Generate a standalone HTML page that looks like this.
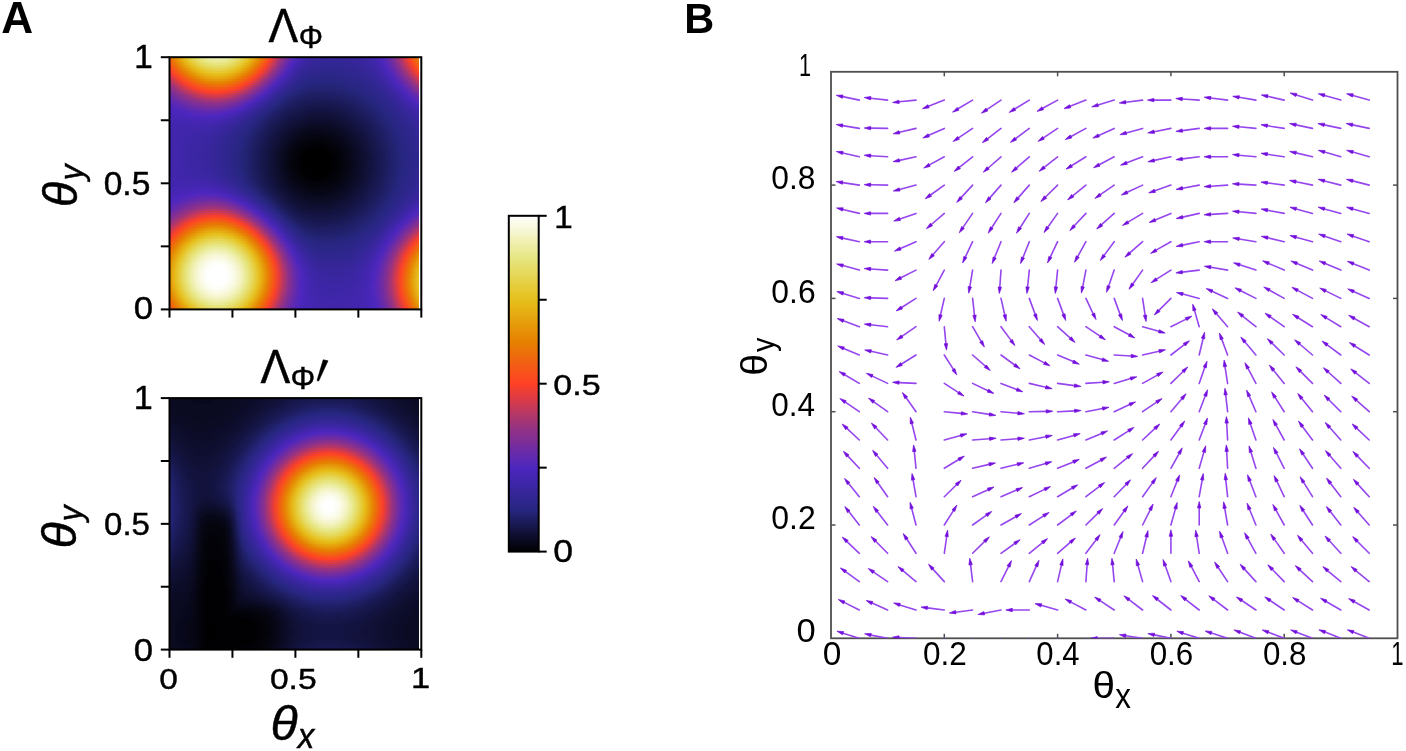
<!DOCTYPE html><html><head><meta charset="utf-8"><style>html,body{margin:0;padding:0;background:#fff}#root{position:relative;width:1406px;height:751px;overflow:hidden;background:#fff;filter:blur(0.4px)}svg text{font-family:"Liberation Sans",sans-serif}</style></head><body><div id="root">
<div style="position:absolute;left:169.5px;top:57.2px;width:249.5px;height:252.2px;overflow:hidden">
<div style="height:2px;background:linear-gradient(90deg,#ed6d0b,#e68904,#e6a30e,#e6bd18,#e6cc3c,#e6d85c,#e6e276,#e9e98f,#ededa3,#efefaf,#f0f0b3,#f0f0b3,#efefaf,#ecec9f,#e8e88b,#e6e172,#e6d759,#e6ca36,#e6bb18,#e69f0c,#e68301,#ef670f,#fb4921,#dd3c44,#b1366b,#8b318b,#712ca1,#5928b5,#4926ba,#4226ae,#3d26a6,#3a26a0,#37269c,#36269a,#352698,#352698,#352698,#352698,#352698,#36269a,#36269a,#37269c,#38269e,#3b26a2,#3d26a6,#4126ac,#4726b6,#4d26bf,#602aaf,#762d9d,#903287,#b43668,#e13c41,#fb4921,#ef670f,#e68502)"></div>
<div style="height:2px;background:linear-gradient(90deg,#f06510,#e68100,#e69b0b,#e6b515,#e6c72f,#e6d24c,#e6dd69,#e6e47c,#e9e98f,#ecec9f,#ededa3,#ededa3,#ebeb9b,#e9e98f,#e6e47c,#e6dc66,#e6d149,#e6c529,#e6b114,#e69709,#e77b03,#f35f14,#ff4126,#d43a4c,#a73573,#87308f,#6c2ca5,#5428b9,#4826b8,#4126ac,#3c26a4,#38269e,#36269a,#352698,#342696,#342696,#342696,#342696,#342696,#352698,#36269a,#37269c,#38269e,#3a26a0,#3d26a6,#4126ac,#4626b4,#4c26be,#5c29b3,#712ca1,#8b318b,#ad366e,#d73b49,#fe4324,#f26112,#e77d02)"></div>
<div style="height:2px;background:linear-gradient(90deg,#f35d15,#e87904,#e69308,#e6ad12,#e6c11f,#e6cd3f,#e6d759,#e6df6f,#e6e57f,#e8e88b,#e9e993,#e9e993,#e8e88b,#e6e47c,#e6de6c,#e6d656,#e6cc3c,#e6bf19,#e6a910,#e68f06,#eb7308,#f65718,#f43e30,#c73957,#9d347c,#802f95,#652aab,#5027bd,#4626b4,#4026aa,#3b26a2,#37269c,#352698,#342696,#322694,#322694,#322694,#322694,#342696,#342696,#352698,#36269a,#37269c,#3a26a0,#3c26a4,#4026aa,#4426b2,#4a26bc,#5928b5,#6f2ca3,#87308f,#a43476,#cd3a52,#fa3f2a,#f55917,#ea7506)"></div>
<div style="height:2px;background:linear-gradient(90deg,#f65718,#eb7109,#e68b05,#e6a30e,#e6b917,#e6c72f,#e6d149,#e6d95f,#e6df6f,#e6e379,#e6e57f,#e6e57f,#e6e379,#e6de6c,#e6d85c,#e6d046,#e6c62c,#e6b515,#e69f0c,#e68502,#ef690e,#fa4d1e,#e73d3b,#bd3860,#953283,#782e9b,#602aaf,#4c26be,#4326b0,#3d26a6,#38269e,#36269a,#342696,#322694,#312692,#312692,#312692,#312692,#322694,#322694,#342696,#352698,#36269a,#38269e,#3b26a2,#3e26a8,#4326b0,#4926ba,#5428b9,#6a2ba7,#822f93,#9d347c,#c4385a,#f13e33,#f8511c,#ed6d0b)"></div>
<div style="height:2px;background:linear-gradient(90deg,#f94f1d,#ef670f,#e68100,#e6990a,#e6af13,#e6c11f,#e6cb39,#e6d34f,#e6d95f,#e6dd69,#e6de6c,#e6de6c,#e6dd69,#e6d85c,#e6d24c,#e6ca36,#e6bf19,#e6ab11,#e69508,#e77b03,#f26112,#fd4523,#da3b46,#b1366b,#8b318b,#712ca1,#5928b5,#4926ba,#4126ac,#3b26a2,#37269c,#342696,#322694,#312692,#302690,#302690,#302690,#312692,#312692,#312692,#322694,#342696,#352698,#37269c,#3a26a0,#3d26a6,#4126ac,#4726b6,#5227bb,#652aab,#7b2e99,#953283,#ba3762,#e43c3e,#fb4921,#f06510)"></div>
<div style="height:2px;background:linear-gradient(90deg,#fd4523,#f35f14,#e97705,#e68f06,#e6a50f,#e6b716,#e6c426,#e6cc3c,#e6d24c,#e6d656,#e6d85c,#e6d85c,#e6d656,#e6d149,#e6cb39,#e6c322,#e6b515,#e69f0c,#e68904,#eb7109,#f65718,#f73f2d,#cd3a52,#a43476,#843091,#6a2ba7,#5428b9,#4726b6,#3e26a8,#3a26a0,#352698,#322694,#312692,#302690,#2f268e,#2f268e,#2f268e,#302690,#302690,#312692,#312692,#322694,#342696,#36269a,#38269e,#3c26a4,#4026aa,#4626b4,#4d26bf,#602aaf,#762d9d,#8e3189,#b1366b,#d73b49,#ff4126,#f35d15)"></div>
<div style="height:2px;background:linear-gradient(90deg,#fa3f2a,#f7551a,#ed6d0b,#e68502,#e6990a,#e6ab11,#e6bb18,#e6c529,#e6cb39,#e6cf42,#e6d149,#e6d149,#e6cf42,#e6ca36,#e6c426,#e6b917,#e6a910,#e69508,#e67f00,#f06510,#fa4d1e,#ea3d38,#c1385d,#973381,#7b2e99,#632aad,#4d26bf,#4326b0,#3c26a4,#37269c,#342696,#312692,#302690,#2f268e,#2e268c,#2e268c,#2e268c,#2f268e,#2f268e,#302690,#302690,#312692,#342696,#352698,#37269c,#3b26a2,#3e26a8,#4326b0,#4a26bc,#5c29b3,#6f2ca3,#87308f,#a73573,#cd3a52,#f43e30,#f7531b)"></div>
<div style="height:2px;background:linear-gradient(90deg,#ed3e36,#fa4d1e,#f16311,#e87904,#e68d05,#e6a10d,#e6af13,#e6bd18,#e6c426,#e6c72f,#e6ca36,#e6c932,#e6c72f,#e6c322,#e6bb18,#e6ad12,#e69b0b,#e68904,#eb7308,#f45b16,#ff4126,#da3b46,#b1366b,#8e3189,#732d9f,#5c29b3,#4926ba,#4126ac,#3a26a0,#352698,#312692,#302690,#2e268c,#2e268c,#2c268a,#2c268a,#2c268a,#2e268c,#2e268c,#2f268e,#302690,#302690,#322694,#342696,#36269a,#38269e,#3d26a6,#4226ae,#4926ba,#5728b7,#6a2ba7,#822f93,#9a337e,#c1385d,#e73d3b,#fb4921)"></div>
<div style="height:2px;background:linear-gradient(90deg,#e13c41,#fe4324,#f55917,#ec6f0a,#e68100,#e69308,#e6a30e,#e6af13,#e6b917,#e6bf19,#e6c11f,#e6c11f,#e6bf19,#e6b716,#e6ad12,#e69f0c,#e68f06,#e77b03,#ef670f,#f94f1d,#f13e33,#ca3954,#a13479,#843091,#6a2ba7,#5428b9,#4626b4,#3e26a8,#37269c,#342696,#302690,#2e268c,#2c268a,#2c268a,#2b2688,#2b2688,#2b2688,#2c268a,#2c268a,#2e268c,#2f268e,#302690,#312692,#322694,#352698,#37269c,#3b26a2,#4126ac,#4726b6,#5027bd,#632aad,#7b2e99,#933285,#b43668,#da3b46,#ff4126)"></div>
<div style="height:2px;background:linear-gradient(90deg,#d13a4f,#f43e30,#f94f1d,#f16311,#e97705,#e68703,#e69709,#e6a30e,#e6ad12,#e6b314,#e6b515,#e6b515,#e6b114,#e6ab11,#e69f0c,#e69308,#e68301,#ec6f0a,#f45b16,#fe4324,#dd3c44,#ba3762,#953283,#7b2e99,#602aaf,#4c26be,#4326b0,#3b26a2,#352698,#312692,#2f268e,#2c268a,#2b2688,#2b2688,#2a2686,#2a2686,#2a2686,#2b2688,#2b2688,#2c268a,#2e268c,#2f268e,#302690,#312692,#342696,#36269a,#3a26a0,#3e26a8,#4426b2,#4c26be,#5e29b1,#732d9f,#89308d,#a73573,#ca3954,#f13e33)"></div>
<div style="height:2px;background:linear-gradient(90deg,#c4385a,#e43c3e,#fe4324,#f65718,#ef690e,#e77b03,#e68904,#e69508,#e69f0c,#e6a50f,#e6a710,#e6a710,#e6a30e,#e69d0c,#e69308,#e68502,#ea7506,#f16311,#fa4d1e,#f13e33,#cd3a52,#a73573,#89308d,#712ca1,#5928b5,#4826b8,#4026aa,#38269e,#342696,#2f268e,#2c268a,#2b2688,#2a2686,#292684,#292684,#292684,#292684,#2a2686,#2a2686,#2b2688,#2c268a,#2e268c,#2f268e,#302690,#322694,#352698,#38269e,#3d26a6,#4226ae,#4926ba,#5728b7,#6c2ca5,#822f93,#9a337e,#bd3860,#e13c41)"></div>
<div style="height:2px;background:linear-gradient(90deg,#b73765,#d43a4c,#f43e30,#fb4b20,#f35d15,#ed6d0b,#e77b03,#e68703,#e69107,#e69709,#e6990a,#e6990a,#e69508,#e68f06,#e68502,#e97705,#ef670f,#f7551a,#ff4126,#dd3c44,#ba3762,#973381,#802f95,#652aab,#5027bd,#4426b2,#3c26a4,#36269a,#312692,#2e268c,#2b2688,#292684,#292684,#282682,#282682,#282682,#282682,#292684,#292684,#2a2686,#2b2688,#2c268a,#2e268c,#2f268e,#312692,#342696,#37269c,#3b26a2,#4126ac,#4726b6,#5227bb,#652aab,#7b2e99,#903287,#b1366b,#d13a4f)"></div>
<div style="height:2px;background:linear-gradient(90deg,#aa3570,#c73957,#e43c3e,#ff4126,#f8511c,#f26112,#ec6f0a,#e87904,#e68301,#e68703,#e68b05,#e68904,#e68703,#e67f00,#ea7506,#ef690e,#f55917,#fb4921,#ed3e36,#cd3a52,#aa3570,#8b318b,#732d9f,#5c29b3,#4926ba,#4126ac,#3a26a0,#342696,#2f268e,#2b2688,#292684,#282682,#282682,#262680,#262680,#262680,#262680,#282682,#282682,#292684,#2a2686,#2b2688,#2c268a,#2e268c,#302690,#322694,#36269a,#3a26a0,#3e26a8,#4426b2,#4d26bf,#5e29b1,#712ca1,#89308d,#a13479,#c1385d)"></div>
<div style="height:2px;background:linear-gradient(90deg,#9d347c,#b73765,#d43a4c,#ed3e36,#fd4523,#f7531b,#f26112,#ee6b0c,#eb7308,#e87904,#e77b03,#e77b03,#e97705,#eb7109,#ef670f,#f45b16,#fb4b20,#f73f2d,#da3b46,#ba3762,#973381,#802f95,#682ba9,#5227bb,#4626b4,#3d26a6,#36269a,#302690,#2c268a,#2a2686,#282682,#262680,#25257c,#25257c,#25257c,#25257c,#25257c,#262680,#262680,#282682,#292684,#2a2686,#2b2688,#2c268a,#2f268e,#312692,#342696,#37269c,#3c26a4,#4226ae,#4926ba,#5728b7,#6a2ba7,#802f95,#953283,#b1366b)"></div>
<div style="height:2px;background:linear-gradient(90deg,#933285,#a73573,#c1385d,#da3b46,#f43e30,#fc4722,#f7531b,#f35d15,#f06510,#ee6b0c,#ed6d0b,#ed6d0b,#ef690e,#f16311,#f55917,#fa4d1e,#fd4028,#e13c41,#c4385a,#a73573,#8b318b,#732d9f,#5e29b1,#4a26bc,#4226ae,#3a26a0,#342696,#2e268c,#2a2686,#282682,#262680,#25257c,#242478,#242478,#242478,#242478,#242478,#25257c,#25257c,#262680,#282682,#292684,#2a2686,#2b2688,#2e268c,#302690,#322694,#36269a,#3b26a2,#4026aa,#4726b6,#5227bb,#632aad,#762d9d,#8b318b,#a43476)"></div>
<div style="height:2px;background:linear-gradient(90deg,#89308d,#9a337e,#b43668,#ca3954,#e13c41,#f73f2d,#fc4722,#f94f1d,#f65718,#f35d15,#f35f14,#f35d15,#f45b16,#f7531b,#fb4b20,#fd4028,#e73d3b,#cd3a52,#b1366b,#953283,#802f95,#682ba9,#5428b9,#4626b4,#3d26a6,#36269a,#302690,#2b2688,#292684,#262680,#242478,#242478,#232374,#232374,#232374,#232374,#232374,#242478,#242478,#25257c,#262680,#282682,#292684,#2a2686,#2c268a,#2f268e,#312692,#352698,#38269e,#3e26a8,#4426b2,#4c26be,#5c29b3,#6c2ca5,#822f93,#953283)"></div>
<div style="height:2px;background:linear-gradient(90deg,#802f95,#903287,#a43476,#ba3762,#cd3a52,#e43c3e,#f43e30,#fe4324,#fb4921,#fa4d1e,#f94f1d,#f94f1d,#fb4b20,#fd4523,#fa3f2a,#e73d3b,#d13a4f,#b73765,#9d347c,#87308f,#712ca1,#5e29b1,#4a26bc,#4226ae,#3a26a0,#342696,#2e268c,#2a2686,#262680,#242478,#232374,#222270,#222270,#222270,#222270,#222270,#222270,#232374,#232374,#242478,#25257c,#262680,#282682,#292684,#2b2688,#2e268c,#302690,#342696,#37269c,#3c26a4,#4226ae,#4826b8,#5428b9,#652aab,#782e9b,#8b318b)"></div>
<div style="height:2px;background:linear-gradient(90deg,#782e9b,#87308f,#953283,#aa3570,#bd3860,#d13a4f,#e13c41,#ed3e36,#f73f2d,#fd4028,#ff4126,#ff4126,#fa3f2a,#f13e33,#e43c3e,#d13a4f,#bd3860,#a43476,#8e3189,#7b2e99,#652aab,#5227bb,#4626b4,#3d26a6,#36269a,#302690,#2b2688,#282682,#25257c,#232374,#222270,#20206c,#20206c,#20206c,#20206c,#20206c,#20206c,#222270,#222270,#232374,#242478,#25257c,#262680,#282682,#2a2686,#2c268a,#2f268e,#312692,#352698,#3a26a0,#4026aa,#4626b4,#4d26bf,#5e29b1,#6f2ca3,#802f95)"></div>
<div style="height:2px;background:linear-gradient(90deg,#712ca1,#7d2e97,#8b318b,#9a337e,#aa3570,#bd3860,#ca3954,#d73b49,#e43c3e,#e73d3b,#ea3d38,#ea3d38,#e43c3e,#da3b46,#cd3a52,#ba3762,#a73573,#933285,#802f95,#6c2ca5,#5c29b3,#4a26bc,#4226ae,#3a26a0,#322694,#2e268c,#292684,#25257c,#232374,#222270,#20206c,#1f1f68,#1f1f68,#1e1e64,#1e1e64,#1f1f68,#1f1f68,#20206c,#20206c,#222270,#232374,#242478,#25257c,#282682,#292684,#2b2688,#2e268c,#302690,#342696,#38269e,#3d26a6,#4326b0,#4926ba,#5728b7,#652aab,#762d9d)"></div>
<div style="height:2px;background:linear-gradient(90deg,#6a2ba7,#732d9f,#822f93,#8e3189,#9a337e,#aa3570,#ba3762,#c4385a,#cd3a52,#d43a4c,#d43a4c,#d43a4c,#cd3a52,#c4385a,#b73765,#a73573,#953283,#843091,#732d9f,#602aaf,#5027bd,#4626b4,#3d26a6,#36269a,#302690,#2a2686,#262680,#242478,#222270,#1f1f68,#1f1f68,#1e1e64,#1e1e64,#1d1d60,#1d1d60,#1e1e64,#1e1e64,#1e1e64,#1f1f68,#20206c,#222270,#232374,#242478,#262680,#282682,#2a2686,#2c268a,#2f268e,#322694,#36269a,#3b26a2,#4126ac,#4726b6,#5027bd,#5e29b1,#6c2ca5)"></div>
<div style="height:2px;background:linear-gradient(90deg,#632aad,#6c2ca5,#782e9b,#843091,#8e3189,#9a337e,#a73573,#b1366b,#ba3762,#bd3860,#c1385d,#bd3860,#ba3762,#b1366b,#a43476,#953283,#87308f,#782e9b,#682ba9,#5728b7,#4826b8,#4126ac,#3a26a0,#322694,#2c268a,#282682,#242478,#222270,#1f1f68,#1e1e64,#1d1d60,#1d1d60,#1c1c5c,#1c1c5c,#1c1c5c,#1d1d60,#1d1d60,#1d1d60,#1e1e64,#1f1f68,#20206c,#222270,#232374,#25257c,#262680,#292684,#2b2688,#2e268c,#312692,#352698,#38269e,#3e26a8,#4326b0,#4a26bc,#5428b9,#632aad)"></div>
<div style="height:2px;background:linear-gradient(90deg,#5c29b3,#652aab,#6f2ca3,#782e9b,#843091,#8e3189,#953283,#9d347c,#a73573,#aa3570,#ad366e,#aa3570,#a43476,#9a337e,#933285,#87308f,#782e9b,#6a2ba7,#5c29b3,#4c26be,#4326b0,#3c26a4,#352698,#2f268e,#2a2686,#262680,#232374,#20206c,#1e1e64,#1d1d60,#1c1c5c,#1c1c5c,#1a1a58,#1a1a58,#1a1a58,#1a1a58,#1c1c5c,#1c1c5c,#1d1d60,#1e1e64,#1f1f68,#20206c,#222270,#242478,#25257c,#282682,#2a2686,#2c268a,#302690,#322694,#37269c,#3c26a4,#4126ac,#4726b6,#4d26bf,#5c29b3)"></div>
<div style="height:2px;background:linear-gradient(90deg,#5728b7,#5e29b1,#682ba9,#712ca1,#782e9b,#822f93,#89308d,#903287,#953283,#973381,#9a337e,#973381,#933285,#8b318b,#843091,#782e9b,#6c2ca5,#5e29b1,#5027bd,#4726b6,#3e26a8,#38269e,#312692,#2c268a,#282682,#242478,#20206c,#1e1e64,#1d1d60,#1c1c5c,#1a1a58,#1a1a58,#191954,#191954,#191954,#191954,#1a1a58,#1a1a58,#1c1c5c,#1d1d60,#1e1e64,#1f1f68,#222270,#232374,#242478,#262680,#292684,#2b2688,#2e268c,#312692,#352698,#3a26a0,#3e26a8,#4426b2,#4a26bc,#5428b9)"></div>
<div style="height:2px;background:linear-gradient(90deg,#5227bb,#5928b5,#602aaf,#682ba9,#712ca1,#782e9b,#802f95,#843091,#89308d,#8b318b,#8b318b,#89308d,#843091,#802f95,#762d9d,#6c2ca5,#602aaf,#5227bb,#4826b8,#4226ae,#3b26a2,#352698,#2f268e,#2a2686,#25257c,#222270,#1f1f68,#1d1d60,#1c1c5c,#1a1a58,#191954,#191954,#181850,#181850,#181850,#181850,#191954,#191954,#1a1a58,#1c1c5c,#1d1d60,#1e1e64,#20206c,#222270,#242478,#25257c,#282682,#2a2686,#2c268a,#302690,#342696,#37269c,#3c26a4,#4126ac,#4726b6,#4d26bf)"></div>
<div style="height:2px;background:linear-gradient(90deg,#4d26bf,#5428b9,#5928b5,#602aaf,#682ba9,#6f2ca3,#732d9f,#782e9b,#7d2e97,#802f95,#802f95,#7d2e97,#782e9b,#712ca1,#6a2ba7,#602aaf,#5428b9,#4a26bc,#4326b0,#3d26a6,#37269c,#312692,#2b2688,#262680,#232374,#20206c,#1e1e64,#1c1c5c,#1a1a58,#191954,#181850,#17174c,#17174c,#17174c,#17174c,#17174c,#181850,#181850,#191954,#1a1a58,#1c1c5c,#1d1d60,#1f1f68,#20206c,#232374,#242478,#262680,#292684,#2c268a,#2f268e,#322694,#36269a,#3b26a2,#3e26a8,#4426b2,#4926ba)"></div>
<div style="height:2px;background:linear-gradient(90deg,#4c26be,#5027bd,#5428b9,#5928b5,#602aaf,#652aab,#6a2ba7,#6f2ca3,#712ca1,#732d9f,#732d9f,#712ca1,#6c2ca5,#652aab,#5e29b1,#5428b9,#4c26be,#4626b4,#4026aa,#38269e,#342696,#2e268c,#292684,#25257c,#222270,#1e1e64,#1c1c5c,#1a1a58,#191954,#181850,#17174c,#161648,#161648,#161648,#161648,#161648,#17174c,#17174c,#181850,#191954,#1a1a58,#1c1c5c,#1e1e64,#1f1f68,#222270,#242478,#25257c,#282682,#2b2688,#2e268c,#312692,#352698,#38269e,#3d26a6,#4126ac,#4626b4)"></div>
<div style="height:2px;background:linear-gradient(90deg,#4926ba,#4c26be,#5027bd,#5428b9,#5928b5,#5e29b1,#602aaf,#652aab,#682ba9,#682ba9,#682ba9,#652aab,#602aaf,#5c29b3,#5428b9,#4c26be,#4626b4,#4126ac,#3b26a2,#352698,#302690,#2b2688,#262680,#232374,#1f1f68,#1d1d60,#1a1a58,#191954,#181850,#17174c,#161648,#141444,#141444,#141444,#141444,#141444,#161648,#161648,#17174c,#181850,#191954,#1c1c5c,#1d1d60,#1f1f68,#20206c,#232374,#25257c,#282682,#2a2686,#2c268a,#302690,#322694,#37269c,#3b26a2,#3e26a8,#4326b0)"></div>
<div style="height:2px;background:linear-gradient(90deg,#4826b8,#4a26bc,#4c26be,#4d26bf,#5227bb,#5728b7,#5928b5,#5c29b3,#5e29b1,#5e29b1,#5e29b1,#5c29b3,#5728b7,#5227bb,#4c26be,#4726b6,#4226ae,#3c26a4,#37269c,#322694,#2c268a,#292684,#242478,#20206c,#1e1e64,#1c1c5c,#191954,#181850,#17174c,#161648,#141444,#131340,#131340,#131340,#131340,#131340,#141444,#141444,#161648,#17174c,#181850,#1a1a58,#1c1c5c,#1e1e64,#1f1f68,#222270,#242478,#262680,#292684,#2b2688,#2f268e,#312692,#352698,#38269e,#3d26a6,#4126ac)"></div>
<div style="height:2px;background:linear-gradient(90deg,#4726b6,#4826b8,#4926ba,#4c26be,#4d26bf,#5027bd,#5227bb,#5428b9,#5728b7,#5728b7,#5428b9,#5227bb,#4d26bf,#4a26bc,#4726b6,#4226ae,#3d26a6,#38269e,#342696,#2f268e,#2a2686,#262680,#232374,#1f1f68,#1d1d60,#1a1a58,#181850,#17174c,#161648,#141444,#131340,#12123c,#12123c,#12123c,#12123c,#12123c,#131340,#131340,#141444,#161648,#181850,#191954,#1a1a58,#1d1d60,#1f1f68,#20206c,#232374,#25257c,#282682,#2a2686,#2e268c,#302690,#342696,#37269c,#3b26a2,#3e26a8)"></div>
<div style="height:2px;background:linear-gradient(90deg,#4626b4,#4726b6,#4826b8,#4926ba,#4a26bc,#4c26be,#4d26bf,#4d26bf,#5027bd,#4d26bf,#4d26bf,#4c26be,#4926ba,#4626b4,#4226ae,#3e26a8,#3a26a0,#36269a,#312692,#2c268a,#282682,#242478,#20206c,#1e1e64,#1c1c5c,#191954,#17174c,#161648,#141444,#131340,#12123c,#111138,#111138,#111138,#111138,#111138,#12123c,#12123c,#131340,#141444,#17174c,#181850,#1a1a58,#1c1c5c,#1e1e64,#20206c,#222270,#242478,#282682,#2a2686,#2c268a,#302690,#322694,#36269a,#3a26a0,#3d26a6)"></div>
<div style="height:2px;background:linear-gradient(90deg,#4626b4,#4626b4,#4726b6,#4726b6,#4826b8,#4926ba,#4926ba,#4a26bc,#4a26bc,#4a26bc,#4926ba,#4726b6,#4626b4,#4226ae,#3e26a8,#3b26a2,#37269c,#322694,#2f268e,#2a2686,#262680,#232374,#1f1f68,#1d1d60,#1a1a58,#181850,#161648,#141444,#131340,#12123c,#111138,#101034,#101034,#101034,#101034,#101034,#111138,#111138,#12123c,#131340,#161648,#17174c,#191954,#1a1a58,#1d1d60,#1f1f68,#222270,#242478,#262680,#292684,#2b2688,#2f268e,#312692,#352698,#38269e,#3b26a2)"></div>
<div style="height:2px;background:linear-gradient(90deg,#4426b2,#4426b2,#4626b4,#4626b4,#4726b6,#4726b6,#4726b6,#4826b8,#4726b6,#4726b6,#4626b4,#4426b2,#4226ae,#4026aa,#3c26a4,#38269e,#342696,#302690,#2c268a,#282682,#242478,#222270,#1e1e64,#1c1c5c,#191954,#17174c,#141444,#131340,#12123c,#111138,#101034,#0e0e30,#0e0e30,#0e0e30,#0e0e30,#0e0e30,#101034,#111138,#111138,#131340,#141444,#161648,#181850,#1a1a58,#1c1c5c,#1e1e64,#20206c,#232374,#25257c,#282682,#2b2688,#2e268c,#302690,#342696,#36269a,#3a26a0)"></div>
<div style="height:2px;background:linear-gradient(90deg,#4426b2,#4426b2,#4426b2,#4426b2,#4426b2,#4626b4,#4626b4,#4626b4,#4426b2,#4426b2,#4326b0,#4126ac,#4026aa,#3c26a4,#3a26a0,#36269a,#312692,#2e268c,#2a2686,#262680,#232374,#1f1f68,#1d1d60,#1a1a58,#181850,#161648,#131340,#12123c,#111138,#101034,#0e0e30,#0d0d2c,#0d0d2c,#0d0d2c,#0d0d2c,#0d0d2c,#0e0e30,#101034,#111138,#12123c,#131340,#161648,#17174c,#191954,#1c1c5c,#1e1e64,#20206c,#232374,#25257c,#282682,#2a2686,#2c268a,#302690,#322694,#36269a,#38269e)"></div>
<div style="height:2px;background:linear-gradient(90deg,#4326b0,#4326b0,#4326b0,#4326b0,#4326b0,#4326b0,#4326b0,#4326b0,#4326b0,#4226ae,#4126ac,#3e26a8,#3c26a4,#3a26a0,#37269c,#342696,#302690,#2c268a,#292684,#25257c,#222270,#1e1e64,#1c1c5c,#191954,#17174c,#141444,#131340,#111138,#101034,#0e0e30,#0d0d2c,#0c0c28,#0c0c28,#0c0c28,#0c0c28,#0c0c28,#0d0d2c,#0e0e30,#101034,#111138,#12123c,#141444,#161648,#181850,#1a1a58,#1d1d60,#1f1f68,#222270,#242478,#262680,#292684,#2c268a,#2f268e,#312692,#352698,#37269c)"></div>
<div style="height:2px;background:linear-gradient(90deg,#4326b0,#4326b0,#4326b0,#4326b0,#4226ae,#4226ae,#4226ae,#4226ae,#4126ac,#4026aa,#3e26a8,#3d26a6,#3b26a2,#37269c,#352698,#312692,#2e268c,#2a2686,#262680,#242478,#20206c,#1e1e64,#1a1a58,#181850,#161648,#131340,#12123c,#101034,#0e0e30,#0d0d2c,#0c0c28,#0b0b24,#0b0b24,#0b0b24,#0b0b24,#0b0b24,#0c0c28,#0d0d2c,#0e0e30,#101034,#111138,#131340,#161648,#17174c,#191954,#1c1c5c,#1e1e64,#20206c,#232374,#262680,#292684,#2b2688,#2e268c,#312692,#342696,#36269a)"></div>
<div style="height:2px;background:linear-gradient(90deg,#4226ae,#4226ae,#4226ae,#4226ae,#4226ae,#4126ac,#4126ac,#4126ac,#4026aa,#3e26a8,#3d26a6,#3b26a2,#38269e,#36269a,#322694,#302690,#2c268a,#292684,#25257c,#232374,#1f1f68,#1d1d60,#191954,#17174c,#141444,#131340,#111138,#0e0e30,#0d0d2c,#0c0c28,#0b0b24,#0a0a20,#0a0a20,#0a0a20,#0a0a20,#0a0a20,#0b0b24,#0c0c28,#0d0d2c,#0e0e30,#111138,#12123c,#141444,#17174c,#191954,#1c1c5c,#1e1e64,#20206c,#232374,#25257c,#282682,#2b2688,#2e268c,#302690,#322694,#36269a)"></div>
<div style="height:2px;background:linear-gradient(90deg,#4226ae,#4226ae,#4226ae,#4126ac,#4126ac,#4126ac,#4026aa,#4026aa,#3e26a8,#3d26a6,#3b26a2,#3a26a0,#37269c,#352698,#312692,#2f268e,#2b2688,#282682,#242478,#222270,#1e1e64,#1c1c5c,#191954,#17174c,#141444,#12123c,#101034,#0d0d2c,#0c0c28,#0b0b24,#0a0a20,#08081c,#08081c,#08081c,#08081c,#0a0a20,#0a0a20,#0b0b24,#0c0c28,#0e0e30,#101034,#12123c,#131340,#161648,#181850,#1a1a58,#1d1d60,#1f1f68,#222270,#25257c,#282682,#2a2686,#2c268a,#302690,#322694,#352698)"></div>
<div style="height:2px;background:linear-gradient(90deg,#4226ae,#4226ae,#4126ac,#4126ac,#4026aa,#4026aa,#3e26a8,#3e26a8,#3d26a6,#3c26a4,#3a26a0,#38269e,#36269a,#342696,#302690,#2e268c,#2a2686,#262680,#242478,#20206c,#1e1e64,#1a1a58,#181850,#161648,#131340,#111138,#0e0e30,#0d0d2c,#0b0b24,#0a0a20,#08081c,#08081c,#070718,#070718,#070718,#08081c,#08081c,#0a0a20,#0b0b24,#0d0d2c,#0e0e30,#111138,#131340,#161648,#181850,#1a1a58,#1d1d60,#1f1f68,#222270,#242478,#262680,#2a2686,#2c268a,#2f268e,#312692,#342696)"></div>
<div style="height:2px;background:linear-gradient(90deg,#4226ae,#4126ac,#4126ac,#4126ac,#4026aa,#3e26a8,#3e26a8,#3d26a6,#3c26a4,#3b26a2,#38269e,#37269c,#352698,#322694,#2f268e,#2c268a,#292684,#262680,#232374,#1f1f68,#1d1d60,#1a1a58,#181850,#141444,#12123c,#101034,#0e0e30,#0c0c28,#0a0a20,#08081c,#070718,#070718,#060614,#060614,#060614,#070718,#08081c,#0a0a20,#0b0b24,#0c0c28,#0e0e30,#101034,#12123c,#141444,#17174c,#191954,#1c1c5c,#1e1e64,#222270,#242478,#262680,#292684,#2b2688,#2f268e,#312692,#342696)"></div>
<div style="height:2px;background:linear-gradient(90deg,#4126ac,#4126ac,#4126ac,#4026aa,#4026aa,#3e26a8,#3d26a6,#3c26a4,#3b26a2,#3a26a0,#38269e,#36269a,#342696,#312692,#2e268c,#2b2688,#282682,#25257c,#222270,#1f1f68,#1c1c5c,#191954,#17174c,#141444,#12123c,#101034,#0d0d2c,#0b0b24,#0a0a20,#070718,#060614,#060614,#060614,#050510,#060614,#060614,#070718,#08081c,#0a0a20,#0b0b24,#0d0d2c,#101034,#111138,#131340,#161648,#191954,#1c1c5c,#1e1e64,#20206c,#232374,#262680,#292684,#2b2688,#2e268c,#302690,#322694)"></div>
<div style="height:2px;background:linear-gradient(90deg,#4126ac,#4126ac,#4026aa,#4026aa,#3e26a8,#3e26a8,#3d26a6,#3c26a4,#3b26a2,#3a26a0,#37269c,#352698,#322694,#302690,#2e268c,#2a2686,#282682,#242478,#222270,#1e1e64,#1c1c5c,#191954,#161648,#131340,#111138,#0e0e30,#0c0c28,#0a0a20,#08081c,#070718,#060614,#050510,#050510,#050510,#050510,#050510,#060614,#070718,#08081c,#0b0b24,#0c0c28,#0e0e30,#111138,#131340,#161648,#181850,#1a1a58,#1e1e64,#20206c,#232374,#25257c,#282682,#2b2688,#2e268c,#302690,#322694)"></div>
<div style="height:2px;background:linear-gradient(90deg,#4126ac,#4126ac,#4026aa,#4026aa,#3e26a8,#3d26a6,#3c26a4,#3c26a4,#3a26a0,#38269e,#37269c,#352698,#322694,#302690,#2c268a,#2a2686,#262680,#242478,#20206c,#1e1e64,#1c1c5c,#181850,#161648,#131340,#111138,#0d0d2c,#0b0b24,#0a0a20,#070718,#060614,#050510,#04040c,#04040c,#04040c,#04040c,#050510,#060614,#070718,#08081c,#0a0a20,#0c0c28,#0e0e30,#101034,#12123c,#161648,#181850,#1a1a58,#1d1d60,#1f1f68,#232374,#25257c,#282682,#2a2686,#2e268c,#302690,#322694)"></div>
<div style="height:2px;background:linear-gradient(90deg,#4126ac,#4126ac,#4026aa,#3e26a8,#3e26a8,#3d26a6,#3c26a4,#3b26a2,#3a26a0,#38269e,#36269a,#342696,#312692,#2f268e,#2c268a,#292684,#262680,#232374,#20206c,#1d1d60,#1a1a58,#181850,#141444,#12123c,#101034,#0d0d2c,#0b0b24,#08081c,#060614,#050510,#04040c,#04040c,#020208,#020208,#04040c,#04040c,#050510,#060614,#070718,#0a0a20,#0b0b24,#0d0d2c,#101034,#12123c,#141444,#17174c,#1a1a58,#1d1d60,#1f1f68,#222270,#25257c,#282682,#2a2686,#2c268a,#2f268e,#312692)"></div>
<div style="height:2px;background:linear-gradient(90deg,#4126ac,#4026aa,#4026aa,#3e26a8,#3e26a8,#3d26a6,#3c26a4,#3b26a2,#3a26a0,#37269c,#36269a,#342696,#312692,#2f268e,#2b2688,#292684,#262680,#232374,#20206c,#1d1d60,#1a1a58,#17174c,#141444,#12123c,#0e0e30,#0c0c28,#0a0a20,#070718,#060614,#04040c,#04040c,#020208,#020208,#020208,#020208,#04040c,#04040c,#050510,#070718,#08081c,#0b0b24,#0d0d2c,#101034,#12123c,#141444,#17174c,#191954,#1c1c5c,#1f1f68,#222270,#242478,#282682,#2a2686,#2c268a,#2f268e,#312692)"></div>
<div style="height:2px;background:linear-gradient(90deg,#4126ac,#4026aa,#4026aa,#3e26a8,#3d26a6,#3d26a6,#3c26a4,#3b26a2,#38269e,#37269c,#352698,#342696,#312692,#2e268c,#2b2688,#292684,#25257c,#232374,#1f1f68,#1d1d60,#191954,#17174c,#141444,#111138,#0e0e30,#0c0c28,#0a0a20,#070718,#050510,#04040c,#020208,#020208,#010104,#010104,#010104,#020208,#04040c,#050510,#060614,#08081c,#0a0a20,#0c0c28,#0e0e30,#111138,#131340,#17174c,#191954,#1c1c5c,#1e1e64,#222270,#242478,#262680,#2a2686,#2c268a,#2f268e,#312692)"></div>
<div style="height:2px;background:linear-gradient(90deg,#4126ac,#4026aa,#4026aa,#3e26a8,#3d26a6,#3d26a6,#3c26a4,#3a26a0,#38269e,#37269c,#352698,#322694,#302690,#2e268c,#2b2688,#282682,#25257c,#222270,#1f1f68,#1d1d60,#191954,#17174c,#131340,#111138,#0e0e30,#0b0b24,#08081c,#060614,#050510,#020208,#020208,#010104,#010104,#010104,#010104,#020208,#020208,#04040c,#060614,#070718,#0a0a20,#0c0c28,#0e0e30,#111138,#131340,#161648,#191954,#1c1c5c,#1e1e64,#222270,#242478,#262680,#292684,#2c268a,#2f268e,#312692)"></div>
<div style="height:2px;background:linear-gradient(90deg,#4126ac,#4026aa,#4026aa,#3e26a8,#3d26a6,#3c26a4,#3b26a2,#3a26a0,#38269e,#37269c,#352698,#322694,#302690,#2e268c,#2b2688,#282682,#25257c,#222270,#1f1f68,#1c1c5c,#191954,#161648,#131340,#111138,#0d0d2c,#0b0b24,#08081c,#060614,#04040c,#020208,#010104,#010104,#000000,#000000,#010104,#010104,#020208,#04040c,#050510,#070718,#0a0a20,#0b0b24,#0d0d2c,#111138,#131340,#161648,#181850,#1c1c5c,#1e1e64,#20206c,#242478,#262680,#292684,#2b2688,#2f268e,#312692)"></div>
<div style="height:2px;background:linear-gradient(90deg,#4126ac,#4026aa,#4026aa,#3e26a8,#3d26a6,#3c26a4,#3b26a2,#3a26a0,#38269e,#37269c,#352698,#322694,#302690,#2e268c,#2a2686,#282682,#242478,#222270,#1f1f68,#1c1c5c,#191954,#161648,#131340,#101034,#0d0d2c,#0b0b24,#070718,#050510,#04040c,#020208,#010104,#000000,#000000,#000000,#000000,#010104,#020208,#04040c,#050510,#070718,#08081c,#0b0b24,#0d0d2c,#101034,#131340,#161648,#181850,#1a1a58,#1e1e64,#20206c,#242478,#262680,#292684,#2b2688,#2e268c,#302690)"></div>
<div style="height:2px;background:linear-gradient(90deg,#4126ac,#4026aa,#4026aa,#3e26a8,#3d26a6,#3c26a4,#3b26a2,#3a26a0,#38269e,#36269a,#352698,#322694,#302690,#2e268c,#2a2686,#282682,#242478,#222270,#1e1e64,#1c1c5c,#181850,#161648,#131340,#101034,#0d0d2c,#0a0a20,#070718,#050510,#020208,#010104,#010104,#000000,#000000,#000000,#000000,#010104,#010104,#020208,#050510,#060614,#08081c,#0b0b24,#0d0d2c,#101034,#12123c,#161648,#181850,#1a1a58,#1e1e64,#20206c,#232374,#262680,#292684,#2b2688,#2e268c,#302690)"></div>
<div style="height:2px;background:linear-gradient(90deg,#4126ac,#4026aa,#4026aa,#3e26a8,#3d26a6,#3c26a4,#3b26a2,#3a26a0,#38269e,#36269a,#352698,#322694,#302690,#2e268c,#2a2686,#282682,#242478,#222270,#1e1e64,#1c1c5c,#181850,#161648,#12123c,#101034,#0c0c28,#0a0a20,#070718,#050510,#020208,#010104,#000000,#000000,#000000,#000000,#000000,#000000,#010104,#020208,#04040c,#060614,#08081c,#0b0b24,#0d0d2c,#101034,#12123c,#141444,#181850,#1a1a58,#1e1e64,#20206c,#232374,#262680,#292684,#2b2688,#2e268c,#302690)"></div>
<div style="height:2px;background:linear-gradient(90deg,#4126ac,#4026aa,#4026aa,#3e26a8,#3d26a6,#3c26a4,#3b26a2,#3a26a0,#38269e,#36269a,#352698,#322694,#302690,#2c268a,#2a2686,#282682,#242478,#222270,#1e1e64,#1c1c5c,#181850,#161648,#12123c,#101034,#0c0c28,#0a0a20,#070718,#050510,#020208,#010104,#000000,#000000,#000000,#000000,#000000,#000000,#010104,#020208,#04040c,#060614,#08081c,#0b0b24,#0d0d2c,#101034,#12123c,#141444,#181850,#1a1a58,#1d1d60,#20206c,#232374,#262680,#292684,#2b2688,#2e268c,#302690)"></div>
<div style="height:2px;background:linear-gradient(90deg,#4126ac,#4026aa,#4026aa,#3e26a8,#3d26a6,#3c26a4,#3b26a2,#3a26a0,#38269e,#36269a,#352698,#322694,#302690,#2e268c,#2a2686,#282682,#242478,#222270,#1e1e64,#1c1c5c,#181850,#161648,#12123c,#101034,#0c0c28,#0a0a20,#060614,#04040c,#020208,#010104,#000000,#000000,#000000,#000000,#000000,#000000,#010104,#020208,#04040c,#060614,#08081c,#0a0a20,#0d0d2c,#101034,#12123c,#141444,#181850,#1a1a58,#1d1d60,#20206c,#232374,#25257c,#292684,#2b2688,#2e268c,#302690)"></div>
<div style="height:2px;background:linear-gradient(90deg,#4126ac,#4026aa,#4026aa,#3e26a8,#3d26a6,#3c26a4,#3b26a2,#3a26a0,#38269e,#37269c,#352698,#322694,#302690,#2e268c,#2a2686,#282682,#242478,#222270,#1e1e64,#1c1c5c,#181850,#161648,#12123c,#101034,#0c0c28,#0a0a20,#060614,#04040c,#020208,#010104,#000000,#000000,#000000,#000000,#000000,#000000,#010104,#020208,#04040c,#060614,#070718,#0a0a20,#0c0c28,#101034,#12123c,#141444,#181850,#1a1a58,#1d1d60,#20206c,#232374,#25257c,#292684,#2b2688,#2e268c,#302690)"></div>
<div style="height:2px;background:linear-gradient(90deg,#4126ac,#4026aa,#4026aa,#3e26a8,#3d26a6,#3c26a4,#3c26a4,#3a26a0,#38269e,#37269c,#352698,#322694,#302690,#2e268c,#2a2686,#282682,#242478,#222270,#1e1e64,#1c1c5c,#181850,#161648,#12123c,#101034,#0c0c28,#0a0a20,#060614,#04040c,#020208,#010104,#000000,#000000,#000000,#000000,#000000,#000000,#010104,#020208,#04040c,#060614,#070718,#0a0a20,#0c0c28,#101034,#12123c,#141444,#181850,#1a1a58,#1d1d60,#20206c,#232374,#25257c,#292684,#2b2688,#2e268c,#302690)"></div>
<div style="height:2px;background:linear-gradient(90deg,#4126ac,#4026aa,#4026aa,#3e26a8,#3d26a6,#3d26a6,#3c26a4,#3b26a2,#38269e,#37269c,#352698,#322694,#302690,#2e268c,#2a2686,#282682,#242478,#222270,#1e1e64,#1c1c5c,#181850,#161648,#12123c,#101034,#0c0c28,#0a0a20,#060614,#04040c,#020208,#010104,#000000,#000000,#000000,#000000,#000000,#000000,#010104,#020208,#04040c,#060614,#08081c,#0a0a20,#0d0d2c,#101034,#12123c,#141444,#181850,#1a1a58,#1d1d60,#20206c,#232374,#25257c,#292684,#2b2688,#2e268c,#302690)"></div>
<div style="height:2px;background:linear-gradient(90deg,#4126ac,#4026aa,#4026aa,#3e26a8,#3e26a8,#3d26a6,#3c26a4,#3b26a2,#3a26a0,#37269c,#36269a,#342696,#312692,#2e268c,#2b2688,#282682,#25257c,#222270,#1e1e64,#1c1c5c,#181850,#161648,#12123c,#101034,#0c0c28,#0a0a20,#070718,#050510,#020208,#010104,#000000,#000000,#000000,#000000,#000000,#000000,#010104,#020208,#04040c,#060614,#08081c,#0b0b24,#0d0d2c,#101034,#12123c,#141444,#181850,#1a1a58,#1d1d60,#20206c,#232374,#262680,#292684,#2b2688,#2e268c,#302690)"></div>
<div style="height:2px;background:linear-gradient(90deg,#4126ac,#4126ac,#4026aa,#3e26a8,#3e26a8,#3d26a6,#3c26a4,#3b26a2,#3a26a0,#38269e,#36269a,#342696,#312692,#2f268e,#2b2688,#282682,#25257c,#222270,#1f1f68,#1c1c5c,#181850,#161648,#12123c,#101034,#0d0d2c,#0a0a20,#070718,#050510,#020208,#010104,#010104,#000000,#000000,#000000,#000000,#000000,#010104,#020208,#050510,#060614,#08081c,#0b0b24,#0d0d2c,#101034,#12123c,#141444,#181850,#1a1a58,#1e1e64,#20206c,#232374,#262680,#292684,#2b2688,#2e268c,#312692)"></div>
<div style="height:2px;background:linear-gradient(90deg,#4126ac,#4126ac,#4026aa,#4026aa,#3e26a8,#3d26a6,#3d26a6,#3c26a4,#3a26a0,#38269e,#36269a,#352698,#312692,#2f268e,#2b2688,#292684,#25257c,#222270,#1f1f68,#1c1c5c,#191954,#161648,#131340,#101034,#0d0d2c,#0a0a20,#070718,#050510,#04040c,#010104,#010104,#000000,#000000,#000000,#000000,#010104,#010104,#020208,#050510,#060614,#08081c,#0b0b24,#0d0d2c,#101034,#12123c,#161648,#181850,#1a1a58,#1e1e64,#20206c,#232374,#262680,#292684,#2b2688,#2f268e,#312692)"></div>
<div style="height:2px;background:linear-gradient(90deg,#4126ac,#4126ac,#4026aa,#4026aa,#3e26a8,#3e26a8,#3d26a6,#3c26a4,#3b26a2,#3a26a0,#37269c,#352698,#322694,#302690,#2c268a,#292684,#262680,#232374,#1f1f68,#1c1c5c,#191954,#161648,#131340,#101034,#0d0d2c,#0b0b24,#08081c,#060614,#04040c,#020208,#010104,#010104,#000000,#000000,#000000,#010104,#020208,#04040c,#050510,#070718,#08081c,#0b0b24,#0d0d2c,#101034,#131340,#161648,#181850,#1a1a58,#1e1e64,#20206c,#242478,#262680,#292684,#2c268a,#2f268e,#312692)"></div>
<div style="height:2px;background:linear-gradient(90deg,#4126ac,#4126ac,#4126ac,#4026aa,#4026aa,#3e26a8,#3e26a8,#3d26a6,#3c26a4,#3a26a0,#38269e,#36269a,#342696,#302690,#2e268c,#2a2686,#262680,#232374,#1f1f68,#1d1d60,#191954,#17174c,#131340,#111138,#0d0d2c,#0b0b24,#08081c,#060614,#04040c,#020208,#010104,#010104,#010104,#010104,#010104,#010104,#020208,#04040c,#050510,#070718,#0a0a20,#0b0b24,#0d0d2c,#111138,#131340,#161648,#181850,#1c1c5c,#1e1e64,#20206c,#242478,#262680,#292684,#2c268a,#2f268e,#312692)"></div>
<div style="height:2px;background:linear-gradient(90deg,#4226ae,#4126ac,#4126ac,#4126ac,#4026aa,#4026aa,#3e26a8,#3d26a6,#3d26a6,#3b26a2,#3a26a0,#37269c,#352698,#312692,#2e268c,#2b2688,#282682,#242478,#20206c,#1d1d60,#1a1a58,#17174c,#141444,#111138,#0e0e30,#0c0c28,#08081c,#060614,#050510,#04040c,#020208,#010104,#010104,#010104,#010104,#020208,#020208,#04040c,#060614,#070718,#0a0a20,#0c0c28,#0e0e30,#111138,#131340,#161648,#191954,#1c1c5c,#1e1e64,#222270,#242478,#262680,#2a2686,#2c268a,#2f268e,#312692)"></div>
<div style="height:2px;background:linear-gradient(90deg,#4226ae,#4226ae,#4126ac,#4126ac,#4126ac,#4126ac,#4026aa,#3e26a8,#3d26a6,#3c26a4,#3b26a2,#38269e,#36269a,#322694,#2f268e,#2c268a,#282682,#242478,#222270,#1e1e64,#1a1a58,#17174c,#141444,#12123c,#0e0e30,#0c0c28,#0a0a20,#070718,#050510,#04040c,#020208,#020208,#010104,#010104,#020208,#020208,#04040c,#050510,#060614,#08081c,#0a0a20,#0c0c28,#0e0e30,#111138,#131340,#17174c,#191954,#1c1c5c,#1f1f68,#222270,#242478,#282682,#2a2686,#2c268a,#302690,#322694)"></div>
<div style="height:2px;background:linear-gradient(90deg,#4226ae,#4226ae,#4226ae,#4226ae,#4226ae,#4126ac,#4126ac,#4026aa,#4026aa,#3e26a8,#3c26a4,#3a26a0,#37269c,#352698,#312692,#2e268c,#292684,#25257c,#222270,#1e1e64,#1c1c5c,#181850,#141444,#12123c,#101034,#0d0d2c,#0a0a20,#08081c,#060614,#050510,#04040c,#020208,#020208,#020208,#020208,#04040c,#04040c,#050510,#070718,#08081c,#0b0b24,#0d0d2c,#101034,#12123c,#141444,#17174c,#191954,#1d1d60,#1f1f68,#222270,#25257c,#282682,#2a2686,#2e268c,#302690,#322694)"></div>
<div style="height:2px;background:linear-gradient(90deg,#4326b0,#4326b0,#4326b0,#4326b0,#4226ae,#4226ae,#4226ae,#4226ae,#4126ac,#4026aa,#3e26a8,#3c26a4,#3a26a0,#36269a,#322694,#2f268e,#2b2688,#262680,#232374,#1f1f68,#1c1c5c,#191954,#161648,#131340,#101034,#0d0d2c,#0b0b24,#08081c,#070718,#050510,#050510,#04040c,#04040c,#04040c,#04040c,#04040c,#050510,#060614,#070718,#0a0a20,#0b0b24,#0d0d2c,#101034,#12123c,#141444,#17174c,#1a1a58,#1d1d60,#1f1f68,#222270,#25257c,#282682,#2b2688,#2e268c,#302690,#342696)"></div>
<div style="height:2px;background:linear-gradient(90deg,#4326b0,#4326b0,#4326b0,#4326b0,#4326b0,#4426b2,#4426b2,#4326b0,#4326b0,#4226ae,#4126ac,#3e26a8,#3c26a4,#38269e,#352698,#312692,#2c268a,#292684,#242478,#20206c,#1d1d60,#191954,#17174c,#131340,#111138,#0e0e30,#0c0c28,#0a0a20,#070718,#060614,#050510,#050510,#04040c,#04040c,#04040c,#050510,#060614,#070718,#08081c,#0a0a20,#0c0c28,#0e0e30,#101034,#12123c,#161648,#181850,#1a1a58,#1d1d60,#20206c,#232374,#25257c,#292684,#2b2688,#2e268c,#312692,#342696)"></div>
<div style="height:2px;background:linear-gradient(90deg,#4426b2,#4426b2,#4426b2,#4426b2,#4626b4,#4626b4,#4626b4,#4626b4,#4626b4,#4426b2,#4326b0,#4126ac,#3e26a8,#3b26a2,#37269c,#322694,#2f268e,#2a2686,#262680,#222270,#1e1e64,#1a1a58,#17174c,#141444,#12123c,#0e0e30,#0c0c28,#0b0b24,#08081c,#070718,#060614,#050510,#050510,#050510,#050510,#060614,#060614,#070718,#08081c,#0b0b24,#0c0c28,#0e0e30,#111138,#131340,#161648,#181850,#1a1a58,#1e1e64,#20206c,#232374,#262680,#292684,#2b2688,#2f268e,#312692,#352698)"></div>
<div style="height:2px;background:linear-gradient(90deg,#4426b2,#4626b4,#4626b4,#4726b6,#4726b6,#4826b8,#4826b8,#4826b8,#4826b8,#4726b6,#4626b4,#4426b2,#4126ac,#3e26a8,#3a26a0,#36269a,#312692,#2c268a,#282682,#242478,#1f1f68,#1c1c5c,#181850,#161648,#12123c,#101034,#0d0d2c,#0b0b24,#0a0a20,#08081c,#070718,#060614,#060614,#060614,#060614,#060614,#070718,#08081c,#0a0a20,#0b0b24,#0d0d2c,#101034,#12123c,#131340,#17174c,#191954,#1c1c5c,#1e1e64,#20206c,#242478,#262680,#292684,#2c268a,#302690,#322694,#36269a)"></div>
<div style="height:2px;background:linear-gradient(90deg,#4626b4,#4626b4,#4726b6,#4826b8,#4926ba,#4a26bc,#4a26bc,#4c26be,#4c26be,#4a26bc,#4926ba,#4826b8,#4426b2,#4126ac,#3d26a6,#38269e,#342696,#2f268e,#2a2686,#25257c,#20206c,#1d1d60,#191954,#161648,#131340,#111138,#0e0e30,#0c0c28,#0b0b24,#0a0a20,#08081c,#070718,#070718,#060614,#070718,#070718,#08081c,#0a0a20,#0b0b24,#0c0c28,#0e0e30,#101034,#12123c,#141444,#17174c,#191954,#1c1c5c,#1e1e64,#222270,#242478,#282682,#2a2686,#2e268c,#302690,#342696,#37269c)"></div>
<div style="height:2px;background:linear-gradient(90deg,#4726b6,#4726b6,#4826b8,#4a26bc,#4c26be,#4d26bf,#5027bd,#5027bd,#5227bb,#5027bd,#5027bd,#4c26be,#4926ba,#4626b4,#4126ac,#3c26a4,#37269c,#322694,#2c268a,#282682,#232374,#1e1e64,#1a1a58,#17174c,#141444,#12123c,#101034,#0d0d2c,#0c0c28,#0a0a20,#08081c,#08081c,#070718,#070718,#070718,#08081c,#0a0a20,#0a0a20,#0c0c28,#0d0d2c,#0e0e30,#111138,#131340,#161648,#181850,#1a1a58,#1d1d60,#1f1f68,#222270,#25257c,#282682,#2b2688,#2e268c,#312692,#352698,#38269e)"></div>
<div style="height:2px;background:linear-gradient(90deg,#4826b8,#4926ba,#4a26bc,#4c26be,#5027bd,#5227bb,#5728b7,#5928b5,#5928b5,#5928b5,#5728b7,#5428b9,#4d26bf,#4926ba,#4626b4,#4126ac,#3b26a2,#352698,#302690,#2a2686,#25257c,#20206c,#1d1d60,#191954,#161648,#131340,#111138,#0e0e30,#0c0c28,#0b0b24,#0a0a20,#0a0a20,#08081c,#08081c,#08081c,#0a0a20,#0a0a20,#0b0b24,#0c0c28,#0e0e30,#101034,#12123c,#131340,#161648,#181850,#1a1a58,#1d1d60,#20206c,#232374,#25257c,#292684,#2b2688,#2f268e,#322694,#36269a,#3a26a0)"></div>
<div style="height:2px;background:linear-gradient(90deg,#4926ba,#4a26bc,#4d26bf,#5227bb,#5728b7,#5928b5,#5e29b1,#602aaf,#632aad,#632aad,#602aaf,#5e29b1,#5928b5,#5227bb,#4a26bc,#4426b2,#4026aa,#3a26a0,#342696,#2e268c,#282682,#232374,#1e1e64,#1a1a58,#17174c,#141444,#111138,#101034,#0d0d2c,#0c0c28,#0b0b24,#0b0b24,#0a0a20,#0a0a20,#0a0a20,#0b0b24,#0b0b24,#0c0c28,#0d0d2c,#0e0e30,#111138,#12123c,#141444,#17174c,#191954,#1c1c5c,#1e1e64,#20206c,#232374,#262680,#292684,#2c268a,#302690,#342696,#37269c,#3b26a2)"></div>
<div style="height:2px;background:linear-gradient(90deg,#4a26bc,#4d26bf,#5227bb,#5728b7,#5c29b3,#632aad,#682ba9,#6a2ba7,#6c2ca5,#6c2ca5,#6c2ca5,#6a2ba7,#632aad,#5c29b3,#5227bb,#4a26bc,#4326b0,#3d26a6,#37269c,#302690,#2a2686,#25257c,#20206c,#1c1c5c,#181850,#161648,#12123c,#111138,#0e0e30,#0d0d2c,#0c0c28,#0b0b24,#0b0b24,#0b0b24,#0b0b24,#0b0b24,#0c0c28,#0d0d2c,#0e0e30,#101034,#12123c,#131340,#161648,#181850,#191954,#1c1c5c,#1f1f68,#222270,#242478,#262680,#2a2686,#2e268c,#312692,#352698,#38269e,#3d26a6)"></div>
<div style="height:2px;background:linear-gradient(90deg,#4d26bf,#5227bb,#5728b7,#5e29b1,#652aab,#6a2ba7,#712ca1,#732d9f,#782e9b,#782e9b,#782e9b,#732d9f,#6f2ca3,#682ba9,#5e29b1,#5227bb,#4926ba,#4226ae,#3b26a2,#352698,#2e268c,#282682,#232374,#1e1e64,#191954,#17174c,#131340,#12123c,#101034,#0e0e30,#0d0d2c,#0c0c28,#0c0c28,#0c0c28,#0c0c28,#0c0c28,#0d0d2c,#0e0e30,#101034,#111138,#12123c,#141444,#161648,#181850,#1a1a58,#1d1d60,#1f1f68,#222270,#25257c,#282682,#2b2688,#2f268e,#322694,#37269c,#3b26a2,#4026aa)"></div>
<div style="height:2px;background:linear-gradient(90deg,#5027bd,#5728b7,#5e29b1,#652aab,#6c2ca5,#732d9f,#7b2e99,#802f95,#843091,#843091,#843091,#822f93,#7d2e97,#732d9f,#6a2ba7,#5e29b1,#5027bd,#4726b6,#4026aa,#38269e,#312692,#2b2688,#25257c,#20206c,#1c1c5c,#181850,#161648,#131340,#111138,#101034,#0e0e30,#0d0d2c,#0d0d2c,#0d0d2c,#0d0d2c,#0d0d2c,#0e0e30,#101034,#111138,#12123c,#131340,#161648,#17174c,#191954,#1c1c5c,#1e1e64,#20206c,#232374,#25257c,#292684,#2c268a,#302690,#342696,#38269e,#3d26a6,#4226ae)"></div>
<div style="height:2px;background:linear-gradient(90deg,#5428b9,#5c29b3,#652aab,#6c2ca5,#762d9d,#802f95,#87308f,#8b318b,#903287,#933285,#933285,#903287,#89308d,#822f93,#782e9b,#6a2ba7,#5c29b3,#4d26bf,#4426b2,#3d26a6,#36269a,#2f268e,#282682,#232374,#1e1e64,#191954,#17174c,#141444,#12123c,#111138,#101034,#0e0e30,#0e0e30,#0e0e30,#0e0e30,#0e0e30,#101034,#111138,#12123c,#131340,#141444,#161648,#181850,#1a1a58,#1d1d60,#1e1e64,#222270,#242478,#262680,#2a2686,#2e268c,#312692,#36269a,#3b26a2,#4026aa,#4426b2)"></div>
<div style="height:2px;background:linear-gradient(90deg,#5c29b3,#632aad,#6c2ca5,#762d9d,#802f95,#89308d,#933285,#9a337e,#a13479,#a43476,#a43476,#a13479,#973381,#903287,#843091,#782e9b,#6a2ba7,#5928b5,#4a26bc,#4226ae,#3a26a0,#322694,#2b2688,#25257c,#1f1f68,#1c1c5c,#181850,#161648,#131340,#12123c,#111138,#101034,#101034,#101034,#101034,#101034,#111138,#12123c,#12123c,#141444,#161648,#17174c,#191954,#1a1a58,#1d1d60,#1f1f68,#222270,#25257c,#282682,#2b2688,#2f268e,#342696,#38269e,#3d26a6,#4226ae,#4826b8)"></div>
<div style="height:2px;background:linear-gradient(90deg,#602aaf,#6a2ba7,#762d9d,#802f95,#8b318b,#953283,#a13479,#aa3570,#b43668,#b73765,#b73765,#b43668,#ad366e,#a13479,#953283,#87308f,#762d9d,#652aab,#5428b9,#4726b6,#3e26a8,#36269a,#2f268e,#282682,#222270,#1e1e64,#191954,#17174c,#141444,#131340,#12123c,#111138,#111138,#111138,#111138,#111138,#12123c,#12123c,#131340,#141444,#17174c,#181850,#1a1a58,#1c1c5c,#1e1e64,#20206c,#232374,#25257c,#292684,#2c268a,#302690,#352698,#3a26a0,#4026aa,#4626b4,#4c26be)"></div>
<div style="height:2px;background:linear-gradient(90deg,#682ba9,#712ca1,#7d2e97,#8b318b,#973381,#a73573,#b43668,#bd3860,#c73957,#ca3954,#cd3a52,#ca3954,#c1385d,#b73765,#a73573,#953283,#843091,#732d9f,#602aaf,#4d26bf,#4326b0,#3b26a2,#322694,#2b2688,#25257c,#1f1f68,#1c1c5c,#181850,#161648,#141444,#131340,#12123c,#12123c,#12123c,#12123c,#12123c,#131340,#131340,#141444,#161648,#181850,#191954,#1a1a58,#1d1d60,#1f1f68,#222270,#242478,#262680,#2a2686,#2e268c,#322694,#37269c,#3d26a6,#4326b0,#4926ba,#5227bb)"></div>
<div style="height:2px;background:linear-gradient(90deg,#6f2ca3,#7b2e99,#89308d,#953283,#a73573,#b73765,#c73957,#d43a4c,#da3b46,#e13c41,#e43c3e,#e13c41,#d73b49,#cd3a52,#bd3860,#aa3570,#933285,#822f93,#6c2ca5,#5928b5,#4926ba,#4026aa,#36269a,#2f268e,#282682,#222270,#1e1e64,#1a1a58,#181850,#161648,#141444,#141444,#131340,#131340,#131340,#131340,#141444,#141444,#161648,#17174c,#191954,#1a1a58,#1c1c5c,#1e1e64,#20206c,#232374,#25257c,#282682,#2b2688,#2f268e,#342696,#3a26a0,#4026aa,#4626b4,#4d26bf,#5c29b3)"></div>
<div style="height:2px;background:linear-gradient(90deg,#762d9d,#843091,#933285,#a43476,#b73765,#ca3954,#da3b46,#e73d3b,#f13e33,#f73f2d,#fa3f2a,#f73f2d,#ed3e36,#e43c3e,#d43a4c,#bd3860,#a73573,#903287,#7b2e99,#652aab,#5227bb,#4426b2,#3b26a2,#322694,#2b2688,#25257c,#1f1f68,#1c1c5c,#191954,#17174c,#161648,#161648,#141444,#141444,#141444,#141444,#161648,#161648,#17174c,#181850,#191954,#1c1c5c,#1d1d60,#1f1f68,#222270,#232374,#262680,#292684,#2c268a,#312692,#36269a,#3c26a4,#4226ae,#4926ba,#5428b9,#632aad)"></div>
<div style="height:2px;background:linear-gradient(90deg,#7d2e97,#8e3189,#9d347c,#b43668,#ca3954,#dd3c44,#ed3e36,#fd4028,#fd4523,#fb4921,#fb4b20,#fb4921,#fd4523,#fa3f2a,#ea3d38,#d43a4c,#bd3860,#a13479,#89308d,#732d9f,#5c29b3,#4926ba,#4026aa,#36269a,#2f268e,#282682,#222270,#1e1e64,#1a1a58,#191954,#17174c,#17174c,#161648,#161648,#161648,#161648,#17174c,#17174c,#181850,#191954,#1a1a58,#1d1d60,#1e1e64,#20206c,#222270,#242478,#282682,#2a2686,#2f268e,#322694,#38269e,#3e26a8,#4626b4,#4d26bf,#5e29b1,#6c2ca5)"></div>
<div style="height:2px;background:linear-gradient(90deg,#87308f,#973381,#ad366e,#c73957,#dd3c44,#f13e33,#fe4324,#fa4d1e,#f7531b,#f65718,#f55917,#f65718,#f7531b,#fb4b20,#ff4126,#ea3d38,#d13a4f,#b73765,#973381,#802f95,#6a2ba7,#5227bb,#4426b2,#3b26a2,#322694,#2a2686,#242478,#20206c,#1d1d60,#1a1a58,#191954,#181850,#17174c,#17174c,#17174c,#17174c,#181850,#181850,#191954,#1a1a58,#1c1c5c,#1e1e64,#1f1f68,#222270,#232374,#25257c,#292684,#2c268a,#302690,#352698,#3b26a2,#4226ae,#4926ba,#5728b7,#682ba9,#782e9b)"></div>
<div style="height:2px;background:linear-gradient(90deg,#903287,#a43476,#bd3860,#d73b49,#f13e33,#fe4324,#f8511c,#f55917,#f26112,#ef670f,#ef670f,#ef670f,#f16311,#f45b16,#f94f1d,#ff4126,#e73d3b,#ca3954,#aa3570,#8e3189,#762d9d,#5e29b1,#4926ba,#4026aa,#36269a,#2e268c,#282682,#222270,#1e1e64,#1c1c5c,#1a1a58,#191954,#181850,#181850,#181850,#181850,#191954,#191954,#1a1a58,#1c1c5c,#1d1d60,#1f1f68,#20206c,#222270,#242478,#262680,#2a2686,#2e268c,#322694,#37269c,#3d26a6,#4426b2,#4d26bf,#5e29b1,#712ca1,#822f93)"></div>
<div style="height:2px;background:linear-gradient(90deg,#9a337e,#b43668,#cd3a52,#ea3d38,#fe4324,#f8511c,#f35d15,#ef670f,#ec6f0a,#ea7506,#e97705,#ea7506,#eb7109,#ef690e,#f35f14,#f8511c,#fd4028,#e13c41,#c1385d,#9d347c,#822f93,#6a2ba7,#5227bb,#4326b0,#3a26a0,#312692,#2a2686,#242478,#20206c,#1e1e64,#1c1c5c,#1a1a58,#1a1a58,#191954,#191954,#1a1a58,#1a1a58,#1c1c5c,#1c1c5c,#1d1d60,#1e1e64,#1f1f68,#222270,#232374,#25257c,#282682,#2b2688,#2f268e,#342696,#3a26a0,#4126ac,#4826b8,#5428b9,#682ba9,#7b2e99,#8e3189)"></div>
<div style="height:2px;background:linear-gradient(90deg,#a73573,#c1385d,#dd3c44,#fa3f2a,#f94f1d,#f35d15,#ee6b0c,#ea7506,#e67f00,#e68301,#e68502,#e68502,#e67f00,#e87904,#ed6d0b,#f35f14,#fa4d1e,#f73f2d,#d43a4c,#b1366b,#903287,#762d9d,#5c29b3,#4826b8,#3d26a6,#352698,#2c268a,#262680,#232374,#1f1f68,#1d1d60,#1c1c5c,#1c1c5c,#1a1a58,#1a1a58,#1c1c5c,#1c1c5c,#1d1d60,#1d1d60,#1e1e64,#1f1f68,#20206c,#232374,#242478,#262680,#292684,#2c268a,#312692,#36269a,#3c26a4,#4326b0,#4c26be,#5e29b1,#712ca1,#843091,#9a337e)"></div>
<div style="height:2px;background:linear-gradient(90deg,#b43668,#d13a4f,#f13e33,#fb4921,#f45b16,#ee6b0c,#e87904,#e68301,#e68d05,#e69308,#e69508,#e69308,#e68f06,#e68703,#e77b03,#ed6d0b,#f45b16,#fb4921,#ea3d38,#c4385a,#a13479,#822f93,#682ba9,#5027bd,#4226ae,#38269e,#302690,#292684,#242478,#222270,#1f1f68,#1e1e64,#1d1d60,#1d1d60,#1d1d60,#1d1d60,#1d1d60,#1e1e64,#1e1e64,#1f1f68,#20206c,#222270,#242478,#25257c,#282682,#2b2688,#2f268e,#322694,#38269e,#3e26a8,#4726b6,#5227bb,#652aab,#7b2e99,#903287,#aa3570)"></div>
<div style="height:2px;background:linear-gradient(90deg,#c1385d,#e13c41,#ff4126,#f7551a,#ef670f,#e97705,#e68502,#e69107,#e69b0b,#e6a10d,#e6a30e,#e6a10d,#e69d0c,#e69508,#e68b05,#e77b03,#ef690e,#f7551a,#fd4028,#da3b46,#b43668,#8e3189,#732d9f,#5928b5,#4726b6,#3c26a4,#342696,#2c268a,#262680,#232374,#20206c,#1f1f68,#1e1e64,#1e1e64,#1e1e64,#1e1e64,#1e1e64,#1f1f68,#1f1f68,#20206c,#222270,#232374,#25257c,#262680,#292684,#2c268a,#302690,#352698,#3b26a2,#4226ae,#4926ba,#5928b5,#6f2ca3,#843091,#9d347c,#ba3762)"></div>
<div style="height:2px;background:linear-gradient(90deg,#cd3a52,#f13e33,#fb4b20,#f26112,#eb7308,#e68502,#e69308,#e69f0c,#e6a910,#e6af13,#e6b114,#e6b114,#e6ab11,#e6a30e,#e6990a,#e68904,#e97705,#f16311,#fa4d1e,#ed3e36,#c4385a,#9d347c,#802f95,#632aad,#4c26be,#4026aa,#36269a,#2f268e,#292684,#25257c,#222270,#20206c,#1f1f68,#1f1f68,#1f1f68,#1f1f68,#1f1f68,#20206c,#20206c,#222270,#232374,#242478,#262680,#282682,#2a2686,#2e268c,#312692,#36269a,#3d26a6,#4426b2,#4d26bf,#632aad,#782e9b,#8e3189,#aa3570,#ca3954)"></div>
<div style="height:2px;background:linear-gradient(90deg,#dd3c44,#ff4126,#f65718,#ee6b0c,#e67f00,#e69107,#e6a10d,#e6ad12,#e6b716,#e6bd18,#e6bf19,#e6bf19,#e6b917,#e6b114,#e6a710,#e69709,#e68502,#eb7109,#f55917,#ff4126,#d73b49,#ad366e,#89308d,#6c2ca5,#5227bb,#4426b2,#3a26a0,#312692,#2b2688,#262680,#242478,#222270,#20206c,#20206c,#20206c,#20206c,#20206c,#222270,#222270,#232374,#242478,#25257c,#282682,#2a2686,#2c268a,#2f268e,#342696,#38269e,#4026aa,#4726b6,#5428b9,#6a2ba7,#822f93,#9a337e,#ba3762,#dd3c44)"></div>
<div style="height:2px;background:linear-gradient(90deg,#ea3d38,#fb4921,#f26112,#e97705,#e68b05,#e69d0c,#e6ad12,#e6b917,#e6c11f,#e6c529,#e6c72f,#e6c62c,#e6c426,#e6bf19,#e6b314,#e6a50f,#e69308,#e77d02,#ef670f,#fa4d1e,#ea3d38,#bd3860,#953283,#782e9b,#5c29b3,#4826b8,#3d26a6,#352698,#2e268c,#292684,#25257c,#242478,#232374,#222270,#222270,#222270,#222270,#232374,#232374,#242478,#25257c,#262680,#292684,#2b2688,#2e268c,#312692,#352698,#3b26a2,#4226ae,#4a26bc,#5c29b3,#712ca1,#8b318b,#a73573,#ca3954,#ed3e36)"></div>
<div style="height:2px;background:linear-gradient(90deg,#f73f2d,#f7531b,#ee6b0c,#e68100,#e69709,#e6a910,#e6b917,#e6c426,#e6c932,#e6cd3f,#e6cf42,#e6cf42,#e6cc3c,#e6c72f,#e6c01c,#e6b114,#e69f0c,#e68b05,#eb7308,#f55917,#fa3f2a,#d13a4f,#a43476,#822f93,#652aab,#4c26be,#4126ac,#37269c,#302690,#2b2688,#282682,#25257c,#242478,#232374,#232374,#232374,#232374,#242478,#25257c,#25257c,#262680,#282682,#2a2686,#2c268a,#2f268e,#322694,#37269c,#3d26a6,#4426b2,#5027bd,#632aad,#7b2e99,#953283,#b73765,#da3b46,#fd4028)"></div>
<div style="height:2px;background:linear-gradient(90deg,#fe4324,#f35d15,#ea7506,#e68d05,#e6a10d,#e6b515,#e6c322,#e6cb39,#e6d046,#e6d552,#e6d656,#e6d656,#e6d34f,#e6cf42,#e6c72f,#e6bf19,#e6ad12,#e69709,#e67f00,#f06510,#fb4921,#e13c41,#b43668,#8e3189,#6f2ca3,#5428b9,#4426b2,#3b26a2,#322694,#2e268c,#2a2686,#282682,#25257c,#25257c,#242478,#242478,#25257c,#25257c,#262680,#262680,#282682,#2a2686,#2b2688,#2e268c,#302690,#342696,#38269e,#4026aa,#4726b6,#5428b9,#6a2ba7,#822f93,#9d347c,#c4385a,#ea3d38,#fb4921)"></div>
<div style="height:2px;background:linear-gradient(90deg,#fa4d1e,#f06510,#e67f00,#e69709,#e6ad12,#e6bf19,#e6ca36,#e6d149,#e6d759,#e6db62,#e6dd69,#e6dd69,#e6db62,#e6d656,#e6cf42,#e6c62c,#e6b917,#e6a30e,#e68b05,#ec6f0a,#f7531b,#f13e33,#c4385a,#973381,#782e9b,#5c29b3,#4826b8,#3d26a6,#36269a,#302690,#2b2688,#292684,#282682,#262680,#25257c,#25257c,#262680,#262680,#282682,#282682,#292684,#2b2688,#2c268a,#2f268e,#312692,#36269a,#3b26a2,#4226ae,#4a26bc,#5c29b3,#712ca1,#8b318b,#aa3570,#d13a4f,#fa3f2a,#f7551a)"></div>
<div style="height:2px;background:linear-gradient(90deg,#f7551a,#ec6f0a,#e68904,#e6a10d,#e6b716,#e6c62c,#e6d046,#e6d85c,#e6de6c,#e6e276,#e6e379,#e6e379,#e6e172,#e6dc66,#e6d656,#e6cc3c,#e6c11f,#e6ad12,#e69508,#e77b03,#f35d15,#ff4126,#d13a4f,#a43476,#822f93,#652aab,#4c26be,#4126ac,#38269e,#322694,#2e268c,#2a2686,#292684,#282682,#282682,#282682,#282682,#282682,#292684,#292684,#2a2686,#2c268a,#2e268c,#302690,#342696,#37269c,#3d26a6,#4426b2,#4d26bf,#602aaf,#782e9b,#933285,#b73765,#e13c41,#fd4523,#f35f14)"></div>
<div style="height:2px;background:linear-gradient(90deg,#f35d15,#e97705,#e69107,#e6ab11,#e6c01c,#e6cc3c,#e6d656,#e6de6c,#e6e47c,#e7e787,#e8e88b,#e8e88b,#e6e683,#e6e379,#e6dc66,#e6d34f,#e6c932,#e6b917,#e69f0c,#e68502,#ef670f,#fb4b20,#e13c41,#b1366b,#89308d,#6c2ca5,#5227bb,#4426b2,#3b26a2,#342696,#2f268e,#2c268a,#2a2686,#292684,#292684,#292684,#292684,#292684,#2a2686,#2a2686,#2b2688,#2e268c,#2f268e,#312692,#352698,#3a26a0,#3e26a8,#4626b4,#5227bb,#682ba9,#802f95,#9d347c,#c4385a,#ed3e36,#f94f1d,#ef690e)"></div>
<div style="height:2px;background:linear-gradient(90deg,#f16311,#e67f00,#e69b0b,#e6b314,#e6c529,#e6d149,#e6dc66,#e6e379,#e8e88b,#ebeb9b,#ecec9f,#ecec9f,#eaea97,#e7e787,#e6e276,#e6d95f,#e6cf42,#e6c11f,#e6a910,#e68f06,#eb7109,#f7531b,#ed3e36,#bd3860,#933285,#732d9f,#5928b5,#4726b6,#3d26a6,#36269a,#312692,#2e268c,#2b2688,#2a2686,#2a2686,#2a2686,#2a2686,#2a2686,#2b2688,#2c268a,#2c268a,#2f268e,#302690,#322694,#36269a,#3b26a2,#4126ac,#4826b8,#5728b7,#6f2ca3,#87308f,#a73573,#d13a4f,#fa3f2a,#f55917,#eb7308)"></div>
<div style="height:2px;background:linear-gradient(90deg,#ee6b0c,#e68703,#e6a30e,#e6bb18,#e6cb39,#e6d759,#e6e172,#e8e88b,#ecec9f,#eeeeab,#efefaf,#efefaf,#ededa7,#ebeb9b,#e6e683,#e6de6c,#e6d34f,#e6c72f,#e6b314,#e69709,#e77b03,#f45b16,#fa3f2a,#ca3954,#9a337e,#7b2e99,#5e29b1,#4926ba,#4026aa,#38269e,#342696,#302690,#2e268c,#2c268a,#2b2688,#2b2688,#2b2688,#2b2688,#2c268a,#2e268c,#2e268c,#302690,#312692,#342696,#37269c,#3c26a4,#4326b0,#4a26bc,#5c29b3,#732d9f,#8e3189,#b43668,#dd3c44,#fd4523,#f26112,#e77b03)"></div>
<div style="height:2px;background:linear-gradient(90deg,#eb7109,#e68f06,#e6a910,#e6c11f,#e6d046,#e6dc66,#e6e57f,#ebeb9b,#efefaf,#f1f1bb,#f2f2bf,#f2f2bf,#f1f1b7,#eeeeab,#eaea97,#e6e47c,#e6d95f,#e6cc3c,#e6bd18,#e6a10d,#e68301,#f16311,#fd4523,#d43a4c,#a73573,#822f93,#652aab,#4d26bf,#4226ae,#3b26a2,#352698,#312692,#2f268e,#2e268c,#2c268a,#2c268a,#2c268a,#2c268a,#2e268c,#2f268e,#2f268e,#312692,#322694,#36269a,#3a26a0,#3e26a8,#4426b2,#4d26bf,#602aaf,#7b2e99,#953283,#bd3860,#e73d3b,#fa4d1e,#ef690e,#e68502)"></div>
<div style="height:2px;background:linear-gradient(90deg,#e97705,#e69508,#e6b114,#e6c62c,#e6d552,#e6e172,#e9e98f,#ededa7,#f1f1bb,#f4f4c7,#f5f5cf,#f5f5cb,#f4f4c7,#f1f1b7,#ededa3,#e7e787,#e6de6c,#e6d149,#e6c322,#e6a910,#e68b05,#ee6b0c,#fb4b20,#e13c41,#b1366b,#89308d,#6c2ca5,#5227bb,#4426b2,#3d26a6,#37269c,#322694,#302690,#2f268e,#2e268c,#2e268c,#2e268c,#2e268c,#2f268e,#302690,#302690,#322694,#342696,#37269c,#3b26a2,#4026aa,#4726b6,#5227bb,#682ba9,#802f95,#9d347c,#c73957,#f43e30,#f7551a,#eb7109,#e68d05)"></div>
<div style="height:2px;background:linear-gradient(90deg,#e77d02,#e69b0b,#e6b716,#e6ca36,#e6d85c,#e6e47c,#ebeb9b,#f1f1b7,#f4f4c7,#f6f6d3,#f8f8db,#f7f7d7,#f6f6d3,#f4f4c7,#f0f0b3,#eaea97,#e6e276,#e6d656,#e6c62c,#e6b114,#e69308,#eb7308,#f7531b,#ea3d38,#ba3762,#903287,#712ca1,#5728b7,#4726b6,#3e26a8,#38269e,#352698,#322694,#302690,#2f268e,#2f268e,#2f268e,#2f268e,#302690,#302690,#312692,#342696,#352698,#38269e,#3c26a4,#4126ac,#4826b8,#5428b9,#6a2ba7,#843091,#a43476,#d13a4f,#fd4028,#f45b16,#e87904,#e69508)"></div>
<div style="height:2px;background:linear-gradient(90deg,#e68301,#e6a10d,#e6bd18,#e6cd3f,#e6dc66,#e7e787,#ededa7,#f2f2bf,#f6f6d3,#f9f9df,#f9f9e3,#f9f9e3,#f9f9df,#f5f5cf,#f2f2bf,#ededa3,#e6e57f,#e6d95f,#e6cb39,#e6b716,#e6990a,#e87904,#f55917,#f43e30,#c1385d,#953283,#762d9d,#5c29b3,#4926ba,#4126ac,#3b26a2,#36269a,#342696,#312692,#302690,#302690,#302690,#302690,#312692,#312692,#322694,#352698,#36269a,#3a26a0,#3d26a6,#4226ae,#4926ba,#5928b5,#6f2ca3,#89308d,#ad366e,#d73b49,#fd4523,#f16311,#e68100,#e69d0c)"></div>
<div style="height:2px;background:linear-gradient(90deg,#e68703,#e6a50f,#e6c11f,#e6d149,#e6df6f,#e9e993,#f0f0b3,#f5f5cb,#f8f8db,#fafae7,#fbfbeb,#fbfbeb,#fafae7,#f8f8db,#f4f4c7,#efefaf,#e8e88b,#e6dd69,#e6cf42,#e6bd18,#e69f0c,#e67f00,#f35f14,#fa3f2a,#ca3954,#9a337e,#7b2e99,#602aaf,#4c26be,#4226ae,#3c26a4,#37269c,#352698,#322694,#322694,#312692,#312692,#312692,#322694,#322694,#342696,#36269a,#37269c,#3b26a2,#3e26a8,#4426b2,#4c26be,#5e29b1,#732d9f,#8e3189,#b43668,#e13c41,#fb4b20,#ef690e,#e68703,#e6a50f)"></div>
<div style="height:2px;background:linear-gradient(90deg,#e68b05,#e6ab11,#e6c426,#e6d34f,#e6e276,#ebeb9b,#f1f1bb,#f6f6d3,#f9f9e3,#fcfcef,#fdfdf3,#fdfdf3,#fcfcef,#f9f9e3,#f5f5cf,#f1f1b7,#eaea97,#e6e172,#e6d149,#e6c11f,#e6a30e,#e68301,#f16311,#fe4324,#d13a4f,#a13479,#802f95,#652aab,#4d26bf,#4426b2,#3d26a6,#38269e,#36269a,#342696,#322694,#322694,#322694,#322694,#342696,#342696,#352698,#36269a,#38269e,#3c26a4,#4026aa,#4626b4,#4d26bf,#602aaf,#782e9b,#933285,#ba3762,#e73d3b,#f94f1d,#ec6f0a,#e68d05,#e6ab11)"></div>
<div style="height:2px;background:linear-gradient(90deg,#e68f06,#e6af13,#e6c62c,#e6d759,#e6e47c,#ededa3,#f3f3c3,#f8f8db,#fbfbeb,#fdfdf7,#fefefb,#fefefb,#fdfdf3,#fbfbeb,#f7f7d7,#f2f2bf,#ecec9f,#e6e379,#e6d552,#e6c426,#e6a910,#e68904,#ef670f,#fc4722,#d73b49,#a73573,#843091,#682ba9,#5227bb,#4626b4,#4026aa,#3b26a2,#37269c,#352698,#342696,#342696,#342696,#342696,#342696,#352698,#36269a,#37269c,#3a26a0,#3c26a4,#4126ac,#4726b6,#5027bd,#632aad,#7b2e99,#973381,#c1385d,#f13e33,#f7551a,#eb7308,#e69308,#e6b114)"></div>
<div style="height:2px;background:linear-gradient(90deg,#e69308,#e6b114,#e6c932,#e6d85c,#e6e683,#eeeeab,#f5f5cb,#f9f9df,#fcfcef,#fefefb,#ffffff,#ffffff,#fefefb,#fcfcef,#f9f9df,#f4f4c7,#ededa7,#e6e57f,#e6d759,#e6c62c,#e6ad12,#e68d05,#ee6b0c,#fb4b20,#dd3c44,#ad366e,#87308f,#6c2ca5,#5428b9,#4726b6,#4126ac,#3c26a4,#38269e,#36269a,#352698,#352698,#352698,#352698,#352698,#36269a,#37269c,#38269e,#3b26a2,#3d26a6,#4226ae,#4826b8,#5227bb,#652aab,#802f95,#9d347c,#c73957,#f73f2d,#f55917,#e87904,#e69709,#e6b515)"></div>
<div style="height:2px;background:linear-gradient(90deg,#e69508,#e6b515,#e6ca36,#e6db62,#e7e787,#efefaf,#f5f5cf,#fafae7,#fdfdf3,#ffffff,#ffffff,#ffffff,#ffffff,#fdfdf3,#f9f9e3,#f5f5cb,#eeeeab,#e6e683,#e6d85c,#e6c72f,#e6af13,#e68f06,#ec6f0a,#fa4d1e,#e13c41,#b1366b,#8b318b,#6f2ca3,#5728b7,#4826b8,#4226ae,#3d26a6,#3a26a0,#37269c,#36269a,#36269a,#36269a,#36269a,#36269a,#37269c,#37269c,#3a26a0,#3c26a4,#3e26a8,#4326b0,#4926ba,#5428b9,#6a2ba7,#822f93,#a13479,#cd3a52,#fa3f2a,#f35d15,#e77d02,#e69d0c,#e6bb18)"></div>
<div style="height:2px;background:linear-gradient(90deg,#e69709,#e6b716,#e6cb39,#e6dc66,#e8e88b,#f0f0b3,#f6f6d3,#fafae7,#fdfdf7,#ffffff,#ffffff,#ffffff,#ffffff,#fdfdf7,#fafae7,#f5f5cf,#efefaf,#e7e787,#e6d95f,#e6ca36,#e6b314,#e69107,#eb7109,#f94f1d,#e43c3e,#b43668,#8e3189,#712ca1,#5928b5,#4926ba,#4326b0,#3d26a6,#3b26a2,#38269e,#37269c,#36269a,#36269a,#36269a,#37269c,#37269c,#38269e,#3a26a0,#3c26a4,#4026aa,#4326b0,#4926ba,#5728b7,#6a2ba7,#843091,#a43476,#d13a4f,#ff4126,#f26112,#e68100,#e6a10d,#e6bf19)"></div>
<div style="height:2px;background:linear-gradient(90deg,#e6990a,#e6b716,#e6cc3c,#e6dc66,#e9e98f,#f1f1b7,#f6f6d3,#fbfbeb,#fefefb,#ffffff,#ffffff,#ffffff,#ffffff,#fdfdf7,#fbfbeb,#f6f6d3,#f0f0b3,#e8e88b,#e6db62,#e6ca36,#e6b314,#e69308,#eb7308,#f8511c,#e73d3b,#b73765,#8e3189,#732d9f,#5c29b3,#4a26bc,#4326b0,#3e26a8,#3c26a4,#3a26a0,#38269e,#37269c,#37269c,#37269c,#37269c,#38269e,#3a26a0,#3b26a2,#3d26a6,#4026aa,#4426b2,#4a26bc,#5928b5,#6c2ca5,#87308f,#a73573,#d43a4c,#fe4324,#f16311,#e68301,#e6a30e,#e6c01c)"></div>
<div style="height:2px;background:linear-gradient(90deg,#e6990a,#e6b917,#e6cc3c,#e6dd69,#e9e98f,#f1f1b7,#f7f7d7,#fbfbeb,#fefefb,#ffffff,#ffffff,#ffffff,#ffffff,#fefefb,#fbfbeb,#f6f6d3,#f0f0b3,#e8e88b,#e6dc66,#e6cb39,#e6b515,#e69508,#eb7308,#f7531b,#ea3d38,#ba3762,#903287,#732d9f,#5e29b1,#4c26be,#4426b2,#4026aa,#3c26a4,#3b26a2,#38269e,#38269e,#38269e,#38269e,#38269e,#3a26a0,#3b26a2,#3c26a4,#3e26a8,#4126ac,#4626b4,#4c26be,#5928b5,#6f2ca3,#89308d,#aa3570,#d73b49,#fd4523,#f06510,#e68703,#e6a710,#e6c322)"></div>
<div style="height:2px;background:linear-gradient(90deg,#e6990a,#e6b917,#e6cd3f,#e6dd69,#e9e98f,#f1f1b7,#f7f7d7,#fbfbeb,#fefefb,#ffffff,#ffffff,#ffffff,#ffffff,#fefefb,#fbfbeb,#f6f6d3,#f0f0b3,#e9e98f,#e6dc66,#e6cb39,#e6b515,#e69508,#ea7506,#f7531b,#ea3d38,#ba3762,#933285,#762d9d,#5e29b1,#4c26be,#4626b4,#4126ac,#3d26a6,#3b26a2,#3a26a0,#3a26a0,#38269e,#38269e,#3a26a0,#3a26a0,#3b26a2,#3c26a4,#3e26a8,#4226ae,#4626b4,#4c26be,#5c29b3,#712ca1,#89308d,#ad366e,#da3b46,#fc4722,#ef670f,#e68904,#e6a910,#e6c426)"></div>
<div style="height:2px;background:linear-gradient(90deg,#e6990a,#e6b716,#e6cc3c,#e6dd69,#e9e98f,#f1f1b7,#f7f7d7,#fbfbeb,#fefefb,#ffffff,#ffffff,#ffffff,#ffffff,#fefefb,#fbfbeb,#f6f6d3,#f0f0b3,#e8e88b,#e6dc66,#e6cb39,#e6b515,#e69508,#eb7308,#f7531b,#ea3d38,#ba3762,#933285,#762d9d,#5e29b1,#4d26bf,#4626b4,#4126ac,#3d26a6,#3c26a4,#3b26a2,#3a26a0,#3a26a0,#3a26a0,#3a26a0,#3b26a2,#3c26a4,#3d26a6,#4026aa,#4226ae,#4726b6,#4d26bf,#5c29b3,#712ca1,#8b318b,#ad366e,#da3b46,#fb4921,#ef690e,#e68904,#e6a910,#e6c529)"></div>
<div style="height:2px;background:linear-gradient(90deg,#e69709,#e6b716,#e6cc3c,#e6dc66,#e9e98f,#f0f0b3,#f6f6d3,#fbfbeb,#fdfdf7,#ffffff,#ffffff,#ffffff,#ffffff,#fdfdf7,#fafae7,#f5f5cf,#f0f0b3,#e8e88b,#e6db62,#e6ca36,#e6b314,#e69508,#eb7308,#f7531b,#ea3d38,#ba3762,#933285,#762d9d,#602aaf,#4d26bf,#4726b6,#4226ae,#3e26a8,#3c26a4,#3b26a2,#3b26a2,#3b26a2,#3b26a2,#3b26a2,#3b26a2,#3c26a4,#3d26a6,#4026aa,#4226ae,#4726b6,#4d26bf,#5e29b1,#712ca1,#8b318b,#b1366b,#dd3c44,#fb4921,#ef690e,#e68b05,#e6ab11,#e6c529)"></div>
<div style="height:2px;background:linear-gradient(90deg,#e69508,#e6b515,#e6cb39,#e6db62,#e8e88b,#efefaf,#f5f5cf,#fafae7,#fdfdf7,#ffffff,#ffffff,#ffffff,#ffffff,#fdfdf3,#fafae7,#f5f5cf,#efefaf,#e7e787,#e6d95f,#e6ca36,#e6b314,#e69308,#eb7109,#f8511c,#e73d3b,#ba3762,#933285,#762d9d,#602aaf,#4d26bf,#4726b6,#4226ae,#3e26a8,#3d26a6,#3c26a4,#3b26a2,#3b26a2,#3b26a2,#3b26a2,#3c26a4,#3d26a6,#3e26a8,#4026aa,#4326b0,#4726b6,#4d26bf,#5e29b1,#732d9f,#8b318b,#b1366b,#dd3c44,#fb4921,#ef690e,#e68b05,#e6ab11,#e6c529)"></div>
<div style="height:2px;background:linear-gradient(90deg,#e69308,#e6b314,#e6c932,#e6d95f,#e6e683,#eeeeab,#f5f5cb,#f9f9e3,#fdfdf3,#fefefb,#ffffff,#ffffff,#fefefb,#fdfdf3,#f9f9df,#f5f5cb,#eeeeab,#e6e683,#e6d85c,#e6c72f,#e6af13,#e69107,#ec6f0a,#f94f1d,#e73d3b,#b73765,#903287,#762d9d,#602aaf,#4d26bf,#4726b6,#4226ae,#4026aa,#3d26a6,#3c26a4,#3c26a4,#3c26a4,#3c26a4,#3c26a4,#3c26a4,#3d26a6,#3e26a8,#4126ac,#4326b0,#4826b8,#4d26bf,#5e29b1,#732d9f,#8b318b,#b1366b,#dd3c44,#fb4921,#ef690e,#e68b05,#e6ab11,#e6c529)"></div>
<div style="height:2px;background:linear-gradient(90deg,#e69107,#e6af13,#e6c72f,#e6d759,#e6e57f,#ededa7,#f4f4c7,#f8f8db,#fcfcef,#fdfdf7,#fefefb,#fefefb,#fdfdf7,#fbfbeb,#f8f8db,#f3f3c3,#ededa3,#e6e47c,#e6d656,#e6c62c,#e6ad12,#e68d05,#ed6d0b,#fa4d1e,#e43c3e,#b43668,#903287,#762d9d,#602aaf,#4d26bf,#4726b6,#4326b0,#4026aa,#3e26a8,#3d26a6,#3c26a4,#3c26a4,#3c26a4,#3c26a4,#3d26a6,#3e26a8,#4026aa,#4126ac,#4326b0,#4826b8,#5027bd,#5e29b1,#732d9f,#8b318b,#ad366e,#da3b46,#fb4921,#ef690e,#e68904,#e6a910,#e6c426)"></div>
<div style="height:2px;background:linear-gradient(90deg,#e68d05,#e6ab11,#e6c529,#e6d552,#e6e379,#ecec9f,#f2f2bf,#f7f7d7,#fafae7,#fdfdf3,#fdfdf7,#fdfdf7,#fcfcef,#fafae7,#f6f6d3,#f1f1bb,#ebeb9b,#e6e276,#e6d34f,#e6c426,#e6a910,#e68b05,#ee6b0c,#fb4b20,#e13c41,#b43668,#8e3189,#732d9f,#5e29b1,#4d26bf,#4726b6,#4326b0,#4126ac,#3e26a8,#3d26a6,#3d26a6,#3d26a6,#3d26a6,#3d26a6,#3d26a6,#3e26a8,#4026aa,#4226ae,#4426b2,#4826b8,#5027bd,#5e29b1,#712ca1,#8b318b,#ad366e,#da3b46,#fc4722,#ef670f,#e68703,#e6a710,#e6c322)"></div>
<div style="height:2px;background:linear-gradient(90deg,#e68904,#e6a710,#e6c322,#e6d24c,#e6e172,#eaea97,#f1f1b7,#f5f5cf,#f9f9df,#fbfbeb,#fcfcef,#fcfcef,#fbfbeb,#f9f9df,#f5f5cb,#f0f0b3,#e9e993,#e6df6f,#e6d149,#e6c11f,#e6a50f,#e68703,#ef670f,#fc4722,#da3b46,#ad366e,#8b318b,#712ca1,#5e29b1,#4d26bf,#4726b6,#4326b0,#4126ac,#4026aa,#3e26a8,#3d26a6,#3d26a6,#3d26a6,#3d26a6,#3e26a8,#3e26a8,#4026aa,#4226ae,#4426b2,#4826b8,#5027bd,#5e29b1,#712ca1,#89308d,#aa3570,#d73b49,#fd4523,#f06510,#e68502,#e6a50f,#e6c11f)"></div>
<div style="height:2px;background:linear-gradient(90deg,#e68502,#e6a30e,#e6bf19,#e6cf42,#e6dd69,#e8e88b,#eeeeab,#f3f3c3,#f7f7d7,#f9f9e3,#fafae7,#fafae7,#f9f9e3,#f7f7d7,#f3f3c3,#eeeeab,#e7e787,#e6dc66,#e6cd3f,#e6bd18,#e6a10d,#e68100,#f16311,#fe4324,#d73b49,#aa3570,#89308d,#712ca1,#5c29b3,#4d26bf,#4726b6,#4326b0,#4126ac,#4026aa,#3e26a8,#3e26a8,#3d26a6,#3d26a6,#3e26a8,#3e26a8,#4026aa,#4126ac,#4226ae,#4426b2,#4826b8,#5027bd,#5e29b1,#712ca1,#89308d,#aa3570,#d43a4c,#fe4324,#f16311,#e68301,#e6a30e,#e6c01c)"></div>
<div style="height:2px;background:linear-gradient(90deg,#e67f00,#e69d0c,#e6b917,#e6cb39,#e6d95f,#e6e57f,#ecec9f,#f1f1bb,#f5f5cb,#f7f7d7,#f9f9df,#f9f9df,#f7f7d7,#f5f5cb,#f1f1b7,#ecec9f,#e6e47c,#e6d85c,#e6cb39,#e6b716,#e69b0b,#e77d02,#f35d15,#fd4028,#d13a4f,#a73573,#87308f,#6f2ca3,#5c29b3,#4d26bf,#4726b6,#4326b0,#4126ac,#4026aa,#3e26a8,#3e26a8,#3e26a8,#3e26a8,#3e26a8,#3e26a8,#4026aa,#4126ac,#4226ae,#4426b2,#4826b8,#4d26bf,#5c29b3,#6f2ca3,#87308f,#a73573,#d13a4f,#ff4126,#f35f14,#e67f00,#e69f0c,#e6bd18)"></div>
<div style="height:2px;background:linear-gradient(90deg,#e87904,#e69709,#e6b314,#e6c72f,#e6d656,#e6e276,#e9e993,#efefaf,#f2f2bf,#f5f5cb,#f6f6d3,#f6f6d3,#f5f5cb,#f2f2bf,#eeeeab,#e9e993,#e6e172,#e6d552,#e6c62c,#e6b114,#e69508,#e97705,#f55917,#f73f2d,#ca3954,#a13479,#843091,#6c2ca5,#5928b5,#4d26bf,#4726b6,#4326b0,#4226ae,#4026aa,#4026aa,#3e26a8,#3e26a8,#3e26a8,#3e26a8,#4026aa,#4026aa,#4126ac,#4226ae,#4426b2,#4826b8,#4d26bf,#5c29b3,#6f2ca3,#843091,#a43476,#cd3a52,#fa3f2a,#f45b16,#e77b03,#e69b0b,#e6b917)"></div>
<div style="height:2px;background:linear-gradient(90deg,#eb7308,#e69107,#e6ad12,#e6c426,#e6d149,#e6dd69,#e7e787,#ecec9f,#f0f0b3,#f2f2bf,#f3f3c3,#f3f3c3,#f2f2bf,#f0f0b3,#ecec9f,#e6e683,#e6dd69,#e6d046,#e6c322,#e6ab11,#e68f06,#eb7109,#f7531b,#f13e33,#c4385a,#9a337e,#802f95,#6a2ba7,#5928b5,#4c26be,#4726b6,#4426b2,#4226ae,#4126ac,#4026aa,#4026aa,#3e26a8,#3e26a8,#4026aa,#4026aa,#4126ac,#4126ac,#4326b0,#4426b2,#4826b8,#4d26bf,#5c29b3,#6c2ca5,#822f93,#9d347c,#c73957,#f43e30,#f65718,#e97705,#e69508,#e6b314)"></div>
<div style="height:2px;background:linear-gradient(90deg,#ed6d0b,#e68904,#e6a50f,#e6bf19,#e6cc3c,#e6d85c,#e6e379,#e9e98f,#ededa3,#efefaf,#f1f1b7,#f1f1b7,#efefaf,#ededa3,#e9e98f,#e6e276,#e6d85c,#e6cc3c,#e6bd18,#e6a30e,#e68703,#ee6b0c,#fa4d1e,#e73d3b,#bd3860,#973381,#7d2e97,#682ba9,#5728b7,#4c26be,#4726b6,#4426b2,#4226ae,#4126ac,#4026aa,#4026aa,#4026aa,#4026aa,#4026aa,#4026aa,#4126ac,#4226ae,#4326b0,#4426b2,#4826b8,#4d26bf,#5928b5,#6a2ba7,#802f95,#9a337e,#c4385a,#ed3e36,#f7531b,#eb7109,#e69107,#e6ad12)"></div>
<div style="height:2px;background:linear-gradient(90deg,#f06510,#e68100,#e69d0c,#e6b716,#e6c72f,#e6d34f,#e6dd69,#e6e57f,#e9e993,#ecec9f,#ededa7,#ededa7,#ecec9f,#e9e993,#e6e57f,#e6dd69,#e6d24c,#e6c62c,#e6b515,#e69b0b,#e67f00,#f16311,#fc4722,#dd3c44,#b43668,#933285,#782e9b,#652aab,#5428b9,#4a26bc,#4726b6,#4426b2,#4226ae,#4126ac,#4026aa,#4026aa,#4026aa,#4026aa,#4026aa,#4126ac,#4126ac,#4226ae,#4326b0,#4426b2,#4826b8,#4c26be,#5728b7,#682ba9,#7d2e97,#953283,#bd3860,#e73d3b,#f94f1d,#ed6d0b,#e68b05,#e6a710)"></div>
<div style="height:2px;background:linear-gradient(90deg,#f35f14,#e87904,#e69508,#e6ad12,#e6c11f,#e6cd3f,#e6d85c,#e6df6f,#e6e57f,#e9e98f,#e9e993,#e9e993,#e8e88b,#e6e57f,#e6df6f,#e6d759,#e6cd3f,#e6c11f,#e6ab11,#e69308,#e97705,#f35d15,#ff4126,#d43a4c,#ad366e,#8e3189,#762d9d,#632aad,#5428b9,#4a26bc,#4726b6,#4426b2,#4226ae,#4126ac,#4126ac,#4026aa,#4026aa,#4026aa,#4026aa,#4126ac,#4126ac,#4226ae,#4326b0,#4626b4,#4826b8,#4c26be,#5728b7,#652aab,#7b2e99,#933285,#b73765,#e13c41,#fb4921,#ef670f,#e68301,#e6a10d)"></div>
<div style="height:2px;background:linear-gradient(90deg,#f65718,#eb7109,#e68b05,#e6a30e,#e6bb18,#e6c72f,#e6d24c,#e6d95f,#e6df6f,#e6e47c,#e6e57f,#e6e57f,#e6e47c,#e6df6f,#e6d95f,#e6d149,#e6c72f,#e6b917,#e6a30e,#e68904,#ec6f0a,#f7551a,#f43e30,#cd3a52,#a43476,#89308d,#712ca1,#602aaf,#5227bb,#4a26bc,#4726b6,#4426b2,#4226ae,#4126ac,#4126ac,#4126ac,#4126ac,#4126ac,#4126ac,#4126ac,#4126ac,#4226ae,#4326b0,#4426b2,#4826b8,#4c26be,#5428b9,#632aad,#762d9d,#8e3189,#b1366b,#d73b49,#fe4324,#f26112,#e77d02,#e6990a)"></div>
<div style="height:2px;background:linear-gradient(90deg,#f94f1d,#ef690e,#e68301,#e69b0b,#e6b114,#e6c11f,#e6cb39,#e6d34f,#e6d95f,#e6dd69,#e6df6f,#e6df6f,#e6dd69,#e6d95f,#e6d34f,#e6cb39,#e6c11f,#e6af13,#e6990a,#e68100,#ef670f,#fa4d1e,#ea3d38,#c1385d,#9d347c,#843091,#6f2ca3,#5e29b1,#5027bd,#4926ba,#4626b4,#4426b2,#4226ae,#4226ae,#4126ac,#4126ac,#4126ac,#4126ac,#4126ac,#4126ac,#4226ae,#4226ae,#4326b0,#4426b2,#4726b6,#4a26bc,#5428b9,#602aaf,#732d9f,#89308d,#a73573,#d13a4f,#fa3f2a,#f55917,#ea7506,#e69107)"></div>
<div style="height:2px;background:linear-gradient(90deg,#fc4722,#f35f14,#e87904,#e68f06,#e6a50f,#e6b917,#e6c529,#e6cd3f,#e6d34f,#e6d759,#e6d85c,#e6d85c,#e6d759,#e6d24c,#e6cc3c,#e6c426,#e6b716,#e6a50f,#e68f06,#e97705,#f35d15,#fd4523,#dd3c44,#b73765,#953283,#7d2e97,#6a2ba7,#5c29b3,#4d26bf,#4926ba,#4626b4,#4426b2,#4226ae,#4226ae,#4126ac,#4126ac,#4126ac,#4126ac,#4126ac,#4126ac,#4226ae,#4226ae,#4326b0,#4426b2,#4726b6,#4a26bc,#5227bb,#5e29b1,#712ca1,#87308f,#a13479,#c73957,#f13e33,#f7531b,#ec6f0a,#e68904)"></div>
</div>
<div style="position:absolute;left:169.5px;top:398.1px;width:249.5px;height:251.5px;overflow:hidden">
<div style="height:2px;background:linear-gradient(90deg,#0a0a20,#0a0a20,#0a0a20,#0a0a20,#08081c,#08081c,#08081c,#08081c,#08081c,#08081c,#08081c,#0a0a20,#0a0a20,#0a0a20,#0a0a20,#0b0b24,#0b0b24,#0c0c28,#0c0c28,#0d0d2c,#0d0d2c,#0e0e30,#101034,#111138,#12123c,#131340,#131340,#141444,#161648,#17174c,#17174c,#181850,#181850,#191954,#191954,#191954,#191954,#191954,#191954,#181850,#181850,#17174c,#161648,#141444,#141444,#131340,#12123c,#111138,#101034,#0e0e30,#0e0e30,#0d0d2c,#0c0c28,#0c0c28,#0b0b24,#0b0b24)"></div>
<div style="height:2px;background:linear-gradient(90deg,#0a0a20,#0a0a20,#0a0a20,#0a0a20,#0a0a20,#08081c,#08081c,#08081c,#08081c,#08081c,#0a0a20,#0a0a20,#0a0a20,#0a0a20,#0a0a20,#0b0b24,#0b0b24,#0c0c28,#0c0c28,#0d0d2c,#0e0e30,#101034,#101034,#111138,#12123c,#131340,#141444,#161648,#17174c,#181850,#181850,#191954,#191954,#1a1a58,#1a1a58,#1a1a58,#1a1a58,#1a1a58,#1a1a58,#191954,#191954,#181850,#17174c,#161648,#141444,#131340,#12123c,#111138,#111138,#101034,#0e0e30,#0d0d2c,#0c0c28,#0c0c28,#0b0b24,#0b0b24)"></div>
<div style="height:2px;background:linear-gradient(90deg,#0b0b24,#0a0a20,#0a0a20,#0a0a20,#0a0a20,#0a0a20,#08081c,#08081c,#08081c,#0a0a20,#0a0a20,#0a0a20,#0a0a20,#0a0a20,#0a0a20,#0b0b24,#0b0b24,#0c0c28,#0d0d2c,#0d0d2c,#0e0e30,#101034,#111138,#12123c,#131340,#141444,#161648,#17174c,#181850,#191954,#191954,#1a1a58,#1c1c5c,#1c1c5c,#1c1c5c,#1c1c5c,#1c1c5c,#1c1c5c,#1c1c5c,#1a1a58,#1a1a58,#191954,#181850,#17174c,#161648,#141444,#131340,#12123c,#111138,#101034,#0e0e30,#0d0d2c,#0d0d2c,#0c0c28,#0b0b24,#0b0b24)"></div>
<div style="height:2px;background:linear-gradient(90deg,#0b0b24,#0a0a20,#0a0a20,#0a0a20,#0a0a20,#0a0a20,#0a0a20,#0a0a20,#0a0a20,#0a0a20,#0a0a20,#0a0a20,#0a0a20,#0a0a20,#0b0b24,#0b0b24,#0c0c28,#0c0c28,#0d0d2c,#0e0e30,#0e0e30,#101034,#111138,#12123c,#131340,#161648,#17174c,#181850,#191954,#1a1a58,#1c1c5c,#1c1c5c,#1d1d60,#1d1d60,#1e1e64,#1e1e64,#1e1e64,#1d1d60,#1d1d60,#1c1c5c,#1c1c5c,#1a1a58,#191954,#181850,#17174c,#161648,#141444,#131340,#12123c,#111138,#101034,#0e0e30,#0d0d2c,#0c0c28,#0c0c28,#0b0b24)"></div>
<div style="height:2px;background:linear-gradient(90deg,#0b0b24,#0b0b24,#0a0a20,#0a0a20,#0a0a20,#0a0a20,#0a0a20,#0a0a20,#0a0a20,#0a0a20,#0a0a20,#0a0a20,#0a0a20,#0a0a20,#0b0b24,#0b0b24,#0c0c28,#0c0c28,#0d0d2c,#0e0e30,#101034,#111138,#12123c,#131340,#141444,#161648,#181850,#191954,#1a1a58,#1c1c5c,#1d1d60,#1e1e64,#1e1e64,#1f1f68,#1f1f68,#1f1f68,#1f1f68,#1f1f68,#1f1f68,#1e1e64,#1d1d60,#1c1c5c,#1a1a58,#191954,#181850,#17174c,#141444,#131340,#12123c,#111138,#101034,#0e0e30,#0d0d2c,#0d0d2c,#0c0c28,#0b0b24)"></div>
<div style="height:2px;background:linear-gradient(90deg,#0b0b24,#0b0b24,#0a0a20,#0a0a20,#0a0a20,#0a0a20,#0a0a20,#0a0a20,#0a0a20,#0a0a20,#0a0a20,#0a0a20,#0a0a20,#0b0b24,#0b0b24,#0b0b24,#0c0c28,#0d0d2c,#0e0e30,#0e0e30,#101034,#111138,#131340,#141444,#161648,#17174c,#191954,#1a1a58,#1c1c5c,#1d1d60,#1e1e64,#1f1f68,#20206c,#222270,#222270,#222270,#222270,#222270,#20206c,#1f1f68,#1f1f68,#1e1e64,#1c1c5c,#1a1a58,#191954,#181850,#161648,#141444,#131340,#12123c,#111138,#101034,#0e0e30,#0d0d2c,#0c0c28,#0c0c28)"></div>
<div style="height:2px;background:linear-gradient(90deg,#0b0b24,#0b0b24,#0a0a20,#0a0a20,#0a0a20,#0a0a20,#0a0a20,#0a0a20,#0a0a20,#0a0a20,#0a0a20,#0a0a20,#0a0a20,#0b0b24,#0b0b24,#0c0c28,#0c0c28,#0d0d2c,#0e0e30,#101034,#111138,#12123c,#131340,#161648,#17174c,#181850,#1a1a58,#1c1c5c,#1e1e64,#1f1f68,#20206c,#222270,#232374,#232374,#242478,#242478,#242478,#242478,#232374,#222270,#20206c,#1f1f68,#1e1e64,#1d1d60,#1a1a58,#191954,#17174c,#161648,#141444,#12123c,#111138,#101034,#0e0e30,#0d0d2c,#0c0c28,#0c0c28)"></div>
<div style="height:2px;background:linear-gradient(90deg,#0c0c28,#0b0b24,#0b0b24,#0a0a20,#0a0a20,#0a0a20,#0a0a20,#0a0a20,#0a0a20,#0a0a20,#0a0a20,#0a0a20,#0b0b24,#0b0b24,#0b0b24,#0c0c28,#0d0d2c,#0d0d2c,#0e0e30,#101034,#12123c,#131340,#141444,#17174c,#181850,#1a1a58,#1c1c5c,#1e1e64,#1f1f68,#222270,#232374,#242478,#25257c,#25257c,#262680,#262680,#262680,#262680,#25257c,#242478,#232374,#222270,#1f1f68,#1e1e64,#1c1c5c,#1a1a58,#181850,#17174c,#141444,#131340,#12123c,#111138,#101034,#0e0e30,#0d0d2c,#0c0c28)"></div>
<div style="height:2px;background:linear-gradient(90deg,#0c0c28,#0b0b24,#0b0b24,#0b0b24,#0a0a20,#0a0a20,#0a0a20,#0a0a20,#0a0a20,#0a0a20,#0a0a20,#0a0a20,#0b0b24,#0b0b24,#0c0c28,#0c0c28,#0d0d2c,#0e0e30,#101034,#111138,#12123c,#141444,#161648,#181850,#191954,#1c1c5c,#1e1e64,#1f1f68,#222270,#232374,#25257c,#262680,#282682,#292684,#292684,#292684,#292684,#292684,#282682,#262680,#25257c,#242478,#222270,#20206c,#1e1e64,#1c1c5c,#1a1a58,#181850,#161648,#141444,#12123c,#111138,#101034,#0e0e30,#0d0d2c,#0c0c28)"></div>
<div style="height:2px;background:linear-gradient(90deg,#0c0c28,#0b0b24,#0b0b24,#0b0b24,#0a0a20,#0a0a20,#0a0a20,#0a0a20,#0a0a20,#0a0a20,#0a0a20,#0b0b24,#0b0b24,#0b0b24,#0c0c28,#0d0d2c,#0d0d2c,#0e0e30,#101034,#12123c,#131340,#141444,#17174c,#191954,#1a1a58,#1d1d60,#1f1f68,#222270,#242478,#25257c,#282682,#292684,#2a2686,#2b2688,#2c268a,#2c268a,#2c268a,#2b2688,#2b2688,#2a2686,#282682,#262680,#242478,#222270,#20206c,#1e1e64,#1c1c5c,#191954,#17174c,#161648,#131340,#12123c,#111138,#101034,#0e0e30,#0d0d2c)"></div>
<div style="height:2px;background:linear-gradient(90deg,#0c0c28,#0c0c28,#0b0b24,#0b0b24,#0b0b24,#0a0a20,#0a0a20,#0a0a20,#0a0a20,#0a0a20,#0b0b24,#0b0b24,#0b0b24,#0c0c28,#0c0c28,#0d0d2c,#0e0e30,#101034,#111138,#12123c,#141444,#161648,#181850,#1a1a58,#1d1d60,#1f1f68,#222270,#242478,#262680,#292684,#2a2686,#2c268a,#2e268c,#2f268e,#2f268e,#302690,#2f268e,#2f268e,#2e268c,#2c268a,#2b2688,#292684,#262680,#242478,#222270,#1f1f68,#1d1d60,#1a1a58,#181850,#17174c,#141444,#12123c,#111138,#101034,#0e0e30,#0d0d2c)"></div>
<div style="height:2px;background:linear-gradient(90deg,#0d0d2c,#0c0c28,#0b0b24,#0b0b24,#0b0b24,#0b0b24,#0a0a20,#0a0a20,#0a0a20,#0b0b24,#0b0b24,#0b0b24,#0b0b24,#0c0c28,#0c0c28,#0d0d2c,#0e0e30,#101034,#111138,#131340,#141444,#17174c,#191954,#1c1c5c,#1e1e64,#20206c,#242478,#262680,#292684,#2b2688,#2e268c,#2f268e,#312692,#322694,#322694,#342696,#322694,#322694,#312692,#302690,#2e268c,#2b2688,#292684,#262680,#242478,#222270,#1f1f68,#1d1d60,#1a1a58,#181850,#161648,#131340,#12123c,#111138,#0e0e30,#0d0d2c)"></div>
<div style="height:2px;background:linear-gradient(90deg,#0d0d2c,#0c0c28,#0c0c28,#0b0b24,#0b0b24,#0b0b24,#0b0b24,#0b0b24,#0b0b24,#0b0b24,#0b0b24,#0b0b24,#0c0c28,#0c0c28,#0d0d2c,#0e0e30,#101034,#111138,#12123c,#141444,#161648,#181850,#1a1a58,#1d1d60,#20206c,#232374,#262680,#292684,#2b2688,#2f268e,#312692,#322694,#352698,#36269a,#37269c,#37269c,#37269c,#36269a,#352698,#342696,#312692,#2f268e,#2c268a,#2a2686,#262680,#242478,#20206c,#1e1e64,#1c1c5c,#191954,#17174c,#141444,#12123c,#111138,#101034,#0e0e30)"></div>
<div style="height:2px;background:linear-gradient(90deg,#0d0d2c,#0d0d2c,#0c0c28,#0c0c28,#0b0b24,#0b0b24,#0b0b24,#0b0b24,#0b0b24,#0b0b24,#0b0b24,#0b0b24,#0c0c28,#0c0c28,#0d0d2c,#0e0e30,#101034,#111138,#131340,#141444,#17174c,#191954,#1d1d60,#1f1f68,#222270,#25257c,#292684,#2b2688,#2f268e,#312692,#352698,#37269c,#38269e,#3a26a0,#3b26a2,#3b26a2,#3b26a2,#3b26a2,#38269e,#37269c,#352698,#322694,#302690,#2c268a,#292684,#262680,#232374,#20206c,#1d1d60,#1a1a58,#181850,#161648,#131340,#12123c,#101034,#0e0e30)"></div>
<div style="height:2px;background:linear-gradient(90deg,#0e0e30,#0d0d2c,#0c0c28,#0c0c28,#0b0b24,#0b0b24,#0b0b24,#0b0b24,#0b0b24,#0b0b24,#0b0b24,#0c0c28,#0c0c28,#0d0d2c,#0e0e30,#0e0e30,#111138,#12123c,#141444,#161648,#181850,#1c1c5c,#1e1e64,#222270,#242478,#282682,#2b2688,#2f268e,#322694,#352698,#38269e,#3b26a2,#3d26a6,#3e26a8,#4026aa,#4026aa,#4026aa,#3e26a8,#3d26a6,#3b26a2,#38269e,#36269a,#322694,#302690,#2c268a,#292684,#25257c,#222270,#1f1f68,#1c1c5c,#191954,#17174c,#141444,#12123c,#111138,#101034)"></div>
<div style="height:2px;background:linear-gradient(90deg,#0e0e30,#0d0d2c,#0d0d2c,#0c0c28,#0c0c28,#0b0b24,#0b0b24,#0b0b24,#0b0b24,#0b0b24,#0c0c28,#0c0c28,#0c0c28,#0d0d2c,#0e0e30,#101034,#111138,#131340,#141444,#17174c,#191954,#1d1d60,#1f1f68,#232374,#262680,#2a2686,#2f268e,#322694,#36269a,#3a26a0,#3c26a4,#4026aa,#4226ae,#4326b0,#4426b2,#4426b2,#4426b2,#4326b0,#4226ae,#4026aa,#3d26a6,#3a26a0,#37269c,#322694,#2f268e,#2b2688,#282682,#242478,#20206c,#1d1d60,#1a1a58,#181850,#161648,#131340,#12123c,#101034)"></div>
<div style="height:2px;background:linear-gradient(90deg,#101034,#0e0e30,#0d0d2c,#0c0c28,#0c0c28,#0c0c28,#0b0b24,#0b0b24,#0b0b24,#0c0c28,#0c0c28,#0c0c28,#0d0d2c,#0d0d2c,#0e0e30,#101034,#12123c,#131340,#161648,#181850,#1c1c5c,#1e1e64,#222270,#25257c,#292684,#2e268c,#312692,#36269a,#3a26a0,#3d26a6,#4126ac,#4426b2,#4726b6,#4826b8,#4926ba,#4a26bc,#4926ba,#4826b8,#4726b6,#4426b2,#4226ae,#3e26a8,#3b26a2,#36269a,#322694,#2f268e,#2a2686,#262680,#232374,#1f1f68,#1c1c5c,#191954,#17174c,#141444,#12123c,#111138)"></div>
<div style="height:2px;background:linear-gradient(90deg,#101034,#0e0e30,#0d0d2c,#0d0d2c,#0c0c28,#0c0c28,#0c0c28,#0c0c28,#0c0c28,#0c0c28,#0c0c28,#0c0c28,#0d0d2c,#0e0e30,#101034,#111138,#12123c,#141444,#17174c,#191954,#1d1d60,#20206c,#242478,#282682,#2c268a,#302690,#352698,#3a26a0,#3d26a6,#4226ae,#4626b4,#4926ba,#4c26be,#5027bd,#5227bb,#5227bb,#5227bb,#5027bd,#4c26be,#4926ba,#4726b6,#4326b0,#3e26a8,#3b26a2,#36269a,#312692,#2c268a,#292684,#25257c,#20206c,#1d1d60,#1a1a58,#181850,#141444,#131340,#111138)"></div>
<div style="height:2px;background:linear-gradient(90deg,#111138,#0e0e30,#0e0e30,#0d0d2c,#0c0c28,#0c0c28,#0c0c28,#0c0c28,#0c0c28,#0c0c28,#0c0c28,#0d0d2c,#0d0d2c,#0e0e30,#101034,#12123c,#131340,#161648,#181850,#1a1a58,#1e1e64,#222270,#262680,#2a2686,#2f268e,#342696,#38269e,#3d26a6,#4226ae,#4726b6,#4a26bc,#5027bd,#5728b7,#5928b5,#5e29b1,#5e29b1,#5e29b1,#5c29b3,#5728b7,#5227bb,#4c26be,#4826b8,#4326b0,#3e26a8,#3a26a0,#352698,#302690,#2b2688,#262680,#232374,#1f1f68,#1c1c5c,#181850,#161648,#131340,#12123c)"></div>
<div style="height:2px;background:linear-gradient(90deg,#111138,#101034,#0e0e30,#0d0d2c,#0d0d2c,#0c0c28,#0c0c28,#0c0c28,#0c0c28,#0c0c28,#0d0d2c,#0d0d2c,#0e0e30,#101034,#111138,#12123c,#141444,#17174c,#191954,#1d1d60,#20206c,#242478,#282682,#2c268a,#322694,#37269c,#3c26a4,#4226ae,#4726b6,#4c26be,#5428b9,#5c29b3,#632aad,#682ba9,#6a2ba7,#6a2ba7,#6a2ba7,#682ba9,#632aad,#5e29b1,#5428b9,#4d26bf,#4826b8,#4326b0,#3d26a6,#38269e,#342696,#2e268c,#292684,#25257c,#20206c,#1d1d60,#1a1a58,#17174c,#141444,#12123c)"></div>
<div style="height:2px;background:linear-gradient(90deg,#12123c,#101034,#0e0e30,#0e0e30,#0d0d2c,#0d0d2c,#0c0c28,#0c0c28,#0c0c28,#0c0c28,#0d0d2c,#0d0d2c,#0e0e30,#101034,#111138,#131340,#141444,#181850,#1a1a58,#1e1e64,#222270,#262680,#2a2686,#302690,#352698,#3b26a2,#4126ac,#4626b4,#4c26be,#5428b9,#5e29b1,#682ba9,#6f2ca3,#732d9f,#762d9d,#782e9b,#762d9d,#732d9f,#6f2ca3,#6a2ba7,#602aaf,#5728b7,#4d26bf,#4826b8,#4226ae,#3c26a4,#36269a,#312692,#2b2688,#262680,#232374,#1e1e64,#1c1c5c,#181850,#161648,#131340)"></div>
<div style="height:2px;background:linear-gradient(90deg,#12123c,#111138,#101034,#0e0e30,#0d0d2c,#0d0d2c,#0d0d2c,#0c0c28,#0d0d2c,#0d0d2c,#0d0d2c,#0e0e30,#0e0e30,#101034,#12123c,#131340,#161648,#181850,#1c1c5c,#1f1f68,#242478,#282682,#2e268c,#322694,#38269e,#3e26a8,#4426b2,#4a26bc,#5428b9,#602aaf,#6a2ba7,#732d9f,#7b2e99,#802f95,#843091,#843091,#843091,#822f93,#7d2e97,#762d9d,#6c2ca5,#632aad,#5728b7,#4c26be,#4626b4,#4026aa,#3a26a0,#342696,#2f268e,#292684,#242478,#20206c,#1d1d60,#191954,#17174c,#141444)"></div>
<div style="height:2px;background:linear-gradient(90deg,#131340,#111138,#101034,#0e0e30,#0e0e30,#0d0d2c,#0d0d2c,#0d0d2c,#0d0d2c,#0d0d2c,#0d0d2c,#0e0e30,#101034,#111138,#12123c,#141444,#17174c,#191954,#1d1d60,#20206c,#25257c,#2a2686,#302690,#36269a,#3c26a4,#4226ae,#4926ba,#5227bb,#602aaf,#6c2ca5,#762d9d,#802f95,#89308d,#8e3189,#933285,#933285,#933285,#903287,#89308d,#822f93,#782e9b,#6f2ca3,#632aad,#5728b7,#4a26bc,#4426b2,#3d26a6,#37269c,#312692,#2b2688,#262680,#222270,#1e1e64,#1a1a58,#17174c,#141444)"></div>
<div style="height:2px;background:linear-gradient(90deg,#131340,#12123c,#101034,#101034,#0e0e30,#0d0d2c,#0d0d2c,#0d0d2c,#0d0d2c,#0d0d2c,#0e0e30,#0e0e30,#101034,#111138,#131340,#161648,#181850,#1a1a58,#1e1e64,#232374,#282682,#2c268a,#322694,#38269e,#4026aa,#4726b6,#5027bd,#5e29b1,#6a2ba7,#782e9b,#843091,#8e3189,#973381,#9d347c,#a43476,#a73573,#a43476,#a13479,#973381,#903287,#87308f,#7b2e99,#6f2ca3,#602aaf,#5227bb,#4826b8,#4126ac,#3b26a2,#342696,#2e268c,#292684,#242478,#1f1f68,#1c1c5c,#181850,#161648)"></div>
<div style="height:2px;background:linear-gradient(90deg,#141444,#12123c,#111138,#101034,#0e0e30,#0e0e30,#0d0d2c,#0d0d2c,#0d0d2c,#0e0e30,#0e0e30,#101034,#111138,#12123c,#131340,#161648,#191954,#1c1c5c,#20206c,#242478,#2a2686,#2f268e,#36269a,#3c26a4,#4326b0,#4a26bc,#5928b5,#682ba9,#762d9d,#843091,#903287,#9d347c,#aa3570,#b1366b,#b73765,#ba3762,#ba3762,#b43668,#aa3570,#a13479,#933285,#87308f,#7b2e99,#6c2ca5,#5c29b3,#4d26bf,#4626b4,#3e26a8,#37269c,#302690,#2b2688,#25257c,#20206c,#1d1d60,#191954,#17174c)"></div>
<div style="height:2px;background:linear-gradient(90deg,#141444,#131340,#111138,#101034,#0e0e30,#0e0e30,#0e0e30,#0d0d2c,#0e0e30,#0e0e30,#0e0e30,#101034,#111138,#12123c,#141444,#17174c,#191954,#1d1d60,#222270,#262680,#2b2688,#312692,#38269e,#4026aa,#4726b6,#5227bb,#632aad,#732d9f,#822f93,#903287,#a13479,#b1366b,#bd3860,#c73957,#cd3a52,#d13a4f,#cd3a52,#c73957,#c1385d,#b43668,#a43476,#953283,#87308f,#762d9d,#682ba9,#5728b7,#4926ba,#4126ac,#3a26a0,#342696,#2c268a,#282682,#232374,#1e1e64,#1a1a58,#181850)"></div>
<div style="height:2px;background:linear-gradient(90deg,#161648,#131340,#12123c,#111138,#101034,#0e0e30,#0e0e30,#0e0e30,#0e0e30,#0e0e30,#101034,#101034,#111138,#131340,#161648,#181850,#1a1a58,#1e1e64,#232374,#282682,#2e268c,#352698,#3c26a4,#4326b0,#4c26be,#5c29b3,#6c2ca5,#7d2e97,#8e3189,#a13479,#b43668,#c4385a,#d13a4f,#dd3c44,#e43c3e,#e43c3e,#e43c3e,#dd3c44,#d43a4c,#c73957,#b73765,#a43476,#933285,#822f93,#712ca1,#602aaf,#4d26bf,#4626b4,#3d26a6,#36269a,#2f268e,#292684,#242478,#1f1f68,#1c1c5c,#181850)"></div>
<div style="height:2px;background:linear-gradient(90deg,#17174c,#141444,#12123c,#111138,#101034,#101034,#0e0e30,#0e0e30,#0e0e30,#0e0e30,#101034,#111138,#12123c,#131340,#161648,#181850,#1c1c5c,#20206c,#242478,#2a2686,#302690,#37269c,#3e26a8,#4726b6,#5227bb,#652aab,#782e9b,#89308d,#9d347c,#b43668,#c73957,#da3b46,#e73d3b,#f13e33,#fa3f2a,#fa3f2a,#fa3f2a,#f43e30,#ea3d38,#dd3c44,#ca3954,#b73765,#a13479,#8e3189,#7b2e99,#6a2ba7,#5728b7,#4926ba,#4126ac,#38269e,#312692,#2b2688,#25257c,#20206c,#1d1d60,#191954)"></div>
<div style="height:2px;background:linear-gradient(90deg,#17174c,#141444,#131340,#111138,#101034,#101034,#0e0e30,#0e0e30,#0e0e30,#101034,#101034,#111138,#12123c,#141444,#17174c,#191954,#1d1d60,#222270,#262680,#2c268a,#322694,#3a26a0,#4226ae,#4a26bc,#5c29b3,#6f2ca3,#822f93,#953283,#ad366e,#c4385a,#da3b46,#ed3e36,#fd4028,#fd4523,#fb4b20,#fb4b20,#fb4b20,#fc4722,#ff4126,#f13e33,#e13c41,#ca3954,#b43668,#9a337e,#87308f,#732d9f,#602aaf,#4d26bf,#4426b2,#3c26a4,#342696,#2e268c,#282682,#232374,#1e1e64,#1a1a58)"></div>
<div style="height:2px;background:linear-gradient(90deg,#181850,#161648,#131340,#12123c,#111138,#101034,#101034,#101034,#101034,#101034,#111138,#12123c,#131340,#141444,#17174c,#1a1a58,#1e1e64,#232374,#282682,#2e268c,#352698,#3d26a6,#4626b4,#5027bd,#652aab,#782e9b,#8e3189,#a43476,#c1385d,#d73b49,#ed3e36,#fe4324,#fa4d1e,#f7531b,#f55917,#f45b16,#f55917,#f7551a,#f94f1d,#fd4523,#f43e30,#dd3c44,#c4385a,#aa3570,#933285,#7d2e97,#6a2ba7,#5428b9,#4726b6,#3e26a8,#37269c,#302690,#292684,#242478,#1f1f68,#1c1c5c)"></div>
<div style="height:2px;background:linear-gradient(90deg,#191954,#161648,#141444,#12123c,#111138,#101034,#101034,#101034,#101034,#101034,#111138,#12123c,#131340,#161648,#181850,#1c1c5c,#1f1f68,#242478,#2a2686,#302690,#37269c,#4026aa,#4926ba,#5928b5,#6c2ca5,#822f93,#973381,#b43668,#d13a4f,#ea3d38,#fe4324,#f94f1d,#f45b16,#f26112,#ef670f,#ef690e,#ef670f,#f16311,#f35d15,#f7531b,#fd4523,#f13e33,#d73b49,#ba3762,#a13479,#87308f,#712ca1,#5e29b1,#4a26bc,#4226ae,#3a26a0,#312692,#2b2688,#25257c,#20206c,#1c1c5c)"></div>
<div style="height:2px;background:linear-gradient(90deg,#191954,#17174c,#141444,#131340,#111138,#111138,#101034,#101034,#101034,#111138,#111138,#12123c,#141444,#161648,#191954,#1d1d60,#20206c,#25257c,#2b2688,#322694,#3a26a0,#4226ae,#4c26be,#602aaf,#762d9d,#8e3189,#a73573,#c73957,#e43c3e,#fd4028,#f94f1d,#f35d15,#ef670f,#eb7109,#ea7506,#e97705,#e97705,#eb7109,#ee6b0c,#f35f14,#f7531b,#fe4324,#ea3d38,#cd3a52,#ad366e,#933285,#7b2e99,#652aab,#5027bd,#4426b2,#3c26a4,#342696,#2c268a,#262680,#222270,#1d1d60)"></div>
<div style="height:2px;background:linear-gradient(90deg,#1a1a58,#17174c,#141444,#131340,#12123c,#111138,#111138,#101034,#101034,#111138,#12123c,#131340,#141444,#17174c,#191954,#1d1d60,#222270,#262680,#2c268a,#342696,#3c26a4,#4626b4,#5227bb,#682ba9,#802f95,#973381,#b73765,#d73b49,#f43e30,#fb4b20,#f35d15,#ee6b0c,#ea7506,#e67f00,#e68301,#e68502,#e68502,#e68100,#e87904,#ed6d0b,#f35f14,#f94f1d,#fd4028,#dd3c44,#bd3860,#9d347c,#843091,#6c2ca5,#5728b7,#4826b8,#3e26a8,#36269a,#2f268e,#282682,#232374,#1e1e64)"></div>
<div style="height:2px;background:linear-gradient(90deg,#1c1c5c,#181850,#161648,#131340,#12123c,#111138,#111138,#111138,#111138,#111138,#12123c,#131340,#141444,#17174c,#1a1a58,#1e1e64,#232374,#292684,#2f268e,#36269a,#3e26a8,#4826b8,#5928b5,#712ca1,#89308d,#a43476,#c73957,#e73d3b,#fd4523,#f55917,#ef690e,#e97705,#e68301,#e68d05,#e69308,#e69508,#e69308,#e68f06,#e68703,#e77b03,#ed6d0b,#f35d15,#fb4921,#ed3e36,#cd3a52,#aa3570,#8e3189,#762d9d,#5e29b1,#4a26bc,#4126ac,#38269e,#302690,#2a2686,#242478,#1f1f68)"></div>
<div style="height:2px;background:linear-gradient(90deg,#1c1c5c,#191954,#161648,#141444,#12123c,#12123c,#111138,#111138,#111138,#111138,#12123c,#131340,#161648,#181850,#1c1c5c,#1f1f68,#242478,#2a2686,#302690,#38269e,#4126ac,#4c26be,#602aaf,#782e9b,#903287,#b1366b,#d43a4c,#f73f2d,#f8511c,#f06510,#ea7506,#e68502,#e69107,#e69b0b,#e6a10d,#e6a30e,#e6a10d,#e69d0c,#e69308,#e68904,#e87904,#ef690e,#f7551a,#ff4126,#dd3c44,#ba3762,#973381,#7d2e97,#652aab,#5027bd,#4326b0,#3b26a2,#322694,#2b2688,#25257c,#20206c)"></div>
<div style="height:2px;background:linear-gradient(90deg,#1d1d60,#191954,#17174c,#141444,#131340,#12123c,#111138,#111138,#111138,#12123c,#12123c,#141444,#161648,#181850,#1c1c5c,#20206c,#25257c,#2b2688,#322694,#3b26a2,#4426b2,#5027bd,#682ba9,#802f95,#9a337e,#c1385d,#e43c3e,#fd4523,#f45b16,#ec6f0a,#e68301,#e69308,#e69f0c,#e6a910,#e6af13,#e6b114,#e6af13,#e6ab11,#e6a10d,#e69508,#e68703,#ea7506,#f26112,#fb4b20,#ed3e36,#c73957,#a43476,#87308f,#6c2ca5,#5428b9,#4626b4,#3c26a4,#342696,#2c268a,#262680,#222270)"></div>
<div style="height:2px;background:linear-gradient(90deg,#1e1e64,#1a1a58,#17174c,#141444,#131340,#12123c,#12123c,#111138,#111138,#12123c,#131340,#141444,#17174c,#191954,#1d1d60,#20206c,#262680,#2c268a,#342696,#3c26a4,#4726b6,#5728b7,#6f2ca3,#89308d,#a73573,#cd3a52,#f43e30,#f94f1d,#ef670f,#e77b03,#e68f06,#e69f0c,#e6ad12,#e6b716,#e6bd18,#e6bf19,#e6bd18,#e6b716,#e6af13,#e6a30e,#e69308,#e68100,#ee6b0c,#f7551a,#fa3f2a,#d43a4c,#b1366b,#8e3189,#732d9f,#5c29b3,#4926ba,#3e26a8,#36269a,#2e268c,#282682,#222270)"></div>
<div style="height:2px;background:linear-gradient(90deg,#1e1e64,#1a1a58,#181850,#161648,#131340,#12123c,#12123c,#12123c,#12123c,#12123c,#131340,#141444,#17174c,#191954,#1d1d60,#222270,#282682,#2e268c,#36269a,#3e26a8,#4926ba,#5c29b3,#732d9f,#903287,#b43668,#da3b46,#ff4126,#f55917,#eb7109,#e68703,#e69b0b,#e6ab11,#e6b917,#e6c11f,#e6c529,#e6c72f,#e6c62c,#e6c322,#e6bb18,#e6af13,#e69f0c,#e68b05,#e97705,#f35f14,#fc4722,#e43c3e,#ba3762,#953283,#7b2e99,#602aaf,#4c26be,#4126ac,#37269c,#302690,#292684,#232374)"></div>
<div style="height:2px;background:linear-gradient(90deg,#1f1f68,#1c1c5c,#181850,#161648,#141444,#131340,#12123c,#12123c,#12123c,#12123c,#131340,#161648,#17174c,#1a1a58,#1e1e64,#232374,#292684,#2f268e,#37269c,#4126ac,#4c26be,#602aaf,#7b2e99,#973381,#bd3860,#e73d3b,#fb4b20,#f16311,#e77b03,#e69308,#e6a710,#e6b716,#e6c322,#e6ca36,#e6cd3f,#e6cf42,#e6cd3f,#e6cb39,#e6c529,#e6bb18,#e6ab11,#e69709,#e68100,#ef690e,#f8511c,#f13e33,#c73957,#a13479,#822f93,#682ba9,#5027bd,#4326b0,#3a26a0,#312692,#2a2686,#242478)"></div>
<div style="height:2px;background:linear-gradient(90deg,#20206c,#1c1c5c,#191954,#161648,#141444,#131340,#12123c,#12123c,#12123c,#131340,#131340,#161648,#181850,#1a1a58,#1f1f68,#242478,#2a2686,#302690,#38269e,#4226ae,#5027bd,#682ba9,#822f93,#a13479,#ca3954,#f43e30,#f7531b,#ed6d0b,#e68502,#e69d0c,#e6b114,#e6c11f,#e6ca36,#e6d149,#e6d552,#e6d656,#e6d656,#e6d24c,#e6cc3c,#e6c426,#e6b515,#e6a10d,#e68b05,#eb7308,#f55917,#fd4028,#d43a4c,#aa3570,#89308d,#6c2ca5,#5428b9,#4426b2,#3b26a2,#322694,#2b2688,#25257c)"></div>
<div style="height:2px;background:linear-gradient(90deg,#20206c,#1d1d60,#191954,#17174c,#141444,#131340,#12123c,#12123c,#12123c,#131340,#141444,#161648,#181850,#1c1c5c,#1f1f68,#242478,#2a2686,#322694,#3b26a2,#4426b2,#5227bb,#6c2ca5,#87308f,#aa3570,#d43a4c,#fd4028,#f45b16,#ea7506,#e68f06,#e6a710,#e6bd18,#e6c932,#e6d149,#e6d85c,#e6dc66,#e6dd69,#e6dc66,#e6d95f,#e6d34f,#e6cb39,#e6c01c,#e6ad12,#e69508,#e77b03,#f26112,#fc4722,#dd3c44,#b43668,#8e3189,#712ca1,#5928b5,#4726b6,#3c26a4,#342696,#2c268a,#262680)"></div>
<div style="height:2px;background:linear-gradient(90deg,#222270,#1d1d60,#191954,#17174c,#161648,#131340,#131340,#12123c,#12123c,#131340,#141444,#161648,#181850,#1c1c5c,#20206c,#25257c,#2b2688,#342696,#3c26a4,#4626b4,#5728b7,#712ca1,#8e3189,#b43668,#dd3c44,#fc4722,#f16311,#e67f00,#e6990a,#e6b114,#e6c426,#e6cf42,#e6d85c,#e6de6c,#e6e379,#e6e47c,#e6e379,#e6df6f,#e6d95f,#e6d149,#e6c62c,#e6b716,#e69f0c,#e68502,#ef690e,#fa4d1e,#e73d3b,#bd3860,#953283,#782e9b,#5e29b1,#4926ba,#3e26a8,#352698,#2e268c,#262680)"></div>
<div style="height:2px;background:linear-gradient(90deg,#222270,#1e1e64,#1a1a58,#17174c,#161648,#141444,#131340,#12123c,#12123c,#131340,#141444,#161648,#191954,#1c1c5c,#20206c,#262680,#2c268a,#352698,#3d26a6,#4826b8,#5c29b3,#762d9d,#933285,#ba3762,#e73d3b,#fa4d1e,#ee6b0c,#e68703,#e6a10d,#e6bb18,#e6ca36,#e6d552,#e6de6c,#e6e47c,#e8e88b,#e9e98f,#e8e88b,#e6e57f,#e6df6f,#e6d759,#e6cc3c,#e6bf19,#e6a710,#e68d05,#eb7109,#f7551a,#f13e33,#c73957,#9a337e,#7d2e97,#602aaf,#4a26bc,#4026aa,#36269a,#2e268c,#282682)"></div>
<div style="height:2px;background:linear-gradient(90deg,#232374,#1e1e64,#1a1a58,#181850,#161648,#141444,#131340,#12123c,#131340,#131340,#141444,#17174c,#191954,#1c1c5c,#20206c,#262680,#2e268c,#352698,#3e26a8,#4926ba,#5e29b1,#7b2e99,#973381,#c4385a,#f13e33,#f7551a,#eb7109,#e68f06,#e6a910,#e6c11f,#e6cf42,#e6db62,#e6e379,#e9e98f,#ecec9f,#ededa3,#ecec9f,#e9e993,#e6e57f,#e6dd69,#e6d24c,#e6c529,#e6af13,#e69508,#e87904,#f45b16,#fa3f2a,#cd3a52,#a13479,#822f93,#652aab,#4c26be,#4126ac,#37269c,#2f268e,#292684)"></div>
<div style="height:2px;background:linear-gradient(90deg,#232374,#1e1e64,#1a1a58,#181850,#161648,#141444,#131340,#12123c,#131340,#131340,#141444,#17174c,#191954,#1d1d60,#222270,#282682,#2e268c,#36269a,#4026aa,#4a26bc,#632aad,#802f95,#9d347c,#ca3954,#fa3f2a,#f45b16,#e97705,#e69508,#e6b114,#e6c62c,#e6d34f,#e6df6f,#e8e88b,#ecec9f,#efefaf,#f0f0b3,#efefaf,#ededa3,#e9e98f,#e6e276,#e6d759,#e6ca36,#e6b716,#e69b0b,#e67f00,#f26112,#fe4324,#d73b49,#aa3570,#87308f,#6a2ba7,#5027bd,#4226ae,#38269e,#302690,#292684)"></div>
<div style="height:2px;background:linear-gradient(90deg,#242478,#1f1f68,#1c1c5c,#181850,#161648,#141444,#131340,#12123c,#12123c,#131340,#141444,#17174c,#191954,#1d1d60,#222270,#282682,#2f268e,#37269c,#4126ac,#4d26bf,#652aab,#822f93,#a43476,#d13a4f,#ff4126,#f35f14,#e77d02,#e69b0b,#e6b917,#e6cb39,#e6d85c,#e6e47c,#ebeb9b,#efefaf,#f2f2bf,#f3f3c3,#f2f2bf,#f0f0b3,#ecec9f,#e6e683,#e6dc66,#e6cd3f,#e6bf19,#e6a30e,#e68502,#ef670f,#fb4921,#dd3c44,#b1366b,#89308d,#6c2ca5,#5227bb,#4326b0,#3a26a0,#312692,#2a2686)"></div>
<div style="height:2px;background:linear-gradient(90deg,#242478,#1f1f68,#1c1c5c,#181850,#17174c,#141444,#131340,#12123c,#12123c,#131340,#141444,#161648,#191954,#1d1d60,#222270,#282682,#302690,#38269e,#4226ae,#5027bd,#6a2ba7,#87308f,#aa3570,#d73b49,#fd4523,#f06510,#e68301,#e6a10d,#e6bf19,#e6cf42,#e6dd69,#e7e787,#ededa7,#f2f2bf,#f5f5cf,#f6f6d3,#f5f5cf,#f3f3c3,#efefaf,#e9e98f,#e6df6f,#e6d24c,#e6c322,#e6a910,#e68b05,#ee6b0c,#fa4d1e,#e43c3e,#b43668,#8e3189,#6f2ca3,#5428b9,#4426b2,#3b26a2,#312692,#2a2686)"></div>
<div style="height:2px;background:linear-gradient(90deg,#242478,#1f1f68,#1c1c5c,#191954,#17174c,#141444,#131340,#12123c,#12123c,#131340,#141444,#161648,#181850,#1c1c5c,#222270,#282682,#302690,#38269e,#4326b0,#5227bb,#6c2ca5,#89308d,#b1366b,#dd3c44,#fb4921,#ef690e,#e68904,#e6a710,#e6c11f,#e6d24c,#e6e172,#eaea97,#f0f0b3,#f5f5cb,#f8f8db,#f9f9df,#f8f8db,#f5f5cf,#f1f1bb,#ecec9f,#e6e379,#e6d656,#e6c62c,#e6ad12,#e68f06,#eb7109,#f8511c,#ea3d38,#ba3762,#903287,#712ca1,#5728b7,#4626b4,#3b26a2,#322694,#2b2688)"></div>
<div style="height:2px;background:linear-gradient(90deg,#25257c,#20206c,#1c1c5c,#191954,#17174c,#141444,#131340,#12123c,#12123c,#12123c,#131340,#161648,#181850,#1c1c5c,#222270,#292684,#302690,#3a26a0,#4426b2,#5227bb,#6f2ca3,#8b318b,#b43668,#e43c3e,#fa4d1e,#ed6d0b,#e68d05,#e6ab11,#e6c529,#e6d552,#e6e379,#ecec9f,#f2f2bf,#f7f7d7,#f9f9e3,#fbfbeb,#fafae7,#f8f8db,#f4f4c7,#ededa7,#e6e683,#e6d85c,#e6c932,#e6b314,#e69308,#ea7506,#f7551a,#ed3e36,#bd3860,#933285,#732d9f,#5928b5,#4726b6,#3c26a4,#322694,#2b2688)"></div>
<div style="height:2px;background:linear-gradient(90deg,#25257c,#20206c,#1c1c5c,#191954,#17174c,#141444,#131340,#12123c,#111138,#12123c,#131340,#141444,#17174c,#1c1c5c,#20206c,#292684,#312692,#3a26a0,#4426b2,#5428b9,#712ca1,#8e3189,#b73765,#e73d3b,#f8511c,#eb7109,#e69107,#e6af13,#e6c72f,#e6d759,#e6e57f,#ededa7,#f4f4c7,#f9f9df,#fbfbeb,#fdfdf3,#fcfcef,#f9f9e3,#f5f5cf,#efefaf,#e8e88b,#e6db62,#e6cb39,#e6b716,#e69709,#e97705,#f65718,#f43e30,#c1385d,#953283,#762d9d,#5c29b3,#4726b6,#3c26a4,#342696,#2b2688)"></div>
<div style="height:2px;background:linear-gradient(90deg,#25257c,#20206c,#1d1d60,#191954,#17174c,#141444,#12123c,#111138,#111138,#111138,#12123c,#141444,#17174c,#1a1a58,#20206c,#292684,#312692,#3b26a2,#4626b4,#5728b7,#712ca1,#903287,#ba3762,#ea3d38,#f7531b,#eb7308,#e69308,#e6b314,#e6ca36,#e6d95f,#e7e787,#efefaf,#f5f5cf,#fafae7,#fdfdf3,#fdfdf7,#fdfdf7,#fbfbeb,#f7f7d7,#f1f1b7,#e9e993,#e6dd69,#e6cd3f,#e6b917,#e69b0b,#e77b03,#f55917,#f73f2d,#c4385a,#973381,#782e9b,#5c29b3,#4826b8,#3d26a6,#342696,#2c268a)"></div>
<div style="height:2px;background:linear-gradient(90deg,#25257c,#20206c,#1d1d60,#191954,#17174c,#141444,#12123c,#111138,#101034,#111138,#111138,#131340,#161648,#191954,#1f1f68,#282682,#312692,#3b26a2,#4626b4,#5728b7,#732d9f,#933285,#bd3860,#ed3e36,#f7551a,#ea7506,#e69508,#e6b515,#e6cb39,#e6dc66,#e9e98f,#f1f1b7,#f7f7d7,#fbfbeb,#fdfdf7,#ffffff,#fefefb,#fcfcef,#f8f8db,#f2f2bf,#eaea97,#e6df6f,#e6cf42,#e6bb18,#e69d0c,#e77d02,#f45b16,#f73f2d,#c73957,#9a337e,#7b2e99,#5e29b1,#4826b8,#3d26a6,#342696,#2c268a)"></div>
<div style="height:2px;background:linear-gradient(90deg,#262680,#20206c,#1d1d60,#191954,#17174c,#141444,#12123c,#101034,#0e0e30,#101034,#111138,#12123c,#141444,#181850,#1f1f68,#282682,#312692,#3b26a2,#4626b4,#5728b7,#732d9f,#933285,#bd3860,#ed3e36,#f7551a,#e97705,#e69709,#e6b716,#e6cc3c,#e6dc66,#e9e993,#f1f1bb,#f7f7d7,#fcfcef,#fefefb,#ffffff,#ffffff,#fdfdf3,#f9f9df,#f3f3c3,#ebeb9b,#e6df6f,#e6d046,#e6bd18,#e69f0c,#e77d02,#f35d15,#fa3f2a,#ca3954,#9a337e,#7b2e99,#5e29b1,#4826b8,#3d26a6,#342696,#2c268a)"></div>
<div style="height:2px;background:linear-gradient(90deg,#262680,#20206c,#1d1d60,#191954,#17174c,#141444,#111138,#0e0e30,#0e0e30,#0e0e30,#101034,#111138,#131340,#17174c,#1e1e64,#282682,#312692,#3b26a2,#4626b4,#5928b5,#732d9f,#933285,#bd3860,#f13e33,#f65718,#e97705,#e69709,#e6b716,#e6cc3c,#e6dd69,#e9e993,#f1f1bb,#f8f8db,#fcfcef,#ffffff,#ffffff,#ffffff,#fdfdf3,#f9f9df,#f3f3c3,#ecec9f,#e6e172,#e6d149,#e6bf19,#e69f0c,#e67f00,#f35d15,#fa3f2a,#ca3954,#9a337e,#7b2e99,#5e29b1,#4926ba,#3d26a6,#352698,#2c268a)"></div>
<div style="height:2px;background:linear-gradient(90deg,#262680,#20206c,#1d1d60,#191954,#17174c,#141444,#111138,#0e0e30,#0d0d2c,#0d0d2c,#0e0e30,#101034,#111138,#161648,#1d1d60,#262680,#312692,#3b26a2,#4626b4,#5928b5,#732d9f,#933285,#c1385d,#f13e33,#f65718,#e97705,#e69709,#e6b716,#e6cc3c,#e6dd69,#e9e993,#f1f1bb,#f8f8db,#fdfdf3,#ffffff,#ffffff,#ffffff,#fdfdf3,#f9f9e3,#f3f3c3,#ecec9f,#e6e172,#e6d149,#e6bf19,#e69f0c,#e67f00,#f35d15,#fa3f2a,#ca3954,#9d347c,#7b2e99,#5e29b1,#4926ba,#3d26a6,#352698,#2c268a)"></div>
<div style="height:2px;background:linear-gradient(90deg,#262680,#20206c,#1d1d60,#191954,#17174c,#141444,#101034,#0d0d2c,#0c0c28,#0c0c28,#0c0c28,#0d0d2c,#101034,#131340,#1c1c5c,#262680,#312692,#3b26a2,#4626b4,#5928b5,#732d9f,#933285,#bd3860,#f13e33,#f7551a,#e97705,#e69709,#e6b716,#e6cc3c,#e6dd69,#e9e993,#f1f1bb,#f8f8db,#fcfcef,#fefefb,#ffffff,#ffffff,#fdfdf3,#f9f9df,#f3f3c3,#ebeb9b,#e6e172,#e6d046,#e6bf19,#e69f0c,#e67f00,#f35d15,#fa3f2a,#ca3954,#9a337e,#7b2e99,#5e29b1,#4926ba,#3d26a6,#352698,#2c268a)"></div>
<div style="height:2px;background:linear-gradient(90deg,#25257c,#20206c,#1d1d60,#191954,#17174c,#131340,#101034,#0c0c28,#0b0b24,#0b0b24,#0b0b24,#0c0c28,#0e0e30,#12123c,#1a1a58,#25257c,#312692,#3b26a2,#4626b4,#5728b7,#732d9f,#933285,#bd3860,#ed3e36,#f7551a,#ea7506,#e69508,#e6b515,#e6cb39,#e6dc66,#e9e98f,#f1f1b7,#f7f7d7,#fbfbeb,#fefefb,#ffffff,#fefefb,#fcfcef,#f8f8db,#f2f2bf,#ebeb9b,#e6df6f,#e6d046,#e6bd18,#e69d0c,#e77d02,#f35d15,#fa3f2a,#c73957,#9a337e,#7b2e99,#5e29b1,#4826b8,#3d26a6,#342696,#2c268a)"></div>
<div style="height:2px;background:linear-gradient(90deg,#25257c,#20206c,#1d1d60,#191954,#17174c,#131340,#0e0e30,#0b0b24,#0a0a20,#0a0a20,#0a0a20,#0b0b24,#0d0d2c,#111138,#191954,#242478,#302690,#3b26a2,#4626b4,#5728b7,#712ca1,#903287,#ba3762,#ea3d38,#f7531b,#eb7308,#e69308,#e6b314,#e6ca36,#e6db62,#e8e88b,#f0f0b3,#f6f6d3,#fafae7,#fdfdf7,#fefefb,#fdfdf7,#fbfbeb,#f7f7d7,#f1f1bb,#e9e993,#e6de6c,#e6cd3f,#e6bb18,#e69b0b,#e77b03,#f45b16,#f73f2d,#c73957,#973381,#782e9b,#5c29b3,#4826b8,#3d26a6,#342696,#2c268a)"></div>
<div style="height:2px;background:linear-gradient(90deg,#25257c,#20206c,#1d1d60,#191954,#17174c,#131340,#0e0e30,#0b0b24,#08081c,#08081c,#08081c,#0a0a20,#0b0b24,#101034,#181850,#242478,#302690,#3a26a0,#4426b2,#5428b9,#712ca1,#903287,#b73765,#e73d3b,#f8511c,#eb7109,#e69107,#e6b114,#e6c932,#e6d85c,#e6e683,#eeeeab,#f5f5cb,#f9f9e3,#fcfcef,#fdfdf3,#fdfdf3,#fafae7,#f6f6d3,#f0f0b3,#e9e98f,#e6dc66,#e6cc3c,#e6b716,#e6990a,#e87904,#f55917,#f43e30,#c4385a,#973381,#782e9b,#5c29b3,#4826b8,#3d26a6,#342696,#2b2688)"></div>
<div style="height:2px;background:linear-gradient(90deg,#25257c,#20206c,#1c1c5c,#191954,#17174c,#131340,#0e0e30,#0a0a20,#070718,#070718,#070718,#08081c,#0a0a20,#0e0e30,#17174c,#232374,#2f268e,#3a26a0,#4426b2,#5428b9,#6f2ca3,#8e3189,#b43668,#e43c3e,#f94f1d,#ec6f0a,#e68f06,#e6ad12,#e6c62c,#e6d656,#e6e47c,#ededa3,#f3f3c3,#f8f8db,#fafae7,#fbfbeb,#fbfbeb,#f9f9df,#f5f5cb,#eeeeab,#e7e787,#e6d95f,#e6ca36,#e6b515,#e69508,#ea7506,#f7551a,#f13e33,#c1385d,#953283,#762d9d,#5928b5,#4726b6,#3c26a4,#322694,#2b2688)"></div>
<div style="height:2px;background:linear-gradient(90deg,#25257c,#1f1f68,#1c1c5c,#191954,#161648,#12123c,#0d0d2c,#08081c,#070718,#060614,#070718,#070718,#08081c,#0d0d2c,#161648,#232374,#2f268e,#3a26a0,#4326b0,#5227bb,#6c2ca5,#8b318b,#b1366b,#e13c41,#fb4b20,#ee6b0c,#e68b05,#e6a910,#e6c322,#e6d34f,#e6e276,#ebeb9b,#f1f1bb,#f5f5cf,#f9f9df,#f9f9e3,#f9f9df,#f6f6d3,#f2f2bf,#ededa3,#e6e47c,#e6d759,#e6c72f,#e6af13,#e69107,#eb7109,#f7531b,#ea3d38,#ba3762,#933285,#732d9f,#5728b7,#4626b4,#3c26a4,#322694,#2b2688)"></div>
<div style="height:2px;background:linear-gradient(90deg,#242478,#1f1f68,#1c1c5c,#181850,#161648,#12123c,#0d0d2c,#08081c,#060614,#060614,#060614,#060614,#08081c,#0c0c28,#141444,#222270,#2e268c,#38269e,#4226ae,#5027bd,#6a2ba7,#87308f,#ad366e,#da3b46,#fc4722,#ef670f,#e68502,#e6a30e,#e6c01c,#e6d046,#e6de6c,#e9e98f,#efefaf,#f3f3c3,#f6f6d3,#f7f7d7,#f6f6d3,#f4f4c7,#f0f0b3,#eaea97,#e6e172,#e6d34f,#e6c426,#e6ab11,#e68d05,#ed6d0b,#f94f1d,#e73d3b,#b73765,#8e3189,#712ca1,#5428b9,#4626b4,#3b26a2,#312692,#2a2686)"></div>
<div style="height:2px;background:linear-gradient(90deg,#242478,#1f1f68,#1c1c5c,#181850,#161648,#12123c,#0c0c28,#08081c,#060614,#050510,#050510,#060614,#070718,#0b0b24,#131340,#20206c,#2e268c,#37269c,#4226ae,#4d26bf,#682ba9,#843091,#a73573,#d43a4c,#fe4324,#f26112,#e68100,#e69f0c,#e6bb18,#e6cc3c,#e6db62,#e6e57f,#ecec9f,#f1f1b7,#f3f3c3,#f5f5cb,#f4f4c7,#f1f1bb,#ededa7,#e7e787,#e6dd69,#e6d046,#e6c01c,#e6a50f,#e68703,#ef690e,#fb4b20,#e13c41,#b1366b,#8b318b,#6f2ca3,#5227bb,#4426b2,#3a26a0,#312692,#2a2686)"></div>
<div style="height:2px;background:linear-gradient(90deg,#232374,#1f1f68,#1a1a58,#181850,#161648,#12123c,#0c0c28,#070718,#050510,#050510,#050510,#050510,#060614,#0a0a20,#131340,#20206c,#2c268a,#36269a,#4126ac,#4c26be,#652aab,#802f95,#a13479,#cd3a52,#fd4028,#f35d15,#e77b03,#e69709,#e6b314,#e6c72f,#e6d656,#e6e276,#e9e98f,#ededa7,#f1f1b7,#f1f1bb,#f1f1b7,#eeeeab,#eaea97,#e6e47c,#e6d85c,#e6cb39,#e6bb18,#e69f0c,#e68100,#f16311,#fd4523,#d73b49,#aa3570,#87308f,#6a2ba7,#5027bd,#4326b0,#38269e,#302690,#292684)"></div>
<div style="height:2px;background:linear-gradient(90deg,#232374,#1e1e64,#1a1a58,#181850,#161648,#12123c,#0c0c28,#070718,#050510,#04040c,#04040c,#050510,#060614,#0a0a20,#12123c,#1f1f68,#2c268a,#36269a,#4026aa,#4a26bc,#602aaf,#7d2e97,#9a337e,#c73957,#f43e30,#f65718,#ea7506,#e69107,#e6ad12,#e6c322,#e6d149,#e6dc66,#e6e57f,#eaea97,#ededa3,#eeeeab,#ededa7,#ebeb9b,#e7e787,#e6de6c,#e6d34f,#e6c62c,#e6b314,#e69709,#e77b03,#f35d15,#fd4028,#d13a4f,#a43476,#822f93,#682ba9,#4d26bf,#4226ae,#37269c,#302690,#292684)"></div>
<div style="height:2px;background:linear-gradient(90deg,#232374,#1e1e64,#1a1a58,#181850,#141444,#111138,#0c0c28,#070718,#050510,#04040c,#04040c,#050510,#050510,#08081c,#12123c,#1f1f68,#2b2688,#352698,#3e26a8,#4826b8,#5e29b1,#782e9b,#953283,#bd3860,#ea3d38,#f8511c,#ed6d0b,#e68904,#e6a50f,#e6bd18,#e6cb39,#e6d759,#e6e172,#e6e683,#e9e993,#eaea97,#e9e993,#e7e787,#e6e276,#e6d95f,#e6cf42,#e6c11f,#e6ab11,#e69107,#eb7308,#f65718,#f73f2d,#ca3954,#9d347c,#802f95,#632aad,#4c26be,#4026aa,#37269c,#2f268e,#282682)"></div>
<div style="height:2px;background:linear-gradient(90deg,#222270,#1d1d60,#191954,#17174c,#141444,#111138,#0b0b24,#060614,#04040c,#04040c,#04040c,#04040c,#050510,#08081c,#111138,#1e1e64,#2a2686,#342696,#3c26a4,#4726b6,#5928b5,#732d9f,#903287,#b73765,#e13c41,#fb4921,#f06510,#e68100,#e69d0c,#e6b515,#e6c62c,#e6d149,#e6db62,#e6e172,#e6e57f,#e6e683,#e6e57f,#e6e276,#e6dc66,#e6d34f,#e6c932,#e6b917,#e6a10d,#e68703,#ed6d0b,#f8511c,#ed3e36,#c1385d,#973381,#7b2e99,#5e29b1,#4926ba,#3e26a8,#36269a,#2e268c,#262680)"></div>
<div style="height:2px;background:linear-gradient(90deg,#20206c,#1d1d60,#191954,#17174c,#141444,#111138,#0b0b24,#060614,#04040c,#04040c,#04040c,#04040c,#050510,#08081c,#111138,#1d1d60,#292684,#322694,#3b26a2,#4626b4,#5428b9,#6f2ca3,#89308d,#ad366e,#d73b49,#fe4324,#f35f14,#e87904,#e69308,#e6ab11,#e6c01c,#e6cb39,#e6d34f,#e6db62,#e6de6c,#e6e172,#e6df6f,#e6dc66,#e6d656,#e6cd3f,#e6c322,#e6b114,#e6990a,#e67f00,#f06510,#fb4921,#e13c41,#b73765,#903287,#732d9f,#5928b5,#4826b8,#3d26a6,#352698,#2c268a,#262680)"></div>
<div style="height:2px;background:linear-gradient(90deg,#20206c,#1c1c5c,#191954,#17174c,#141444,#111138,#0b0b24,#060614,#04040c,#020208,#04040c,#04040c,#050510,#070718,#101034,#1d1d60,#282682,#312692,#3a26a0,#4326b0,#5027bd,#6a2ba7,#843091,#a43476,#cd3a52,#f73f2d,#f65718,#eb7109,#e68904,#e6a10d,#e6b515,#e6c426,#e6cd3f,#e6d34f,#e6d759,#e6d95f,#e6d85c,#e6d552,#e6cf42,#e6c62c,#e6bb18,#e6a710,#e68f06,#e97705,#f35d15,#ff4126,#d73b49,#ad366e,#8b318b,#6f2ca3,#5728b7,#4626b4,#3c26a4,#322694,#2b2688,#25257c)"></div>
<div style="height:2px;background:linear-gradient(90deg,#1f1f68,#1c1c5c,#181850,#161648,#131340,#101034,#0b0b24,#060614,#04040c,#020208,#020208,#04040c,#04040c,#070718,#101034,#1c1c5c,#282682,#302690,#38269e,#4126ac,#4c26be,#632aad,#7d2e97,#9a337e,#c4385a,#ea3d38,#fa4d1e,#ef670f,#e67f00,#e69709,#e6ab11,#e6bd18,#e6c62c,#e6cc3c,#e6d046,#e6d24c,#e6d149,#e6cd3f,#e6c72f,#e6bf19,#e6af13,#e69b0b,#e68502,#ed6d0b,#f7531b,#f43e30,#ca3954,#a43476,#843091,#6a2ba7,#5227bb,#4326b0,#3a26a0,#312692,#2a2686,#242478)"></div>
<div style="height:2px;background:linear-gradient(90deg,#1f1f68,#1a1a58,#181850,#161648,#131340,#101034,#0b0b24,#060614,#04040c,#020208,#020208,#020208,#04040c,#070718,#101034,#1a1a58,#262680,#2f268e,#36269a,#4026aa,#4926ba,#5e29b1,#782e9b,#933285,#b73765,#dd3c44,#fd4523,#f35d15,#ea7506,#e68b05,#e69f0c,#e6b114,#e6bf19,#e6c529,#e6c932,#e6ca36,#e6c932,#e6c62c,#e6c01c,#e6b314,#e6a30e,#e69107,#e77b03,#f16311,#fb4b20,#e73d3b,#c1385d,#9a337e,#7d2e97,#632aad,#4d26bf,#4226ae,#38269e,#302690,#292684,#242478)"></div>
<div style="height:2px;background:linear-gradient(90deg,#1e1e64,#1a1a58,#17174c,#161648,#131340,#101034,#0b0b24,#060614,#04040c,#020208,#020208,#020208,#04040c,#070718,#0e0e30,#1a1a58,#25257c,#2c268a,#352698,#3d26a6,#4726b6,#5928b5,#712ca1,#8b318b,#aa3570,#d13a4f,#f73f2d,#f7531b,#ee6b0c,#e68100,#e69308,#e6a50f,#e6b114,#e6bb18,#e6c01c,#e6c322,#e6c11f,#e6bd18,#e6b515,#e6a710,#e69709,#e68502,#ec6f0a,#f55917,#ff4126,#da3b46,#b43668,#903287,#762d9d,#5e29b1,#4926ba,#4026aa,#36269a,#2f268e,#282682,#232374)"></div>
<div style="height:2px;background:linear-gradient(90deg,#1d1d60,#191954,#17174c,#141444,#12123c,#101034,#0a0a20,#050510,#020208,#020208,#020208,#020208,#04040c,#070718,#0e0e30,#191954,#242478,#2b2688,#322694,#3b26a2,#4426b2,#5227bb,#6a2ba7,#843091,#a13479,#c4385a,#ea3d38,#fb4921,#f35f14,#ea7506,#e68703,#e69709,#e6a50f,#e6af13,#e6b515,#e6b716,#e6b515,#e6af13,#e6a710,#e69b0b,#e68b05,#e87904,#f06510,#f94f1d,#f43e30,#cd3a52,#a73573,#89308d,#6f2ca3,#5728b7,#4726b6,#3d26a6,#352698,#2e268c,#262680,#222270)"></div>
<div style="height:2px;background:linear-gradient(90deg,#1d1d60,#191954,#17174c,#141444,#12123c,#0e0e30,#0a0a20,#050510,#020208,#020208,#020208,#020208,#04040c,#060614,#0e0e30,#191954,#232374,#2a2686,#312692,#3a26a0,#4226ae,#4d26bf,#632aad,#7b2e99,#953283,#b73765,#da3b46,#fd4028,#f7551a,#ef690e,#e77b03,#e68b05,#e69709,#e6a10d,#e6a710,#e6a910,#e6a710,#e6a10d,#e6990a,#e68d05,#e67f00,#ed6d0b,#f55917,#fd4523,#e43c3e,#c1385d,#9a337e,#822f93,#682ba9,#5227bb,#4426b2,#3b26a2,#322694,#2b2688,#25257c,#20206c)"></div>
<div style="height:2px;background:linear-gradient(90deg,#1c1c5c,#181850,#161648,#131340,#12123c,#0e0e30,#0a0a20,#050510,#020208,#020208,#020208,#020208,#04040c,#060614,#0d0d2c,#181850,#222270,#292684,#302690,#37269c,#4026aa,#4926ba,#5c29b3,#732d9f,#8b318b,#aa3570,#ca3954,#ed3e36,#fb4921,#f35d15,#ec6f0a,#e77d02,#e68904,#e69308,#e6990a,#e69b0b,#e6990a,#e69308,#e68b05,#e68100,#eb7109,#f26112,#f94f1d,#f73f2d,#d43a4c,#b1366b,#933285,#782e9b,#602aaf,#4c26be,#4226ae,#3a26a0,#312692,#2a2686,#242478,#1f1f68)"></div>
<div style="height:2px;background:linear-gradient(90deg,#1a1a58,#181850,#161648,#131340,#12123c,#0e0e30,#0a0a20,#050510,#020208,#020208,#020208,#020208,#04040c,#060614,#0d0d2c,#17174c,#20206c,#282682,#2e268c,#352698,#3d26a6,#4726b6,#5428b9,#6c2ca5,#822f93,#9a337e,#bd3860,#dd3c44,#fd4028,#f8511c,#f26112,#ec6f0a,#e77b03,#e68502,#e68904,#e68b05,#e68b05,#e68502,#e77d02,#eb7308,#f06510,#f7551a,#fe4324,#e43c3e,#c4385a,#a43476,#89308d,#712ca1,#5928b5,#4926ba,#4026aa,#37269c,#2f268e,#292684,#232374,#1e1e64)"></div>
<div style="height:2px;background:linear-gradient(90deg,#1a1a58,#17174c,#141444,#131340,#111138,#0e0e30,#0a0a20,#050510,#020208,#020208,#020208,#020208,#04040c,#060614,#0c0c28,#17174c,#1f1f68,#262680,#2c268a,#322694,#3b26a2,#4326b0,#4d26bf,#632aad,#7b2e99,#903287,#ad366e,#cd3a52,#ea3d38,#fd4523,#f7551a,#f16311,#ed6d0b,#ea7506,#e77b03,#e77d02,#e77b03,#e97705,#ec6f0a,#f06510,#f65718,#fb4921,#f13e33,#d43a4c,#b43668,#953283,#802f95,#682ba9,#5227bb,#4626b4,#3d26a6,#352698,#2e268c,#282682,#222270,#1e1e64)"></div>
<div style="height:2px;background:linear-gradient(90deg,#191954,#17174c,#141444,#12123c,#111138,#0d0d2c,#0a0a20,#050510,#020208,#020208,#020208,#020208,#020208,#060614,#0c0c28,#161648,#1e1e64,#242478,#2a2686,#312692,#38269e,#4126ac,#4a26bc,#5c29b3,#712ca1,#87308f,#9d347c,#ba3762,#d73b49,#f43e30,#fc4722,#f7551a,#f35f14,#ef670f,#ed6d0b,#ec6f0a,#ed6d0b,#ef690e,#f26112,#f65718,#fb4b20,#fa3f2a,#dd3c44,#c4385a,#a43476,#8b318b,#762d9d,#602aaf,#4d26bf,#4326b0,#3a26a0,#322694,#2b2688,#25257c,#20206c,#1d1d60)"></div>
<div style="height:2px;background:linear-gradient(90deg,#181850,#161648,#131340,#12123c,#111138,#0d0d2c,#08081c,#050510,#020208,#020208,#020208,#020208,#020208,#060614,#0c0c28,#141444,#1d1d60,#232374,#292684,#2f268e,#36269a,#3e26a8,#4726b6,#5428b9,#682ba9,#7d2e97,#933285,#aa3570,#c73957,#e13c41,#f73f2d,#fc4722,#f8511c,#f55917,#f35f14,#f35f14,#f35f14,#f45b16,#f7531b,#fb4b20,#fd4028,#e73d3b,#cd3a52,#b1366b,#973381,#822f93,#6c2ca5,#5928b5,#4926ba,#4026aa,#37269c,#302690,#2a2686,#242478,#1f1f68,#1c1c5c)"></div>
<div style="height:2px;background:linear-gradient(90deg,#181850,#141444,#131340,#12123c,#101034,#0d0d2c,#08081c,#050510,#020208,#020208,#020208,#020208,#020208,#050510,#0b0b24,#141444,#1c1c5c,#222270,#262680,#2c268a,#342696,#3b26a2,#4326b0,#4c26be,#5e29b1,#732d9f,#87308f,#9a337e,#b43668,#cd3a52,#e43c3e,#f73f2d,#fe4324,#fb4b20,#f94f1d,#f8511c,#f8511c,#fa4d1e,#fd4523,#fa3f2a,#e73d3b,#d13a4f,#ba3762,#a13479,#8b318b,#782e9b,#632aad,#5027bd,#4626b4,#3d26a6,#352698,#2f268e,#282682,#232374,#1e1e64,#1a1a58)"></div>
<div style="height:2px;background:linear-gradient(90deg,#17174c,#141444,#12123c,#111138,#101034,#0d0d2c,#08081c,#050510,#020208,#020208,#020208,#020208,#020208,#050510,#0b0b24,#131340,#1c1c5c,#20206c,#25257c,#2b2688,#312692,#38269e,#4026aa,#4826b8,#5728b7,#6a2ba7,#7b2e99,#8e3189,#a43476,#ba3762,#cd3a52,#e13c41,#f13e33,#fa3f2a,#ff4126,#fe4324,#fe4324,#fd4028,#f43e30,#e43c3e,#d43a4c,#c1385d,#aa3570,#933285,#802f95,#6c2ca5,#5c29b3,#4a26bc,#4226ae,#3a26a0,#322694,#2c268a,#262680,#222270,#1d1d60,#191954)"></div>
<div style="height:2px;background:linear-gradient(90deg,#161648,#131340,#12123c,#111138,#101034,#0c0c28,#08081c,#050510,#020208,#010104,#010104,#020208,#020208,#050510,#0b0b24,#131340,#1a1a58,#1f1f68,#242478,#292684,#2f268e,#352698,#3d26a6,#4426b2,#4d26bf,#602aaf,#712ca1,#822f93,#933285,#a73573,#ba3762,#cd3a52,#da3b46,#e43c3e,#ea3d38,#ed3e36,#ed3e36,#e73d3b,#dd3c44,#d13a4f,#c1385d,#ad366e,#973381,#87308f,#762d9d,#632aad,#5227bb,#4726b6,#3e26a8,#37269c,#302690,#2a2686,#25257c,#20206c,#1c1c5c,#191954)"></div>
<div style="height:2px;background:linear-gradient(90deg,#161648,#131340,#111138,#101034,#0e0e30,#0c0c28,#08081c,#04040c,#020208,#010104,#010104,#020208,#020208,#050510,#0b0b24,#12123c,#191954,#1e1e64,#222270,#262680,#2c268a,#322694,#3a26a0,#4126ac,#4926ba,#5728b7,#682ba9,#782e9b,#87308f,#973381,#a73573,#b73765,#c4385a,#d13a4f,#d43a4c,#d73b49,#d73b49,#d13a4f,#c73957,#ba3762,#ad366e,#9a337e,#8b318b,#7b2e99,#6a2ba7,#5928b5,#4a26bc,#4326b0,#3b26a2,#352698,#2e268c,#282682,#232374,#1f1f68,#1a1a58,#181850)"></div>
<div style="height:2px;background:linear-gradient(90deg,#141444,#12123c,#111138,#101034,#0e0e30,#0c0c28,#08081c,#04040c,#020208,#010104,#010104,#020208,#020208,#050510,#0a0a20,#12123c,#181850,#1d1d60,#20206c,#25257c,#2a2686,#302690,#36269a,#3d26a6,#4426b2,#4d26bf,#5c29b3,#6c2ca5,#7b2e99,#89308d,#973381,#a43476,#b1366b,#ba3762,#c1385d,#c4385a,#c1385d,#bd3860,#b43668,#a73573,#9a337e,#8b318b,#802f95,#6f2ca3,#602aaf,#5027bd,#4726b6,#4026aa,#38269e,#312692,#2b2688,#262680,#222270,#1d1d60,#1a1a58,#17174c)"></div>
<div style="height:2px;background:linear-gradient(90deg,#131340,#12123c,#111138,#101034,#0e0e30,#0c0c28,#070718,#04040c,#020208,#010104,#010104,#010104,#020208,#050510,#0a0a20,#111138,#17174c,#1c1c5c,#1f1f68,#232374,#282682,#2e268c,#342696,#3a26a0,#4126ac,#4826b8,#5227bb,#602aaf,#6f2ca3,#7d2e97,#89308d,#933285,#9d347c,#a73573,#aa3570,#ad366e,#ad366e,#a73573,#a13479,#953283,#8b318b,#802f95,#732d9f,#652aab,#5728b7,#4a26bc,#4326b0,#3c26a4,#352698,#2f268e,#292684,#242478,#20206c,#1c1c5c,#191954,#161648)"></div>
<div style="height:2px;background:linear-gradient(90deg,#131340,#111138,#101034,#0e0e30,#0d0d2c,#0b0b24,#070718,#04040c,#020208,#010104,#010104,#010104,#020208,#050510,#0a0a20,#101034,#161648,#1a1a58,#1e1e64,#222270,#262680,#2b2688,#312692,#37269c,#3d26a6,#4426b2,#4a26bc,#5728b7,#652aab,#712ca1,#7d2e97,#87308f,#8e3189,#953283,#973381,#9a337e,#973381,#953283,#903287,#87308f,#802f95,#732d9f,#682ba9,#5928b5,#4d26bf,#4626b4,#3e26a8,#38269e,#322694,#2c268a,#282682,#232374,#1e1e64,#1a1a58,#181850,#161648)"></div>
<div style="height:2px;background:linear-gradient(90deg,#12123c,#111138,#101034,#0e0e30,#0d0d2c,#0b0b24,#070718,#04040c,#020208,#010104,#010104,#010104,#020208,#04040c,#08081c,#101034,#161648,#191954,#1c1c5c,#20206c,#242478,#292684,#2e268c,#342696,#3a26a0,#4026aa,#4726b6,#4d26bf,#5928b5,#652aab,#6f2ca3,#782e9b,#802f95,#87308f,#89308d,#8b318b,#89308d,#87308f,#822f93,#7b2e99,#712ca1,#682ba9,#5c29b3,#5027bd,#4826b8,#4226ae,#3b26a2,#352698,#302690,#2a2686,#25257c,#20206c,#1d1d60,#191954,#17174c,#141444)"></div>
<div style="height:2px;background:linear-gradient(90deg,#12123c,#101034,#0e0e30,#0e0e30,#0d0d2c,#0b0b24,#070718,#04040c,#020208,#010104,#010104,#010104,#020208,#04040c,#08081c,#0e0e30,#141444,#181850,#1a1a58,#1e1e64,#232374,#262680,#2b2688,#312692,#36269a,#3c26a4,#4226ae,#4826b8,#5027bd,#5928b5,#632aad,#6c2ca5,#732d9f,#782e9b,#7b2e99,#7d2e97,#7d2e97,#782e9b,#732d9f,#6f2ca3,#652aab,#5c29b3,#5227bb,#4926ba,#4326b0,#3d26a6,#37269c,#322694,#2c268a,#282682,#232374,#1f1f68,#1c1c5c,#181850,#161648,#131340)"></div>
<div style="height:2px;background:linear-gradient(90deg,#111138,#101034,#0e0e30,#0d0d2c,#0c0c28,#0b0b24,#070718,#04040c,#020208,#010104,#010104,#010104,#020208,#04040c,#08081c,#0e0e30,#131340,#17174c,#191954,#1d1d60,#20206c,#242478,#292684,#2e268c,#342696,#38269e,#3e26a8,#4326b0,#4926ba,#5027bd,#5928b5,#602aaf,#682ba9,#6c2ca5,#6f2ca3,#6f2ca3,#6f2ca3,#6c2ca5,#682ba9,#632aad,#5928b5,#5227bb,#4a26bc,#4426b2,#4026aa,#3a26a0,#352698,#2f268e,#2a2686,#25257c,#222270,#1e1e64,#1a1a58,#181850,#141444,#131340)"></div>
<div style="height:2px;background:linear-gradient(90deg,#111138,#101034,#0e0e30,#0d0d2c,#0c0c28,#0b0b24,#070718,#04040c,#010104,#010104,#010104,#010104,#020208,#04040c,#08081c,#0d0d2c,#131340,#161648,#181850,#1c1c5c,#1f1f68,#232374,#262680,#2b2688,#302690,#352698,#3a26a0,#4026aa,#4426b2,#4826b8,#4d26bf,#5428b9,#5c29b3,#5e29b1,#632aad,#632aad,#632aad,#602aaf,#5c29b3,#5728b7,#5027bd,#4926ba,#4626b4,#4126ac,#3b26a2,#36269a,#312692,#2c268a,#282682,#242478,#1f1f68,#1c1c5c,#191954,#17174c,#141444,#12123c)"></div>
<div style="height:2px;background:linear-gradient(90deg,#101034,#0e0e30,#0d0d2c,#0d0d2c,#0c0c28,#0a0a20,#060614,#04040c,#010104,#010104,#010104,#010104,#020208,#04040c,#070718,#0d0d2c,#12123c,#141444,#17174c,#1a1a58,#1d1d60,#20206c,#242478,#292684,#2e268c,#312692,#36269a,#3b26a2,#4026aa,#4326b0,#4826b8,#4c26be,#5027bd,#5428b9,#5728b7,#5728b7,#5728b7,#5428b9,#5027bd,#4c26be,#4826b8,#4426b2,#4126ac,#3c26a4,#37269c,#322694,#2e268c,#2a2686,#25257c,#222270,#1e1e64,#1a1a58,#181850,#161648,#131340,#111138)"></div>
<div style="height:2px;background:linear-gradient(90deg,#101034,#0e0e30,#0d0d2c,#0c0c28,#0c0c28,#0a0a20,#060614,#04040c,#010104,#010104,#010104,#010104,#010104,#04040c,#070718,#0d0d2c,#111138,#141444,#161648,#191954,#1c1c5c,#1f1f68,#232374,#262680,#2a2686,#2f268e,#322694,#37269c,#3b26a2,#4026aa,#4326b0,#4626b4,#4826b8,#4a26bc,#4c26be,#4c26be,#4c26be,#4a26bc,#4926ba,#4726b6,#4326b0,#4026aa,#3c26a4,#38269e,#342696,#302690,#2b2688,#282682,#232374,#1f1f68,#1d1d60,#191954,#17174c,#141444,#12123c,#111138)"></div>
<div style="height:2px;background:linear-gradient(90deg,#0e0e30,#0d0d2c,#0d0d2c,#0c0c28,#0b0b24,#0a0a20,#060614,#04040c,#010104,#010104,#010104,#010104,#010104,#04040c,#070718,#0c0c28,#111138,#131340,#161648,#181850,#1a1a58,#1d1d60,#20206c,#242478,#282682,#2b2688,#302690,#342696,#37269c,#3b26a2,#3e26a8,#4126ac,#4326b0,#4626b4,#4726b6,#4726b6,#4726b6,#4626b4,#4426b2,#4226ae,#3e26a8,#3c26a4,#38269e,#352698,#302690,#2c268a,#292684,#25257c,#222270,#1e1e64,#1a1a58,#181850,#161648,#131340,#12123c,#101034)"></div>
<div style="height:2px;background:linear-gradient(90deg,#0e0e30,#0d0d2c,#0c0c28,#0c0c28,#0b0b24,#0a0a20,#060614,#04040c,#010104,#010104,#010104,#010104,#010104,#04040c,#070718,#0c0c28,#101034,#12123c,#141444,#17174c,#191954,#1c1c5c,#1f1f68,#222270,#25257c,#292684,#2c268a,#302690,#342696,#37269c,#3a26a0,#3c26a4,#3e26a8,#4126ac,#4126ac,#4226ae,#4226ae,#4126ac,#4026aa,#3d26a6,#3b26a2,#37269c,#352698,#312692,#2e268c,#2a2686,#262680,#232374,#1f1f68,#1d1d60,#191954,#17174c,#141444,#131340,#111138,#101034)"></div>
<div style="height:2px;background:linear-gradient(90deg,#0e0e30,#0d0d2c,#0c0c28,#0c0c28,#0b0b24,#0a0a20,#060614,#020208,#010104,#010104,#010104,#010104,#010104,#04040c,#060614,#0c0c28,#101034,#12123c,#131340,#161648,#181850,#1a1a58,#1d1d60,#20206c,#232374,#262680,#2a2686,#2c268a,#302690,#342696,#36269a,#38269e,#3b26a2,#3c26a4,#3d26a6,#3d26a6,#3d26a6,#3c26a4,#3b26a2,#38269e,#36269a,#342696,#312692,#2e268c,#2a2686,#282682,#242478,#20206c,#1e1e64,#1a1a58,#181850,#161648,#131340,#12123c,#111138,#0e0e30)"></div>
<div style="height:2px;background:linear-gradient(90deg,#0d0d2c,#0c0c28,#0c0c28,#0b0b24,#0b0b24,#08081c,#060614,#020208,#010104,#010104,#010104,#010104,#010104,#020208,#060614,#0b0b24,#0e0e30,#111138,#12123c,#141444,#17174c,#191954,#1c1c5c,#1e1e64,#20206c,#242478,#262680,#2a2686,#2c268a,#302690,#322694,#352698,#36269a,#37269c,#38269e,#38269e,#38269e,#37269c,#36269a,#352698,#322694,#302690,#2e268c,#2b2688,#282682,#25257c,#222270,#1f1f68,#1c1c5c,#191954,#17174c,#141444,#131340,#111138,#101034,#0e0e30)"></div>
<div style="height:2px;background:linear-gradient(90deg,#0d0d2c,#0c0c28,#0c0c28,#0b0b24,#0b0b24,#08081c,#060614,#020208,#010104,#010104,#010104,#010104,#010104,#020208,#060614,#0b0b24,#0e0e30,#101034,#12123c,#131340,#161648,#17174c,#191954,#1c1c5c,#1f1f68,#222270,#242478,#282682,#2a2686,#2c268a,#2f268e,#312692,#322694,#342696,#352698,#352698,#352698,#342696,#322694,#312692,#2f268e,#2c268a,#2a2686,#282682,#25257c,#232374,#1f1f68,#1d1d60,#1a1a58,#181850,#161648,#141444,#12123c,#111138,#101034,#0e0e30)"></div>
<div style="height:2px;background:linear-gradient(90deg,#0c0c28,#0c0c28,#0b0b24,#0b0b24,#0a0a20,#08081c,#060614,#020208,#010104,#010104,#010104,#010104,#010104,#020208,#060614,#0b0b24,#0d0d2c,#101034,#111138,#12123c,#141444,#161648,#181850,#1a1a58,#1d1d60,#1f1f68,#222270,#25257c,#282682,#2a2686,#2b2688,#2e268c,#2f268e,#302690,#312692,#312692,#312692,#302690,#2f268e,#2e268c,#2c268a,#2a2686,#282682,#25257c,#232374,#20206c,#1e1e64,#1c1c5c,#191954,#17174c,#141444,#131340,#111138,#101034,#0e0e30,#0d0d2c)"></div>
<div style="height:2px;background:linear-gradient(90deg,#0c0c28,#0c0c28,#0b0b24,#0b0b24,#0a0a20,#08081c,#050510,#020208,#010104,#010104,#010104,#010104,#010104,#020208,#060614,#0a0a20,#0d0d2c,#0e0e30,#101034,#111138,#131340,#141444,#17174c,#191954,#1a1a58,#1d1d60,#1f1f68,#222270,#242478,#262680,#292684,#2a2686,#2b2688,#2c268a,#2e268c,#2e268c,#2e268c,#2c268a,#2c268a,#2b2688,#292684,#282682,#25257c,#232374,#20206c,#1e1e64,#1c1c5c,#191954,#181850,#161648,#131340,#12123c,#111138,#101034,#0e0e30,#0d0d2c)"></div>
<div style="height:2px;background:linear-gradient(90deg,#0c0c28,#0b0b24,#0b0b24,#0b0b24,#0a0a20,#08081c,#050510,#020208,#010104,#010104,#010104,#010104,#010104,#020208,#060614,#0a0a20,#0c0c28,#0d0d2c,#0e0e30,#101034,#111138,#131340,#141444,#17174c,#191954,#1c1c5c,#1e1e64,#20206c,#222270,#242478,#262680,#282682,#292684,#2a2686,#2a2686,#2a2686,#2a2686,#2a2686,#292684,#282682,#262680,#242478,#232374,#20206c,#1f1f68,#1d1d60,#1a1a58,#181850,#17174c,#141444,#131340,#111138,#101034,#0e0e30,#0d0d2c,#0d0d2c)"></div>
<div style="height:2px;background:linear-gradient(90deg,#0c0c28,#0b0b24,#0b0b24,#0a0a20,#0a0a20,#08081c,#050510,#020208,#010104,#010104,#010104,#010104,#010104,#020208,#060614,#0a0a20,#0b0b24,#0c0c28,#0d0d2c,#0e0e30,#101034,#111138,#131340,#141444,#17174c,#191954,#1c1c5c,#1e1e64,#1f1f68,#222270,#232374,#25257c,#262680,#262680,#282682,#282682,#282682,#262680,#262680,#25257c,#242478,#232374,#20206c,#1f1f68,#1d1d60,#1a1a58,#191954,#17174c,#161648,#131340,#12123c,#111138,#101034,#0e0e30,#0d0d2c,#0c0c28)"></div>
<div style="height:2px;background:linear-gradient(90deg,#0b0b24,#0b0b24,#0b0b24,#0a0a20,#0a0a20,#08081c,#050510,#020208,#010104,#010104,#010104,#010104,#010104,#020208,#050510,#0a0a20,#0a0a20,#0b0b24,#0c0c28,#0d0d2c,#0e0e30,#101034,#111138,#131340,#161648,#17174c,#191954,#1c1c5c,#1e1e64,#1f1f68,#222270,#232374,#242478,#242478,#25257c,#25257c,#25257c,#242478,#242478,#232374,#222270,#20206c,#1e1e64,#1d1d60,#1c1c5c,#191954,#181850,#161648,#141444,#131340,#111138,#101034,#0e0e30,#0d0d2c,#0d0d2c,#0c0c28)"></div>
<div style="height:2px;background:linear-gradient(90deg,#0b0b24,#0b0b24,#0a0a20,#0a0a20,#0a0a20,#070718,#050510,#020208,#010104,#010104,#010104,#010104,#010104,#020208,#050510,#08081c,#08081c,#0a0a20,#0b0b24,#0b0b24,#0c0c28,#0d0d2c,#101034,#111138,#131340,#161648,#181850,#1a1a58,#1c1c5c,#1e1e64,#1f1f68,#20206c,#222270,#222270,#232374,#232374,#232374,#222270,#222270,#20206c,#1f1f68,#1e1e64,#1d1d60,#1c1c5c,#191954,#181850,#17174c,#141444,#131340,#12123c,#111138,#101034,#0e0e30,#0d0d2c,#0c0c28,#0c0c28)"></div>
<div style="height:2px;background:linear-gradient(90deg,#0b0b24,#0b0b24,#0a0a20,#0a0a20,#08081c,#070718,#050510,#020208,#010104,#010104,#010104,#010104,#010104,#020208,#050510,#070718,#070718,#08081c,#08081c,#0a0a20,#0b0b24,#0c0c28,#0d0d2c,#0e0e30,#111138,#131340,#161648,#181850,#1a1a58,#1c1c5c,#1d1d60,#1e1e64,#1f1f68,#1f1f68,#20206c,#20206c,#20206c,#20206c,#1f1f68,#1e1e64,#1e1e64,#1d1d60,#1c1c5c,#191954,#181850,#17174c,#161648,#141444,#12123c,#111138,#101034,#0e0e30,#0d0d2c,#0d0d2c,#0c0c28,#0b0b24)"></div>
<div style="height:2px;background:linear-gradient(90deg,#0b0b24,#0a0a20,#0a0a20,#0a0a20,#08081c,#070718,#050510,#020208,#010104,#010104,#010104,#010104,#010104,#020208,#050510,#060614,#060614,#070718,#070718,#08081c,#08081c,#0a0a20,#0b0b24,#0d0d2c,#101034,#12123c,#141444,#17174c,#181850,#1a1a58,#1c1c5c,#1d1d60,#1d1d60,#1e1e64,#1e1e64,#1e1e64,#1e1e64,#1e1e64,#1e1e64,#1d1d60,#1c1c5c,#1a1a58,#191954,#181850,#17174c,#161648,#141444,#131340,#12123c,#111138,#101034,#0e0e30,#0d0d2c,#0c0c28,#0c0c28,#0b0b24)"></div>
<div style="height:2px;background:linear-gradient(90deg,#0b0b24,#0a0a20,#0a0a20,#0a0a20,#08081c,#070718,#050510,#020208,#010104,#010104,#010104,#010104,#010104,#020208,#050510,#050510,#050510,#050510,#060614,#060614,#070718,#08081c,#0a0a20,#0c0c28,#0d0d2c,#111138,#131340,#161648,#17174c,#181850,#191954,#1a1a58,#1c1c5c,#1d1d60,#1d1d60,#1d1d60,#1d1d60,#1d1d60,#1c1c5c,#1c1c5c,#1a1a58,#191954,#181850,#17174c,#161648,#141444,#131340,#12123c,#111138,#101034,#0e0e30,#0e0e30,#0d0d2c,#0c0c28,#0c0c28,#0b0b24)"></div>
<div style="height:2px;background:linear-gradient(90deg,#0a0a20,#0a0a20,#0a0a20,#08081c,#08081c,#070718,#050510,#020208,#010104,#010104,#010104,#010104,#010104,#020208,#04040c,#04040c,#04040c,#04040c,#050510,#050510,#060614,#070718,#08081c,#0a0a20,#0c0c28,#0e0e30,#12123c,#131340,#161648,#17174c,#181850,#191954,#1a1a58,#1a1a58,#1c1c5c,#1c1c5c,#1c1c5c,#1a1a58,#1a1a58,#1a1a58,#191954,#181850,#17174c,#161648,#161648,#141444,#131340,#12123c,#111138,#101034,#0e0e30,#0d0d2c,#0d0d2c,#0c0c28,#0b0b24,#0b0b24)"></div>
<div style="height:2px;background:linear-gradient(90deg,#0a0a20,#0a0a20,#0a0a20,#08081c,#08081c,#070718,#050510,#020208,#010104,#010104,#010104,#010104,#010104,#020208,#020208,#020208,#020208,#04040c,#04040c,#04040c,#050510,#060614,#070718,#08081c,#0b0b24,#0e0e30,#111138,#131340,#141444,#161648,#17174c,#181850,#191954,#191954,#191954,#1a1a58,#191954,#191954,#191954,#191954,#181850,#17174c,#161648,#161648,#141444,#131340,#12123c,#111138,#101034,#0e0e30,#0e0e30,#0d0d2c,#0c0c28,#0c0c28,#0b0b24,#0b0b24)"></div>
<div style="height:2px;background:linear-gradient(90deg,#0a0a20,#0a0a20,#0a0a20,#08081c,#08081c,#070718,#050510,#020208,#010104,#010104,#010104,#010104,#010104,#020208,#020208,#020208,#020208,#020208,#020208,#04040c,#04040c,#050510,#060614,#08081c,#0b0b24,#0d0d2c,#101034,#12123c,#131340,#161648,#17174c,#17174c,#181850,#181850,#181850,#191954,#191954,#181850,#181850,#181850,#17174c,#161648,#161648,#141444,#131340,#12123c,#12123c,#111138,#101034,#0e0e30,#0d0d2c,#0d0d2c,#0c0c28,#0c0c28,#0b0b24,#0b0b24)"></div>
<div style="height:2px;background:linear-gradient(90deg,#0a0a20,#0a0a20,#0a0a20,#08081c,#08081c,#070718,#050510,#020208,#010104,#010104,#010104,#010104,#010104,#010104,#010104,#010104,#020208,#020208,#020208,#020208,#04040c,#04040c,#050510,#070718,#0a0a20,#0c0c28,#0e0e30,#111138,#131340,#141444,#161648,#161648,#17174c,#17174c,#181850,#181850,#181850,#17174c,#17174c,#17174c,#161648,#161648,#141444,#131340,#131340,#12123c,#111138,#101034,#101034,#0e0e30,#0d0d2c,#0c0c28,#0c0c28,#0b0b24,#0b0b24,#0a0a20)"></div>
<div style="height:2px;background:linear-gradient(90deg,#0a0a20,#0a0a20,#08081c,#08081c,#08081c,#070718,#050510,#020208,#010104,#010104,#010104,#010104,#010104,#010104,#010104,#010104,#010104,#010104,#020208,#020208,#020208,#04040c,#050510,#070718,#0a0a20,#0c0c28,#0e0e30,#111138,#12123c,#131340,#141444,#161648,#161648,#17174c,#17174c,#17174c,#17174c,#17174c,#17174c,#161648,#161648,#141444,#141444,#131340,#12123c,#111138,#111138,#101034,#0e0e30,#0e0e30,#0d0d2c,#0c0c28,#0c0c28,#0b0b24,#0b0b24,#0a0a20)"></div>
<div style="height:2px;background:linear-gradient(90deg,#0a0a20,#0a0a20,#08081c,#08081c,#070718,#060614,#050510,#020208,#010104,#010104,#010104,#010104,#010104,#010104,#010104,#010104,#010104,#010104,#010104,#020208,#020208,#04040c,#050510,#060614,#08081c,#0b0b24,#0e0e30,#101034,#12123c,#131340,#141444,#141444,#161648,#161648,#161648,#161648,#161648,#161648,#161648,#161648,#141444,#141444,#131340,#12123c,#12123c,#111138,#101034,#101034,#0e0e30,#0d0d2c,#0d0d2c,#0c0c28,#0c0c28,#0b0b24,#0b0b24,#0a0a20)"></div>
<div style="height:2px;background:linear-gradient(90deg,#0a0a20,#0a0a20,#08081c,#08081c,#070718,#060614,#050510,#020208,#010104,#010104,#000000,#010104,#010104,#010104,#010104,#010104,#010104,#010104,#010104,#020208,#020208,#04040c,#050510,#060614,#08081c,#0b0b24,#0d0d2c,#101034,#111138,#12123c,#131340,#141444,#141444,#161648,#161648,#161648,#161648,#161648,#141444,#141444,#141444,#131340,#131340,#12123c,#111138,#111138,#101034,#0e0e30,#0e0e30,#0d0d2c,#0d0d2c,#0c0c28,#0b0b24,#0b0b24,#0b0b24,#0a0a20)"></div>
<div style="height:2px;background:linear-gradient(90deg,#0a0a20,#0a0a20,#08081c,#08081c,#070718,#060614,#050510,#020208,#010104,#000000,#000000,#010104,#010104,#010104,#010104,#010104,#010104,#010104,#010104,#010104,#020208,#04040c,#050510,#060614,#08081c,#0b0b24,#0d0d2c,#101034,#111138,#12123c,#131340,#131340,#141444,#141444,#141444,#141444,#141444,#141444,#141444,#141444,#131340,#131340,#12123c,#12123c,#111138,#111138,#101034,#0e0e30,#0e0e30,#0d0d2c,#0c0c28,#0c0c28,#0b0b24,#0b0b24,#0b0b24,#0a0a20)"></div>
<div style="height:2px;background:linear-gradient(90deg,#0a0a20,#0a0a20,#08081c,#08081c,#070718,#060614,#050510,#020208,#010104,#000000,#000000,#010104,#010104,#010104,#010104,#010104,#010104,#010104,#010104,#010104,#020208,#020208,#04040c,#060614,#08081c,#0b0b24,#0d0d2c,#101034,#111138,#12123c,#131340,#131340,#141444,#141444,#141444,#141444,#141444,#141444,#141444,#131340,#131340,#131340,#12123c,#12123c,#111138,#101034,#101034,#0e0e30,#0e0e30,#0d0d2c,#0c0c28,#0c0c28,#0b0b24,#0b0b24,#0a0a20,#0a0a20)"></div>
<div style="height:2px;background:linear-gradient(90deg,#0a0a20,#0a0a20,#08081c,#08081c,#070718,#060614,#050510,#020208,#010104,#000000,#000000,#010104,#010104,#010104,#010104,#010104,#010104,#010104,#010104,#010104,#020208,#020208,#04040c,#060614,#08081c,#0b0b24,#0d0d2c,#0e0e30,#111138,#12123c,#12123c,#131340,#131340,#141444,#141444,#141444,#141444,#141444,#141444,#131340,#131340,#131340,#12123c,#111138,#111138,#101034,#101034,#0e0e30,#0d0d2c,#0d0d2c,#0c0c28,#0c0c28,#0b0b24,#0b0b24,#0a0a20,#0a0a20)"></div>
<div style="height:2px;background:linear-gradient(90deg,#0a0a20,#0a0a20,#08081c,#08081c,#070718,#060614,#050510,#020208,#010104,#000000,#000000,#010104,#010104,#010104,#010104,#010104,#010104,#010104,#010104,#010104,#020208,#020208,#04040c,#060614,#08081c,#0b0b24,#0d0d2c,#0e0e30,#111138,#12123c,#12123c,#131340,#131340,#141444,#141444,#141444,#141444,#141444,#141444,#131340,#131340,#12123c,#12123c,#111138,#111138,#101034,#101034,#0e0e30,#0d0d2c,#0d0d2c,#0c0c28,#0c0c28,#0b0b24,#0b0b24,#0a0a20,#0a0a20)"></div>
<div style="height:2px;background:linear-gradient(90deg,#0a0a20,#0a0a20,#08081c,#08081c,#070718,#060614,#050510,#020208,#010104,#000000,#000000,#010104,#010104,#010104,#010104,#010104,#010104,#010104,#010104,#010104,#020208,#020208,#04040c,#060614,#08081c,#0b0b24,#0d0d2c,#0e0e30,#111138,#12123c,#12123c,#131340,#131340,#141444,#141444,#141444,#141444,#141444,#141444,#131340,#131340,#12123c,#12123c,#111138,#111138,#101034,#101034,#0e0e30,#0d0d2c,#0d0d2c,#0c0c28,#0c0c28,#0b0b24,#0b0b24,#0a0a20,#0a0a20)"></div>
<div style="height:2px;background:linear-gradient(90deg,#0a0a20,#0a0a20,#08081c,#08081c,#070718,#060614,#050510,#020208,#010104,#000000,#000000,#010104,#010104,#010104,#010104,#010104,#010104,#010104,#010104,#010104,#020208,#020208,#04040c,#060614,#08081c,#0b0b24,#0d0d2c,#0e0e30,#111138,#12123c,#12123c,#131340,#131340,#141444,#141444,#141444,#141444,#141444,#141444,#131340,#131340,#12123c,#12123c,#111138,#111138,#101034,#101034,#0e0e30,#0d0d2c,#0d0d2c,#0c0c28,#0c0c28,#0b0b24,#0b0b24,#0a0a20,#0a0a20)"></div>
<div style="height:2px;background:linear-gradient(90deg,#0a0a20,#0a0a20,#08081c,#08081c,#070718,#060614,#050510,#020208,#010104,#000000,#000000,#010104,#010104,#010104,#010104,#010104,#010104,#010104,#010104,#010104,#020208,#020208,#04040c,#060614,#08081c,#0b0b24,#0d0d2c,#0e0e30,#111138,#12123c,#131340,#131340,#141444,#141444,#141444,#141444,#141444,#141444,#141444,#131340,#131340,#131340,#12123c,#12123c,#111138,#101034,#101034,#0e0e30,#0e0e30,#0d0d2c,#0c0c28,#0c0c28,#0b0b24,#0b0b24,#0a0a20,#0a0a20)"></div>
<div style="height:2px;background:linear-gradient(90deg,#0a0a20,#0a0a20,#08081c,#08081c,#070718,#060614,#050510,#020208,#010104,#000000,#000000,#010104,#010104,#010104,#010104,#010104,#010104,#010104,#010104,#010104,#020208,#04040c,#050510,#060614,#08081c,#0b0b24,#0d0d2c,#101034,#111138,#12123c,#131340,#131340,#141444,#141444,#141444,#141444,#141444,#141444,#141444,#141444,#131340,#131340,#12123c,#12123c,#111138,#111138,#101034,#0e0e30,#0e0e30,#0d0d2c,#0c0c28,#0c0c28,#0b0b24,#0b0b24,#0b0b24,#0a0a20)"></div>
<div style="height:2px;background:linear-gradient(90deg,#0a0a20,#0a0a20,#08081c,#08081c,#070718,#060614,#050510,#020208,#010104,#010104,#000000,#010104,#010104,#010104,#010104,#010104,#010104,#010104,#010104,#020208,#020208,#04040c,#050510,#060614,#08081c,#0b0b24,#0d0d2c,#101034,#111138,#12123c,#131340,#141444,#141444,#161648,#161648,#161648,#161648,#161648,#141444,#141444,#141444,#131340,#131340,#12123c,#111138,#111138,#101034,#0e0e30,#0e0e30,#0d0d2c,#0d0d2c,#0c0c28,#0b0b24,#0b0b24,#0b0b24,#0a0a20)"></div>
<div style="height:2px;background:linear-gradient(90deg,#0a0a20,#0a0a20,#08081c,#08081c,#070718,#060614,#050510,#020208,#010104,#010104,#010104,#010104,#010104,#010104,#010104,#010104,#010104,#010104,#010104,#020208,#020208,#04040c,#050510,#060614,#08081c,#0b0b24,#0d0d2c,#101034,#12123c,#131340,#141444,#141444,#161648,#161648,#161648,#161648,#161648,#161648,#161648,#161648,#141444,#141444,#131340,#12123c,#12123c,#111138,#101034,#101034,#0e0e30,#0d0d2c,#0d0d2c,#0c0c28,#0c0c28,#0b0b24,#0b0b24,#0a0a20)"></div>
<div style="height:2px;background:linear-gradient(90deg,#0a0a20,#0a0a20,#08081c,#08081c,#08081c,#070718,#050510,#020208,#010104,#010104,#010104,#010104,#010104,#010104,#010104,#010104,#010104,#010104,#020208,#020208,#020208,#04040c,#050510,#070718,#0a0a20,#0c0c28,#0e0e30,#111138,#12123c,#131340,#141444,#161648,#161648,#17174c,#17174c,#17174c,#17174c,#17174c,#161648,#161648,#161648,#141444,#131340,#131340,#12123c,#111138,#111138,#101034,#0e0e30,#0e0e30,#0d0d2c,#0c0c28,#0c0c28,#0b0b24,#0b0b24,#0a0a20)"></div>
<div style="height:2px;background:linear-gradient(90deg,#0a0a20,#0a0a20,#0a0a20,#08081c,#08081c,#070718,#050510,#020208,#010104,#010104,#010104,#010104,#010104,#010104,#010104,#010104,#020208,#020208,#020208,#020208,#04040c,#04040c,#060614,#070718,#0a0a20,#0c0c28,#0e0e30,#111138,#131340,#141444,#161648,#161648,#17174c,#17174c,#17174c,#181850,#181850,#17174c,#17174c,#17174c,#161648,#161648,#141444,#131340,#131340,#12123c,#111138,#101034,#101034,#0e0e30,#0d0d2c,#0c0c28,#0c0c28,#0b0b24,#0b0b24,#0a0a20)"></div>
<div style="height:2px;background:linear-gradient(90deg,#0a0a20,#0a0a20,#0a0a20,#08081c,#08081c,#070718,#050510,#020208,#010104,#010104,#010104,#010104,#010104,#020208,#020208,#020208,#020208,#020208,#020208,#04040c,#04040c,#050510,#060614,#08081c,#0b0b24,#0d0d2c,#101034,#12123c,#131340,#141444,#161648,#17174c,#181850,#181850,#181850,#181850,#181850,#181850,#181850,#17174c,#17174c,#161648,#161648,#141444,#131340,#12123c,#111138,#111138,#101034,#0e0e30,#0d0d2c,#0d0d2c,#0c0c28,#0c0c28,#0b0b24,#0b0b24)"></div>
</div>
<div style="position:absolute;left:508.8px;top:215.8px;width:29.9px;height:335.8px;background:linear-gradient(180deg,#ffffff,#fafae7,#f5f5cf,#f0f0b3,#ebeb9b,#e6e683,#e6de6c,#e6d759,#e6cf42,#e6c72f,#e6c01c,#e6b314,#e6a710,#e6990a,#e68d05,#e68100,#eb7308,#ef670f,#f55917,#fa4d1e,#ff4126,#ea3d38,#d73b49,#c1385d,#ad366e,#9a337e,#89308d,#7b2e99,#6a2ba7,#5c29b3,#4d26bf,#4426b2,#3d26a6,#352698,#2e268c,#262680,#1e1e64,#17174c,#0e0e30,#070718,#000000)"></div>
<svg width="1406" height="751" viewBox="0 0 1406 751" style="position:absolute;left:0;top:0;will-change:transform">
<rect x="419" y="57.2" width="1.5" height="252.2" fill="#fff"/>
<rect x="419" y="398.1" width="1.5" height="251.5" fill="#fff"/>
<rect x="169.5" y="57.2" width="251.8" height="252.2" fill="none" stroke="#000" stroke-width="2"/>
<line x1="160.8" y1="309.40" x2="169.5" y2="309.40" stroke="#000" stroke-width="2"/>
<line x1="169.50" y1="309.4" x2="169.50" y2="317.59999999999997" stroke="#000" stroke-width="2"/>
<line x1="160.8" y1="246.35" x2="169.5" y2="246.35" stroke="#000" stroke-width="2"/>
<line x1="232.45" y1="309.4" x2="232.45" y2="317.59999999999997" stroke="#000" stroke-width="2"/>
<line x1="160.8" y1="183.30" x2="169.5" y2="183.30" stroke="#000" stroke-width="2"/>
<line x1="295.40" y1="309.4" x2="295.40" y2="317.59999999999997" stroke="#000" stroke-width="2"/>
<line x1="160.8" y1="120.25" x2="169.5" y2="120.25" stroke="#000" stroke-width="2"/>
<line x1="358.35" y1="309.4" x2="358.35" y2="317.59999999999997" stroke="#000" stroke-width="2"/>
<line x1="160.8" y1="57.20" x2="169.5" y2="57.20" stroke="#000" stroke-width="2"/>
<line x1="421.30" y1="309.4" x2="421.30" y2="317.59999999999997" stroke="#000" stroke-width="2"/>
<rect x="169.5" y="398.1" width="251.8" height="251.5" fill="none" stroke="#000" stroke-width="2"/>
<line x1="160.8" y1="649.60" x2="169.5" y2="649.60" stroke="#000" stroke-width="2"/>
<line x1="169.50" y1="649.6" x2="169.50" y2="657.8000000000001" stroke="#000" stroke-width="2"/>
<line x1="160.8" y1="586.73" x2="169.5" y2="586.73" stroke="#000" stroke-width="2"/>
<line x1="232.45" y1="649.6" x2="232.45" y2="657.8000000000001" stroke="#000" stroke-width="2"/>
<line x1="160.8" y1="523.85" x2="169.5" y2="523.85" stroke="#000" stroke-width="2"/>
<line x1="295.40" y1="649.6" x2="295.40" y2="657.8000000000001" stroke="#000" stroke-width="2"/>
<line x1="160.8" y1="460.98" x2="169.5" y2="460.98" stroke="#000" stroke-width="2"/>
<line x1="358.35" y1="649.6" x2="358.35" y2="657.8000000000001" stroke="#000" stroke-width="2"/>
<line x1="160.8" y1="398.10" x2="169.5" y2="398.10" stroke="#000" stroke-width="2"/>
<line x1="421.30" y1="649.6" x2="421.30" y2="657.8000000000001" stroke="#000" stroke-width="2"/>
<rect x="508.8" y="215.8" width="29.9" height="335.8" fill="none" stroke="#000" stroke-width="2"/>
<line x1="538.7" y1="551.60" x2="546.7" y2="551.60" stroke="#000" stroke-width="2"/>
<line x1="538.7" y1="467.65" x2="546.7" y2="467.65" stroke="#000" stroke-width="2"/>
<line x1="538.7" y1="383.70" x2="546.7" y2="383.70" stroke="#000" stroke-width="2"/>
<line x1="538.7" y1="299.75" x2="546.7" y2="299.75" stroke="#000" stroke-width="2"/>
<line x1="538.7" y1="215.80" x2="546.7" y2="215.80" stroke="#000" stroke-width="2"/>
<rect x="831.0" y="71.8" width="566.5" height="566.5" fill="none" stroke="#4f4f4f" stroke-width="1.8"/>
<line x1="944.30" y1="638.3" x2="944.30" y2="633.8" stroke="#4f4f4f" stroke-width="1.5"/>
<line x1="944.30" y1="71.8" x2="944.30" y2="76.3" stroke="#4f4f4f" stroke-width="1.5"/>
<line x1="831.0" y1="525.00" x2="835.5" y2="525.00" stroke="#4f4f4f" stroke-width="1.5"/>
<line x1="1397.5" y1="525.00" x2="1393.0" y2="525.00" stroke="#4f4f4f" stroke-width="1.5"/>
<line x1="1057.60" y1="638.3" x2="1057.60" y2="633.8" stroke="#4f4f4f" stroke-width="1.5"/>
<line x1="1057.60" y1="71.8" x2="1057.60" y2="76.3" stroke="#4f4f4f" stroke-width="1.5"/>
<line x1="831.0" y1="411.70" x2="835.5" y2="411.70" stroke="#4f4f4f" stroke-width="1.5"/>
<line x1="1397.5" y1="411.70" x2="1393.0" y2="411.70" stroke="#4f4f4f" stroke-width="1.5"/>
<line x1="1170.90" y1="638.3" x2="1170.90" y2="633.8" stroke="#4f4f4f" stroke-width="1.5"/>
<line x1="1170.90" y1="71.8" x2="1170.90" y2="76.3" stroke="#4f4f4f" stroke-width="1.5"/>
<line x1="831.0" y1="298.40" x2="835.5" y2="298.40" stroke="#4f4f4f" stroke-width="1.5"/>
<line x1="1397.5" y1="298.40" x2="1393.0" y2="298.40" stroke="#4f4f4f" stroke-width="1.5"/>
<line x1="1284.20" y1="638.3" x2="1284.20" y2="633.8" stroke="#4f4f4f" stroke-width="1.5"/>
<line x1="1284.20" y1="71.8" x2="1284.20" y2="76.3" stroke="#4f4f4f" stroke-width="1.5"/>
<line x1="831.0" y1="185.10" x2="835.5" y2="185.10" stroke="#4f4f4f" stroke-width="1.5"/>
<line x1="1397.5" y1="185.10" x2="1393.0" y2="185.10" stroke="#4f4f4f" stroke-width="1.5"/>
<clipPath id="cb"><rect x="831.0" y="71.8" width="566.5" height="566.5"/></clipPath>
<g clip-path="url(#cb)"><path d="M859.3 638.3L843.1 633.2M859.3 610.0L844.1 602.4M859.3 581.6L845.6 571.7M859.3 553.3L847.0 541.6M859.3 525.0L848.8 511.6M859.3 496.7L848.6 483.5M859.3 468.3L847.7 455.9M859.3 440.0L846.9 428.4M859.3 411.7L845.3 402.1M859.3 383.4L844.7 374.7M859.3 355.0L843.7 348.5M859.3 326.7L843.4 320.8M859.3 298.4L843.1 293.4M859.3 270.1L842.9 265.6M859.3 241.7L842.7 238.1M859.3 213.4L842.8 209.5M859.3 185.1L842.5 182.6M859.3 156.8L842.8 153.0M859.3 128.4L842.6 125.6M859.3 100.1L842.7 96.6M887.6 638.3L871.0 635.1M887.6 610.0L872.1 603.1M887.6 581.6L873.6 572.1M887.6 553.3L875.7 541.2M887.6 525.0L877.2 511.6M887.6 496.7L877.8 482.8M887.6 468.3L876.7 455.3M887.6 440.0L875.9 427.8M887.6 411.7L873.8 401.9M887.6 383.4L872.3 376.1M887.6 355.0L871.1 351.3M887.6 326.7L870.8 324.8M887.6 298.4L870.7 297.9M887.6 270.1L870.7 269.0M887.6 241.7L870.6 241.7M887.6 213.4L870.6 213.4M887.6 185.1L870.7 184.8M887.6 156.8L870.7 155.7M887.6 128.4L870.7 128.1M887.6 100.1L870.8 98.2M916.0 638.3L899.0 637.5M916.0 610.0L899.8 604.9M916.0 581.6L902.9 570.7M916.0 553.3L906.8 539.0M916.0 525.0L911.7 508.5M916.0 496.7L913.1 479.9M916.0 468.3L914.3 451.4M916.0 440.0L911.9 423.5M916.0 411.7L906.2 397.8M916.0 383.4L899.0 382.6M916.0 355.0L901.5 364.0M916.0 326.7L901.9 336.3M916.0 298.4L901.6 307.5M916.0 270.1L900.8 277.7M916.0 241.7L900.4 248.5M916.0 213.4L899.9 218.9M916.0 185.1L899.5 189.5M916.0 156.8L899.4 160.4M916.0 128.4L899.4 132.3M916.0 100.1L899.1 101.8M944.3 638.3L930.7 648.5M944.3 610.0L927.4 607.9M944.3 581.6L932.9 569.1M944.3 553.3L946.7 536.5M944.3 525.0L953.4 510.6M944.3 496.7L956.5 484.8M944.3 468.3L958.8 459.5M944.3 440.0L960.7 435.5M944.3 411.7L961.2 413.4M944.3 383.4L958.6 392.6M944.3 355.0L953.4 369.4M944.3 326.7L945.9 343.6M944.3 298.4L940.5 315.0M944.3 270.1L936.3 285.1M944.3 241.7L933.1 254.5M944.3 213.4L931.4 224.5M944.3 185.1L930.5 195.0M944.3 156.8L929.4 164.9M944.3 128.4L928.8 135.3M944.3 100.1L928.5 106.3M972.6 638.3L959.0 648.5M972.6 610.0L955.8 612.2M972.6 581.6L970.6 564.8M972.6 553.3L984.7 541.4M972.6 525.0L986.5 515.2M972.6 496.7L988.1 489.7M972.6 468.3L989.2 464.4M972.6 440.0L989.6 438.7M972.6 411.7L989.4 414.4M972.6 383.4L988.0 390.7M972.6 355.0L985.4 366.2M972.6 326.7L981.1 341.4M972.6 298.4L974.5 315.3M972.6 270.1L969.8 286.8M972.6 241.7L965.3 257.1M972.6 213.4L963.0 227.4M972.6 185.1L961.1 197.6M972.6 156.8L959.3 167.3M972.6 128.4L958.5 137.9M972.6 100.1L958.0 108.8M1001.0 638.3L987.4 648.5M1001.0 610.0L984.3 613.2M1001.0 581.6L1008.6 566.4M1001.0 553.3L1014.8 543.5M1001.0 525.0L1015.8 516.7M1001.0 496.7L1016.6 490.1M1001.0 468.3L1017.5 464.3M1001.0 440.0L1017.9 438.7M1001.0 411.7L1017.9 413.2M1001.0 383.4L1016.8 389.5M1001.0 355.0L1014.7 365.0M1001.0 326.7L1011.1 340.4M1001.0 298.4L1004.8 315.0M1001.0 270.1L999.8 287.0M1001.0 241.7L994.6 257.5M1001.0 213.4L991.7 227.7M1001.0 185.1L989.8 197.9M1001.0 156.8L988.2 168.0M1001.0 128.4L987.4 138.8M1001.0 100.1L986.8 109.6M1029.3 638.3L1015.7 648.5M1029.3 610.0L1012.3 610.0M1029.3 581.6L1036.3 566.2M1029.3 553.3L1042.5 542.6M1029.3 525.0L1043.6 515.9M1029.3 496.7L1044.6 489.4M1029.3 468.3L1045.6 463.5M1029.3 440.0L1045.9 436.7M1029.3 411.7L1046.3 411.4M1029.3 383.4L1045.8 387.3M1029.3 355.0L1044.4 362.9M1029.3 326.7L1040.4 339.6M1029.3 298.4L1035.2 314.4M1029.3 270.1L1027.6 287.0M1029.3 241.7L1023.0 257.5M1029.3 213.4L1020.1 227.7M1029.3 185.1L1018.1 197.9M1029.3 156.8L1016.5 168.0M1029.3 128.4L1015.6 138.6M1029.3 100.1L1014.8 109.0M1057.6 638.3L1044.0 648.5M1057.6 610.0L1041.2 605.3M1057.6 581.6L1061.4 565.1M1057.6 553.3L1070.5 542.2M1057.6 525.0L1071.2 514.8M1057.6 496.7L1072.2 488.0M1057.6 468.3L1073.3 461.9M1057.6 440.0L1073.9 435.4M1057.6 411.7L1074.6 410.9M1057.6 383.4L1074.5 385.6M1057.6 355.0L1073.3 361.6M1057.6 326.7L1070.3 338.1M1057.6 298.4L1063.5 314.4M1057.6 270.1L1055.9 287.0M1057.6 241.7L1050.3 257.1M1057.6 213.4L1047.8 227.3M1057.6 185.1L1045.5 197.0M1057.6 156.8L1044.2 167.3M1057.6 128.4L1043.4 137.8M1057.6 100.1L1042.7 108.3M1085.9 638.3L1072.3 648.5M1085.9 610.0L1070.9 602.1M1085.9 581.6L1087.1 564.7M1085.9 553.3L1096.2 539.8M1085.9 525.0L1098.0 513.1M1085.9 496.7L1099.5 486.4M1085.9 468.3L1100.9 460.2M1085.9 440.0L1101.6 433.4M1085.9 411.7L1102.6 408.5M1085.9 383.4L1102.9 382.2M1085.9 355.0L1102.3 359.6M1085.9 326.7L1100.0 336.2M1085.9 298.4L1093.2 313.8M1085.9 270.1L1082.7 286.8M1085.9 241.7L1077.7 256.6M1085.9 213.4L1074.3 225.8M1085.9 185.1L1072.7 195.8M1085.9 156.8L1071.5 165.8M1085.9 128.4L1071.0 136.5M1085.9 100.1L1070.1 106.3M1114.2 638.3L1097.2 638.3M1114.2 610.0L1100.0 600.7M1114.2 581.6L1112.6 564.7M1114.2 553.3L1120.6 537.5M1114.2 525.0L1124.1 511.2M1114.2 496.7L1126.1 484.5M1114.2 468.3L1127.5 457.7M1114.2 440.0L1128.6 430.9M1114.2 411.7L1129.7 404.6M1114.2 383.4L1130.6 378.6M1114.2 355.0L1131.2 356.0M1114.2 326.7L1129.2 334.8M1114.2 298.4L1120.1 314.4M1114.2 270.1L1108.7 286.1M1114.2 241.7L1104.1 255.4M1114.2 213.4L1101.5 224.7M1114.2 185.1L1100.3 194.7M1114.2 156.8L1099.2 164.7M1114.2 128.4L1098.7 135.4M1114.2 100.1L1098.0 105.0M1142.6 638.3L1125.8 635.7M1142.6 610.0L1129.0 599.7M1142.6 581.6L1137.9 565.3M1142.6 553.3L1146.5 536.8M1142.6 525.0L1150.2 509.8M1142.6 496.7L1152.5 482.9M1142.6 468.3L1154.2 455.9M1142.6 440.0L1155.0 428.4M1142.6 411.7L1156.7 402.2M1142.6 383.4L1157.4 375.1M1142.6 355.0L1159.1 351.2M1142.6 326.7L1158.9 331.3M1142.6 298.4L1145.1 315.2M1142.6 270.1L1132.8 284.0M1142.6 241.7L1129.8 252.9M1142.6 213.4L1128.0 222.1M1142.6 185.1L1127.2 192.3M1142.6 156.8L1126.7 162.8M1142.6 128.4L1126.2 133.0M1142.6 100.1L1125.7 102.2M1170.9 638.3L1154.3 634.9M1170.9 610.0L1157.5 599.5M1170.9 581.6L1165.2 565.6M1170.9 553.3L1170.9 536.3M1170.9 525.0L1175.5 508.6M1170.9 496.7L1177.2 480.9M1170.9 468.3L1179.2 453.5M1170.9 440.0L1180.9 426.2M1170.9 411.7L1181.9 398.7M1170.9 383.4L1183.1 371.5M1170.9 355.0L1184.3 344.6M1170.9 326.7L1186.1 319.1M1170.9 298.4L1158.9 310.4M1170.9 270.1L1156.6 279.2M1170.9 241.7L1156.1 250.1M1170.9 213.4L1155.2 220.0M1170.9 185.1L1154.9 190.8M1170.9 156.8L1154.3 160.4M1170.9 128.4L1154.2 131.7M1170.9 100.1L1153.9 100.1M1199.2 638.3L1183.0 633.2M1199.2 610.0L1185.8 599.6M1199.2 581.6L1191.4 566.6M1199.2 553.3L1196.6 536.5M1199.2 525.0L1199.2 508.0M1199.2 496.7L1202.2 479.9M1199.2 468.3L1203.9 452.0M1199.2 440.0L1205.2 424.1M1199.2 411.7L1205.3 395.8M1199.2 383.4L1204.8 367.3M1199.2 355.0L1203.1 338.5M1199.2 326.7L1194.5 310.4M1199.2 298.4L1182.8 294.1M1199.2 270.1L1182.3 272.1M1199.2 241.7L1182.6 245.1M1199.2 213.4L1182.6 217.1M1199.2 185.1L1182.5 188.2M1199.2 156.8L1182.4 158.9M1199.2 128.4L1182.4 130.6M1199.2 100.1L1182.3 99.0M1227.6 638.3L1211.4 633.0M1227.6 610.0L1214.0 599.7M1227.6 581.6L1218.2 567.5M1227.6 553.3L1221.8 537.3M1227.6 525.0L1224.7 508.2M1227.6 496.7L1225.8 479.8M1227.6 468.3L1226.7 451.4M1227.6 440.0L1226.7 423.0M1227.6 411.7L1225.7 394.8M1227.6 383.4L1225.0 366.6M1227.6 355.0L1221.7 339.1M1227.6 326.7L1216.5 313.8M1227.6 298.4L1212.1 291.3M1227.6 270.1L1210.8 267.3M1227.6 241.7L1210.6 241.7M1227.6 213.4L1210.6 214.4M1227.6 185.1L1210.6 186.3M1227.6 156.8L1210.6 156.8M1227.6 128.4L1210.6 128.4M1227.6 100.1L1210.7 98.0M1255.9 638.3L1240.0 632.3M1255.9 610.0L1241.8 600.5M1255.9 581.6L1244.5 569.1M1255.9 553.3L1247.7 538.4M1255.9 525.0L1249.5 509.2M1255.9 496.7L1249.8 480.8M1255.9 468.3L1250.9 452.1M1255.9 440.0L1250.4 423.9M1255.9 411.7L1249.2 396.1M1255.9 383.4L1248.0 368.3M1255.9 355.0L1245.0 342.0M1255.9 326.7L1242.6 316.1M1255.9 298.4L1240.7 290.7M1255.9 270.1L1239.7 264.8M1255.9 241.7L1239.1 239.0M1255.9 213.4L1239.0 211.8M1255.9 185.1L1238.9 184.1M1255.9 156.8L1239.0 155.2M1255.9 128.4L1239.0 126.8M1255.9 100.1L1239.1 97.3M1284.2 638.3L1268.3 632.3M1284.2 610.0L1270.1 600.5M1284.2 581.6L1272.4 569.5M1284.2 553.3L1274.5 539.4M1284.2 525.0L1276.0 510.1M1284.2 496.7L1276.9 481.3M1284.2 468.3L1276.5 453.2M1284.2 440.0L1276.0 425.1M1284.2 411.7L1275.1 397.4M1284.2 383.4L1273.5 370.2M1284.2 355.0L1272.0 343.2M1284.2 326.7L1270.3 316.9M1284.2 298.4L1269.3 290.1M1284.2 270.1L1268.6 263.4M1284.2 241.7L1267.7 237.8M1284.2 213.4L1267.5 210.3M1284.2 185.1L1267.3 182.9M1284.2 156.8L1267.4 154.3M1284.2 128.4L1267.4 125.8M1284.2 100.1L1267.6 96.3M1312.5 638.3L1296.6 632.3M1312.5 610.0L1298.1 600.9M1312.5 581.6L1300.1 570.1M1312.5 553.3L1301.6 540.3M1312.5 525.0L1303.3 510.7M1312.5 496.7L1303.5 482.2M1312.5 468.3L1303.1 454.2M1312.5 440.0L1302.4 426.4M1312.5 411.7L1301.8 398.5M1312.5 383.4L1300.5 371.4M1312.5 355.0L1299.6 344.0M1312.5 326.7L1298.1 317.7M1312.5 298.4L1297.5 290.4M1312.5 270.1L1296.9 263.5M1312.5 241.7L1296.1 237.2M1312.5 213.4L1296.1 208.9M1312.5 185.1L1295.9 181.7M1312.5 156.8L1296.0 152.9M1312.5 128.4L1295.9 124.9M1312.5 100.1L1296.3 95.0M1340.8 638.3L1325.0 632.1M1340.8 610.0L1326.1 601.5M1340.8 581.6L1327.8 570.8M1340.8 553.3L1329.4 540.8M1340.8 525.0L1330.3 511.6M1340.8 496.7L1330.4 483.2M1340.8 468.3L1329.7 455.5M1340.8 440.0L1329.5 427.3M1340.8 411.7L1328.8 399.7M1340.8 383.4L1328.2 372.0M1340.8 355.0L1327.2 344.9M1340.8 326.7L1326.3 317.9M1340.8 298.4L1325.6 290.9M1340.8 270.1L1325.2 263.5M1340.8 241.7L1324.8 236.2M1340.8 213.4L1324.5 208.9M1340.8 185.1L1324.4 180.9M1340.8 156.8L1324.5 152.1M1340.8 128.4L1324.2 124.9M1340.8 100.1L1324.5 95.5M1369.2 638.3L1353.3 632.1M1369.2 610.0L1354.3 601.7M1369.2 581.6L1356.1 570.8M1369.2 553.3L1357.2 541.2M1369.2 525.0L1358.0 512.2M1369.2 496.7L1357.7 484.1M1369.2 468.3L1357.4 456.1M1369.2 440.0L1356.8 428.4M1369.2 411.7L1356.5 400.3M1369.2 383.4L1355.8 372.9M1369.2 355.0L1354.8 346.0M1369.2 326.7L1354.3 318.5M1369.2 298.4L1353.6 291.5M1369.2 270.1L1353.4 263.8M1369.2 241.7L1353.1 236.2M1369.2 213.4L1352.8 208.9M1369.2 185.1L1352.7 180.9M1369.2 156.8L1352.8 152.1M1369.2 128.4L1352.6 124.9M1369.2 100.1L1352.8 95.5" stroke="#9646ee" stroke-width="1.6" fill="none" stroke-linecap="round"/><path d="M836.9 631.2L843.6 631.6L842.6 634.8ZM838.3 599.5L844.9 600.9L843.4 603.9ZM840.3 567.9L846.6 570.3L844.6 573.0ZM842.3 537.1L848.2 540.3L845.9 542.8ZM844.8 506.5L850.1 510.6L847.5 512.7ZM844.5 478.4L849.9 482.4L847.3 484.6ZM843.3 451.2L849.0 454.8L846.5 457.1ZM842.1 424.0L848.1 427.2L845.7 429.7ZM839.9 398.5L846.2 400.7L844.3 403.5ZM839.1 371.5L845.5 373.3L843.8 376.2ZM837.7 345.9L844.3 346.9L843.0 350.0ZM837.3 318.6L844.0 319.3L842.8 322.4ZM836.8 291.5L843.6 291.8L842.6 295.1ZM836.6 263.9L843.4 264.0L842.5 267.3ZM836.4 236.7L843.1 236.4L842.4 239.8ZM836.5 207.9L843.2 207.8L842.4 211.1ZM836.1 181.6L842.8 180.9L842.3 184.3ZM836.4 151.5L843.1 151.3L842.4 154.6ZM836.2 124.5L842.9 123.9L842.3 127.3ZM836.3 95.3L843.0 95.0L842.3 98.3ZM864.6 633.8L871.3 633.4L870.6 636.7ZM866.2 600.5L872.8 601.5L871.4 604.7ZM868.2 568.4L874.6 570.7L872.6 573.5ZM871.1 536.6L876.9 540.0L874.5 542.4ZM873.3 506.4L878.6 510.5L875.9 512.6ZM874.1 477.5L879.2 481.8L876.5 483.8ZM872.6 450.3L878.0 454.2L875.4 456.4ZM871.4 423.1L877.1 426.6L874.6 428.9ZM868.5 398.1L874.7 400.5L872.8 403.3ZM866.4 373.3L873.0 374.6L871.6 377.6ZM864.7 349.9L871.4 349.7L870.7 353.0ZM864.3 324.1L870.9 323.1L870.6 326.5ZM864.2 297.7L870.7 296.2L870.6 299.6ZM864.2 268.5L870.8 267.3L870.6 270.7ZM864.1 241.7L870.6 240.0L870.6 243.4ZM864.1 213.4L870.6 211.7L870.6 215.1ZM864.2 184.7L870.7 183.1L870.6 186.5ZM864.2 155.2L870.8 154.0L870.6 157.4ZM864.2 128.0L870.7 126.4L870.6 129.8ZM864.3 97.5L870.9 96.5L870.6 99.9ZM892.5 637.2L899.1 635.8L898.9 639.2ZM893.6 602.9L900.3 603.3L899.2 606.5ZM898.0 566.6L904.0 569.4L901.9 572.0ZM903.2 533.6L908.2 538.1L905.3 540.0ZM910.1 502.3L913.3 508.1L910.1 509.0ZM912.0 473.5L914.8 479.6L911.4 480.2ZM913.6 445.0L916.0 451.3L912.6 451.6ZM910.3 417.2L913.5 423.1L910.2 423.9ZM902.4 392.5L907.6 396.8L904.8 398.8ZM892.5 382.3L899.1 380.9L898.9 384.3ZM896.0 367.4L900.6 362.6L902.4 365.4ZM896.6 340.0L901.0 334.9L902.9 337.7ZM896.1 310.9L900.7 306.0L902.5 308.9ZM895.0 280.7L900.0 276.2L901.6 279.3ZM894.4 251.1L899.7 246.9L901.1 250.1ZM893.7 221.1L899.3 217.3L900.4 220.6ZM893.3 191.1L899.1 187.8L900.0 191.1ZM893.0 161.7L899.0 158.7L899.7 162.0ZM893.1 133.8L899.0 130.7L899.8 134.0ZM892.6 102.5L898.9 100.2L899.2 103.5ZM925.5 652.4L929.7 647.1L931.7 649.9ZM921.0 607.1L927.6 606.2L927.2 609.6ZM928.5 564.2L934.1 567.9L931.6 570.2ZM947.6 530.1L948.3 536.7L945.0 536.3ZM956.9 505.1L954.8 511.5L952.0 509.7ZM961.1 480.3L957.7 486.0L955.3 483.6ZM964.4 456.1L959.7 461.0L957.9 458.1ZM967.0 433.8L961.1 437.2L960.2 433.9ZM967.7 414.0L961.1 415.1L961.4 411.7ZM964.0 396.1L957.6 394.0L959.5 391.2ZM956.8 374.9L951.9 370.3L954.8 368.5ZM946.5 350.1L944.2 343.8L947.6 343.5ZM939.1 321.3L938.9 314.6L942.2 315.4ZM933.2 290.8L934.8 284.3L937.8 285.9ZM928.8 259.4L931.8 253.4L934.4 255.7ZM926.4 228.7L930.3 223.2L932.5 225.8ZM925.2 198.8L929.5 193.6L931.5 196.4ZM923.7 168.0L928.6 163.4L930.2 166.4ZM922.8 138.0L928.1 133.8L929.4 136.9ZM922.4 108.7L927.9 104.7L929.1 107.9ZM953.8 652.4L958.0 647.1L960.0 649.9ZM949.3 613.0L955.5 610.5L956.0 613.9ZM969.8 558.3L972.3 564.6L968.9 565.0ZM989.4 536.8L985.9 542.6L983.5 540.2ZM991.8 511.4L987.5 516.6L985.5 513.8ZM994.0 487.0L988.8 491.2L987.4 488.1ZM995.5 462.9L989.6 466.0L988.8 462.7ZM996.1 438.2L989.7 440.4L989.4 437.0ZM995.8 415.4L989.1 416.1L989.7 412.7ZM993.9 393.4L987.3 392.2L988.7 389.1ZM990.3 370.5L984.3 367.5L986.5 365.0ZM984.4 347.1L979.7 342.3L982.6 340.6ZM975.2 321.8L972.8 315.5L976.2 315.1ZM968.7 293.2L968.1 286.5L971.5 287.1ZM962.6 263.0L963.8 256.4L966.9 257.8ZM959.3 232.8L961.6 226.5L964.4 228.4ZM956.7 202.4L959.9 196.5L962.4 198.8ZM954.2 171.4L958.2 166.0L960.4 168.7ZM953.1 141.5L957.5 136.5L959.4 139.3ZM952.5 112.2L957.2 107.4L958.9 110.3ZM982.2 652.4L986.3 647.1L988.4 649.9ZM977.9 614.5L983.9 611.6L984.6 614.9ZM1011.5 560.6L1010.1 567.2L1007.0 565.7ZM1020.1 539.7L1015.8 544.8L1013.8 542.1ZM1021.5 513.6L1016.6 518.2L1015.0 515.2ZM1022.6 487.6L1017.3 491.7L1016.0 488.6ZM1023.8 462.8L1017.9 466.0L1017.1 462.7ZM1024.4 438.2L1018.0 440.4L1017.8 437.0ZM1024.4 413.8L1017.7 414.9L1018.0 411.5ZM1022.9 391.8L1016.2 391.1L1017.4 387.9ZM1020.0 368.8L1013.7 366.4L1015.7 363.6ZM1014.9 345.6L1009.7 341.4L1012.4 339.4ZM1006.2 321.3L1003.1 315.3L1006.4 314.6ZM999.3 293.5L998.1 286.9L1001.5 287.2ZM992.2 263.6L993.1 256.9L996.2 258.2ZM988.2 233.2L990.3 226.8L993.2 228.6ZM985.5 202.8L988.5 196.8L991.0 199.0ZM983.3 172.2L987.0 166.7L989.3 169.2ZM982.3 142.7L986.4 137.4L988.5 140.1ZM981.4 113.2L985.9 108.1L987.7 111.0ZM1010.5 652.4L1014.7 647.1L1016.7 649.9ZM1005.8 610.0L1012.3 608.3L1012.3 611.7ZM1039.0 560.3L1037.9 566.9L1034.8 565.5ZM1047.6 538.6L1043.6 544.0L1041.4 541.3ZM1049.1 512.4L1044.5 517.3L1042.7 514.4ZM1050.5 486.6L1045.4 490.9L1043.9 487.9ZM1051.8 461.7L1046.1 465.2L1045.1 461.9ZM1052.3 435.4L1046.3 438.4L1045.6 435.0ZM1052.8 411.2L1046.3 413.1L1046.2 409.7ZM1052.2 388.7L1045.4 388.9L1046.2 385.6ZM1050.1 365.8L1043.6 364.4L1045.2 361.4ZM1044.7 344.5L1039.1 340.7L1041.7 338.5ZM1037.4 320.5L1033.6 314.9L1036.7 313.8ZM1026.9 293.5L1025.9 286.8L1029.3 287.2ZM1020.5 263.6L1021.4 256.9L1024.5 258.2ZM1016.5 233.2L1018.6 226.8L1021.5 228.6ZM1013.8 202.8L1016.8 196.8L1019.4 199.0ZM1011.6 172.2L1015.4 166.7L1017.6 169.2ZM1010.4 142.4L1014.6 137.2L1016.6 139.9ZM1009.2 112.4L1013.9 107.5L1015.7 110.4ZM1038.8 652.4L1043.0 647.1L1045.0 649.9ZM1035.0 603.6L1041.7 603.7L1040.8 607.0ZM1062.9 558.8L1063.1 565.5L1059.8 564.7ZM1075.4 538.0L1071.6 543.5L1069.4 541.0ZM1076.4 510.9L1072.2 516.1L1070.2 513.4ZM1077.8 484.8L1073.1 489.5L1071.4 486.6ZM1079.3 459.4L1074.0 463.5L1072.7 460.3ZM1080.2 433.6L1074.4 437.0L1073.5 433.7ZM1081.1 410.5L1074.7 412.5L1074.5 409.2ZM1080.9 386.4L1074.2 387.3L1074.7 383.9ZM1079.3 364.2L1072.6 363.2L1073.9 360.1ZM1075.1 342.4L1069.1 339.3L1071.4 336.8ZM1065.7 320.5L1061.9 314.9L1065.1 313.8ZM1055.3 293.5L1054.2 286.8L1057.6 287.2ZM1047.5 263.0L1048.8 256.4L1051.9 257.8ZM1044.0 232.6L1046.4 226.3L1049.2 228.3ZM1040.9 201.6L1044.3 195.8L1046.7 198.3ZM1039.1 171.3L1043.2 165.9L1045.3 168.6ZM1038.0 141.4L1042.5 136.4L1044.3 139.2ZM1037.0 111.4L1041.9 106.8L1043.5 109.8ZM1067.1 652.4L1071.3 647.1L1073.3 649.9ZM1065.1 599.1L1071.6 600.6L1070.1 603.6ZM1087.6 558.2L1088.8 564.8L1085.4 564.6ZM1100.1 534.6L1097.6 540.8L1094.8 538.8ZM1102.7 508.5L1099.2 514.3L1096.8 511.9ZM1104.6 482.5L1100.5 487.8L1098.4 485.0ZM1106.6 457.1L1101.7 461.7L1100.0 458.7ZM1107.6 430.9L1102.3 435.0L1100.9 431.9ZM1109.0 407.3L1102.9 410.2L1102.3 406.9ZM1109.4 381.8L1103.0 383.9L1102.8 380.5ZM1108.6 361.3L1101.9 361.2L1102.8 357.9ZM1105.4 339.8L1099.1 337.6L1101.0 334.8ZM1096.0 319.6L1091.7 314.5L1094.7 313.0ZM1081.4 293.1L1081.0 286.4L1084.3 287.1ZM1074.5 262.3L1076.2 255.8L1079.2 257.4ZM1069.9 230.6L1073.1 224.7L1075.5 227.0ZM1067.6 199.9L1071.6 194.5L1073.8 197.1ZM1066.0 169.2L1070.6 164.3L1072.4 167.2ZM1065.2 139.6L1070.1 135.0L1071.8 138.0ZM1064.0 108.6L1069.5 104.7L1070.7 107.9ZM1090.8 638.3L1097.2 636.6L1097.2 640.0ZM1094.6 597.1L1101.0 599.2L1099.1 602.1ZM1111.9 558.3L1114.2 564.6L1110.9 564.9ZM1123.0 531.5L1122.1 538.2L1119.0 536.9ZM1127.9 505.9L1125.5 512.2L1122.7 510.2ZM1130.6 479.8L1127.3 485.7L1124.9 483.3ZM1132.6 453.6L1128.6 459.0L1126.4 456.4ZM1134.0 427.4L1129.5 432.3L1127.7 429.4ZM1135.6 401.9L1130.4 406.1L1129.0 403.0ZM1136.8 376.8L1131.0 380.2L1130.1 377.0ZM1137.7 356.4L1131.1 357.7L1131.3 354.3ZM1134.9 337.9L1128.4 336.3L1130.0 333.3ZM1122.4 320.5L1118.5 314.9L1121.7 313.8ZM1106.5 292.3L1107.1 285.6L1110.3 286.7ZM1100.3 260.6L1102.8 254.4L1105.5 256.4ZM1096.7 229.0L1100.4 223.4L1102.7 226.0ZM1094.9 198.4L1099.3 193.3L1101.2 196.1ZM1093.5 167.7L1098.4 163.2L1100.0 166.2ZM1092.8 138.1L1098.0 133.9L1099.4 137.0ZM1091.7 106.9L1097.5 103.4L1098.5 106.6ZM1119.4 634.7L1126.0 634.0L1125.5 637.4ZM1123.8 595.8L1130.0 598.4L1128.0 601.1ZM1136.2 559.0L1139.6 564.8L1136.3 565.8ZM1148.0 530.5L1148.2 537.2L1144.8 536.4ZM1153.1 504.0L1151.7 510.6L1148.7 509.0ZM1156.3 477.6L1153.9 483.9L1151.2 481.9ZM1158.6 451.2L1155.4 457.1L1152.9 454.8ZM1159.8 424.0L1156.2 429.7L1153.8 427.2ZM1162.1 398.6L1157.6 403.6L1155.7 400.8ZM1163.1 372.0L1158.3 376.6L1156.6 373.6ZM1165.5 349.8L1159.5 352.9L1158.8 349.6ZM1165.2 333.1L1158.5 332.9L1159.4 329.7ZM1146.1 321.6L1143.4 315.5L1146.8 315.0ZM1129.0 289.3L1131.4 283.0L1134.2 284.9ZM1124.9 257.2L1128.7 251.7L1130.9 254.2ZM1122.4 225.5L1127.1 220.7L1128.9 223.6ZM1121.3 195.0L1126.4 190.7L1127.9 193.8ZM1120.6 165.2L1126.1 161.2L1127.3 164.4ZM1119.9 134.7L1125.7 131.3L1126.6 134.6ZM1119.3 103.0L1125.5 100.5L1125.9 103.9ZM1147.9 633.6L1154.6 633.2L1153.9 636.5ZM1152.4 595.5L1158.6 598.1L1156.5 600.8ZM1163.0 559.5L1166.8 565.1L1163.6 566.2ZM1170.9 529.8L1172.6 536.3L1169.2 536.3ZM1177.2 502.4L1177.1 509.1L1173.8 508.2ZM1179.6 474.9L1178.8 481.5L1175.6 480.3ZM1182.3 447.8L1180.6 454.3L1177.7 452.7ZM1184.7 421.0L1182.2 427.2L1179.5 425.3ZM1186.1 393.7L1183.2 399.8L1180.6 397.6ZM1187.7 367.0L1184.3 372.7L1181.9 370.3ZM1189.5 340.7L1185.4 346.0L1183.3 343.3ZM1191.9 316.2L1186.9 320.6L1185.3 317.6ZM1154.3 315.0L1157.7 309.2L1160.1 311.6ZM1151.1 282.7L1155.6 277.8L1157.5 280.6ZM1150.5 253.4L1155.3 248.7L1157.0 251.6ZM1149.2 222.5L1154.6 218.4L1155.9 221.5ZM1148.7 192.9L1154.3 189.2L1155.4 192.4ZM1147.9 161.8L1153.9 158.8L1154.7 162.1ZM1147.8 132.9L1153.9 130.0L1154.5 133.4ZM1147.4 100.1L1153.9 98.4L1153.9 101.8ZM1176.8 631.2L1183.5 631.6L1182.5 634.8ZM1180.7 595.6L1186.8 598.2L1184.7 600.9ZM1188.3 560.8L1192.9 565.8L1189.8 567.4ZM1195.6 530.1L1198.3 536.3L1194.9 536.8ZM1199.2 501.5L1200.9 508.0L1197.5 508.0ZM1203.3 473.5L1203.8 480.2L1200.5 479.6ZM1205.7 445.8L1205.6 452.5L1202.3 451.5ZM1207.5 418.0L1206.8 424.7L1203.6 423.5ZM1207.6 389.7L1206.9 396.4L1203.7 395.2ZM1207.0 361.2L1206.4 367.9L1203.2 366.8ZM1204.6 332.2L1204.8 338.9L1201.4 338.1ZM1192.7 304.2L1196.1 309.9L1192.9 310.9ZM1176.5 292.5L1183.2 292.5L1182.3 295.8ZM1175.9 272.9L1182.1 270.4L1182.5 273.8ZM1176.2 246.4L1182.2 243.4L1182.9 246.8ZM1176.3 218.5L1182.3 215.5L1183.0 218.8ZM1176.1 189.4L1182.2 186.5L1182.8 189.9ZM1175.9 159.7L1182.1 157.2L1182.6 160.6ZM1175.9 131.4L1182.1 128.9L1182.6 132.3ZM1175.8 98.5L1182.4 97.3L1182.1 100.7ZM1205.2 631.0L1211.9 631.4L1210.9 634.6ZM1208.8 595.8L1215.0 598.3L1213.0 601.1ZM1214.6 562.0L1219.6 566.5L1216.8 568.4ZM1219.6 531.2L1223.4 536.8L1220.2 537.9ZM1223.6 501.8L1226.4 508.0L1223.0 508.5ZM1225.2 473.3L1227.5 479.6L1224.2 479.9ZM1226.3 444.9L1228.4 451.3L1225.0 451.5ZM1226.4 416.6L1228.4 423.0L1225.0 423.1ZM1224.9 388.3L1227.3 394.6L1224.0 395.0ZM1224.1 360.1L1226.7 366.3L1223.3 366.8ZM1219.5 333.0L1223.3 338.5L1220.1 339.7ZM1212.3 308.8L1217.8 312.7L1215.2 314.9ZM1206.2 288.5L1212.8 289.7L1211.4 292.8ZM1204.4 266.2L1211.1 265.6L1210.5 268.9ZM1204.1 241.7L1210.6 240.0L1210.6 243.4ZM1204.1 214.8L1210.5 212.7L1210.7 216.1ZM1204.1 186.7L1210.5 184.6L1210.7 187.9ZM1204.1 156.8L1210.6 155.1L1210.6 158.5ZM1204.1 128.4L1210.6 126.7L1210.6 130.1ZM1204.2 97.2L1210.9 96.3L1210.5 99.7ZM1233.9 629.9L1240.6 630.7L1239.4 633.8ZM1236.4 596.9L1242.7 599.1L1240.8 601.9ZM1240.1 564.2L1245.7 567.9L1243.2 570.2ZM1244.6 532.7L1249.2 537.6L1246.2 539.2ZM1247.1 503.2L1251.1 508.6L1247.9 509.9ZM1247.5 474.7L1251.4 480.2L1248.2 481.4ZM1249.0 445.9L1252.6 451.6L1249.3 452.6ZM1248.4 417.8L1252.1 423.4L1248.8 424.5ZM1246.6 390.1L1250.7 395.4L1247.6 396.8ZM1244.9 362.6L1249.5 367.5L1246.5 369.1ZM1240.8 337.0L1246.3 340.9L1243.7 343.1ZM1237.6 312.0L1243.7 314.7L1241.6 317.4ZM1234.9 287.8L1241.5 289.2L1239.9 292.3ZM1233.5 262.8L1240.2 263.2L1239.2 266.5ZM1232.7 237.9L1239.4 237.3L1238.8 240.6ZM1232.5 211.2L1239.1 210.1L1238.8 213.5ZM1232.4 183.8L1239.0 182.4L1238.8 185.8ZM1232.5 154.5L1239.1 153.5L1238.8 156.9ZM1232.5 126.2L1239.1 125.1L1238.8 128.5ZM1232.7 96.3L1239.4 95.7L1238.8 99.0ZM1262.2 629.9L1268.9 630.7L1267.7 633.8ZM1264.7 596.9L1271.0 599.1L1269.1 601.9ZM1267.8 564.8L1273.6 568.3L1271.1 570.6ZM1270.7 534.1L1275.9 538.4L1273.1 540.4ZM1272.8 504.4L1277.5 509.3L1274.5 510.9ZM1274.1 475.5L1278.4 480.6L1275.3 482.1ZM1273.5 447.4L1278.0 452.4L1274.9 454.0ZM1272.9 419.4L1277.5 424.3L1274.5 425.9ZM1271.6 391.9L1276.5 396.5L1273.6 398.3ZM1269.4 365.1L1274.8 369.1L1272.2 371.3ZM1267.4 338.7L1273.2 342.0L1270.8 344.4ZM1265.0 313.2L1271.3 315.5L1269.3 318.3ZM1263.7 287.0L1270.2 288.7L1268.5 291.6ZM1262.6 260.8L1269.3 261.8L1267.9 264.9ZM1261.3 236.3L1268.1 236.1L1267.3 239.4ZM1261.1 209.0L1267.8 208.6L1267.2 211.9ZM1260.9 182.1L1267.6 181.2L1267.1 184.6ZM1261.0 153.3L1267.6 152.6L1267.1 155.9ZM1261.0 124.7L1267.7 124.1L1267.1 127.4ZM1261.3 94.9L1268.0 94.7L1267.3 98.0ZM1290.6 629.9L1297.2 630.7L1296.0 633.8ZM1292.6 597.5L1299.0 599.5L1297.2 602.4ZM1295.3 565.6L1301.3 568.8L1298.9 571.3ZM1297.5 535.3L1302.9 539.2L1300.3 541.4ZM1299.8 505.3L1304.7 509.8L1301.9 511.6ZM1300.1 476.7L1305.0 481.4L1302.1 483.1ZM1299.5 448.8L1304.6 453.2L1301.7 455.1ZM1298.5 421.1L1303.8 425.4L1301.0 427.4ZM1297.7 393.5L1303.1 397.4L1300.5 399.6ZM1295.9 366.8L1301.7 370.2L1299.3 372.6ZM1294.6 339.8L1300.7 342.7L1298.5 345.3ZM1292.6 314.3L1299.0 316.3L1297.2 319.2ZM1291.8 287.3L1298.3 288.9L1296.7 291.9ZM1290.9 261.0L1297.5 261.9L1296.2 265.0ZM1289.9 235.5L1296.6 235.6L1295.7 238.9ZM1289.9 207.2L1296.6 207.3L1295.7 210.5ZM1289.5 180.4L1296.2 180.0L1295.5 183.4ZM1289.6 151.4L1296.4 151.2L1295.6 154.5ZM1289.5 123.5L1296.3 123.2L1295.5 126.6ZM1290.1 93.0L1296.8 93.4L1295.8 96.6ZM1318.9 629.8L1325.6 630.6L1324.4 633.7ZM1320.5 598.2L1327.0 600.0L1325.3 602.9ZM1322.8 566.6L1328.9 569.5L1326.7 572.1ZM1325.0 536.0L1330.6 539.7L1328.1 542.0ZM1326.3 506.5L1331.7 510.6L1329.0 512.7ZM1326.5 478.1L1331.8 482.2L1329.1 484.3ZM1325.4 450.6L1331.0 454.4L1328.4 456.6ZM1325.2 422.5L1330.8 426.2L1328.3 428.5ZM1324.2 395.1L1330.0 398.5L1327.6 400.9ZM1323.4 367.7L1329.3 370.8L1327.1 373.3ZM1322.0 341.1L1328.2 343.6L1326.2 346.3ZM1320.8 314.5L1327.2 316.4L1325.5 319.3ZM1319.7 288.1L1326.3 289.4L1324.8 292.5ZM1319.2 261.0L1325.8 261.9L1324.5 265.0ZM1318.6 234.0L1325.3 234.6L1324.2 237.8ZM1318.2 207.2L1324.9 207.3L1324.0 210.5ZM1318.1 179.3L1324.8 179.3L1324.0 182.5ZM1318.3 150.3L1325.0 150.5L1324.0 153.7ZM1317.9 123.5L1324.6 123.2L1323.9 126.6ZM1318.3 93.7L1325.0 93.8L1324.0 97.1ZM1347.3 629.8L1353.9 630.6L1352.7 633.7ZM1348.6 598.6L1355.1 600.2L1353.5 603.2ZM1351.1 566.6L1357.2 569.5L1355.0 572.1ZM1352.7 536.6L1358.4 540.0L1356.0 542.4ZM1353.7 507.3L1359.3 511.1L1356.7 513.3ZM1353.4 479.3L1359.0 483.0L1356.5 485.2ZM1352.9 451.4L1358.6 454.9L1356.2 457.3ZM1352.1 423.9L1358.0 427.1L1355.6 429.6ZM1351.7 396.0L1357.7 399.1L1355.4 401.6ZM1350.7 368.9L1356.8 371.6L1354.7 374.2ZM1349.3 342.5L1355.7 344.5L1353.9 347.4ZM1348.6 315.3L1355.1 317.0L1353.5 320.0ZM1347.7 288.9L1354.3 290.0L1352.9 293.1ZM1347.4 261.3L1354.0 262.2L1352.8 265.3ZM1347.0 234.0L1353.7 234.6L1352.6 237.8ZM1346.5 207.2L1353.2 207.3L1352.3 210.5ZM1346.4 179.3L1353.1 179.3L1352.3 182.5ZM1346.6 150.3L1353.3 150.5L1352.4 153.7ZM1346.2 123.5L1352.9 123.2L1352.2 126.6ZM1346.6 93.7L1353.3 93.8L1352.4 97.1Z" fill="#7410dc" stroke="#7410dc" stroke-width="0.7" stroke-linejoin="round"/></g>
<text transform="translate(1.30,33.20) scale(0.2209,0.2196)" font-size="200" font-weight="bold" fill="#000">A</text>
<text transform="translate(268.58,41.90) scale(0.2221,0.2399)" font-size="200" stroke="#000" stroke-width="1.95" fill="#000">Λ</text>
<text transform="translate(298.63,48.15) scale(0.1518,0.1536)" font-size="200" stroke="#000" stroke-width="2.95" fill="#000">Φ</text>
<text transform="translate(260.58,382.70) scale(0.2229,0.2399)" font-size="200" stroke="#000" stroke-width="1.95" fill="#000">Λ</text>
<text transform="translate(290.60,388.85) scale(0.1547,0.1529)" font-size="200" stroke="#000" stroke-width="2.93" fill="#000">Φ</text>
<path d="M323.2 359.8 L328.0 360.8 L318.7 381.0 L317.0 380.6 Z" fill="#000" stroke="#000" stroke-width="0.6" stroke-linejoin="round"/>
<text transform="translate(134.21,67.90) scale(0.1663,0.1616)" font-size="200" stroke="#000" stroke-width="2.75" fill="#000">1</text>
<text transform="translate(103.66,194.77) scale(0.1679,0.1627)" font-size="200" stroke="#000" stroke-width="2.72" fill="#000">0.5</text>
<text transform="translate(133.81,319.48) scale(0.1737,0.1613)" font-size="200" stroke="#000" stroke-width="2.69" fill="#000">0</text>
<text transform="translate(133.64,408.50) scale(0.1709,0.1638)" font-size="200" stroke="#000" stroke-width="2.69" fill="#000">1</text>
<text transform="translate(104.08,534.89) scale(0.1649,0.1549)" font-size="200" stroke="#000" stroke-width="2.82" fill="#000">0.5</text>
<text transform="translate(133.81,661.08) scale(0.1737,0.1613)" font-size="200" stroke="#000" stroke-width="2.69" fill="#000">0</text>
<text transform="translate(159.16,688.50) scale(0.1674,0.1479)" font-size="200" stroke="#000" stroke-width="2.86" fill="#000">0</text>
<text transform="translate(269.96,688.50) scale(0.1679,0.1479)" font-size="200" stroke="#000" stroke-width="2.86" fill="#000">0.5</text>
<text transform="translate(411.02,688.30) scale(0.1721,0.1486)" font-size="200" stroke="#000" stroke-width="2.81" fill="#000">1</text>
<text transform="translate(76.61,207.01) rotate(-90) scale(0.2309,0.2442)" font-size="200" font-style="italic" stroke="#000" stroke-width="1.89" fill="#000">θ</text>
<text transform="translate(82.69,180.27) rotate(-90) scale(0.1570,0.1622)" font-size="200" font-style="italic" stroke="#000" stroke-width="2.82" fill="#000">y</text>
<text transform="translate(76.42,548.51) rotate(-90) scale(0.2412,0.2395)" font-size="200" font-style="italic" stroke="#000" stroke-width="1.87" fill="#000">θ</text>
<text transform="translate(82.43,521.27) rotate(-90) scale(0.1570,0.1635)" font-size="200" font-style="italic" stroke="#000" stroke-width="2.81" fill="#000">y</text>
<text transform="translate(270.49,740.43) scale(0.2505,0.2361)" font-size="200" font-style="italic" stroke="#000" stroke-width="1.85" fill="#000">θ</text>
<text transform="translate(297.82,747.60) scale(0.1655,0.1708)" font-size="200" font-style="italic" stroke="#000" stroke-width="2.68" fill="#000">x</text>
<text transform="translate(554.21,227.60) scale(0.1663,0.1594)" font-size="200" stroke="#000" stroke-width="2.76" fill="#000">1</text>
<text transform="translate(553.34,395.40) scale(0.1698,0.1479)" font-size="200" stroke="#000" stroke-width="2.84" fill="#000">0.5</text>
<text transform="translate(553.28,561.89) scale(0.1779,0.1549)" font-size="200" stroke="#000" stroke-width="2.71" fill="#000">0</text>
<text transform="translate(684.20,33.00) scale(0.2074,0.2123)" font-size="200" font-weight="bold" fill="#000">B</text>
<text transform="translate(798.88,76.10) scale(0.1081,0.1609)" font-size="200" fill="#000">1</text>
<text transform="translate(771.33,189.27) scale(0.1588,0.1669)" font-size="200" fill="#000">0.8</text>
<text transform="translate(771.32,302.57) scale(0.1594,0.1669)" font-size="200" fill="#000">0.6</text>
<text transform="translate(771.34,415.87) scale(0.1576,0.1669)" font-size="200" fill="#000">0.4</text>
<text transform="translate(771.32,529.17) scale(0.1600,0.1669)" font-size="200" fill="#000">0.2</text>
<text transform="translate(796.42,642.47) scale(0.1726,0.1669)" font-size="200" fill="#000">0</text>
<text transform="translate(822.76,665.07) scale(0.1674,0.1648)" font-size="200" fill="#000">0</text>
<text transform="translate(923.04,665.07) scale(0.1577,0.1648)" font-size="200" fill="#000">0.2</text>
<text transform="translate(1036.36,665.07) scale(0.1553,0.1648)" font-size="200" fill="#000">0.4</text>
<text transform="translate(1149.64,665.07) scale(0.1571,0.1648)" font-size="200" fill="#000">0.6</text>
<text transform="translate(1262.95,665.07) scale(0.1565,0.1648)" font-size="200" fill="#000">0.8</text>
<text transform="translate(1391.34,665.00) scale(0.1105,0.1623)" font-size="200" fill="#000">1</text>
<text transform="translate(1092.38,697.82) scale(0.2022,0.1891)" font-size="200" fill="#000">θ</text>
<text transform="translate(1115.33,708.00) scale(0.1568,0.1774)" font-size="200" fill="#000">x</text>
<text transform="translate(767.22,375.77) rotate(-90) scale(0.1967,0.1878)" font-size="200" fill="#000">θ</text>
<text transform="translate(774.33,352.04) rotate(-90) scale(0.1439,0.1588)" font-size="200" fill="#000">y</text>
</svg>
</div></body></html>
